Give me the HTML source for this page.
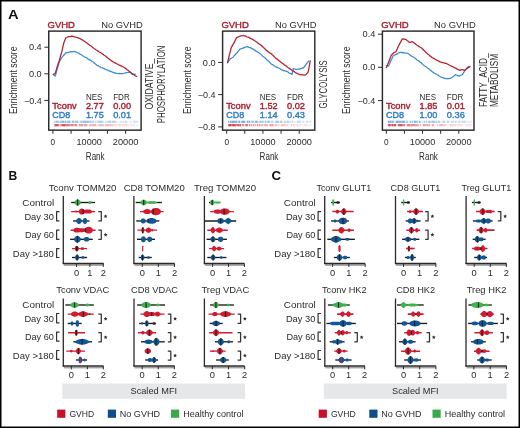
<!DOCTYPE html>
<html><head><meta charset="utf-8"><title>Figure</title>
<style>html,body{margin:0;padding:0;background:#fff;}body{width:520px;height:428px;overflow:hidden;font-family:"Liberation Sans",sans-serif;}svg{display:block;will-change:transform;}</style>
</head><body>
<svg width="520" height="428" viewBox="0 0 520 428" font-family="'Liberation Sans', sans-serif"><rect x="0" y="0" width="520" height="428" fill="#fff"/>
<text x="7.90" y="18.60" font-size="13.6" fill="#111" font-weight="bold" textLength="10.60" lengthAdjust="spacingAndGlyphs">A</text>
<text x="47.55" y="27.90" font-size="8.9" fill="#ab1d2e" stroke="#ab1d2e" stroke-width="0.38" stroke-linejoin="round" textLength="27.40" lengthAdjust="spacingAndGlyphs">GVHD</text>
<text x="142.90" y="28.00" font-size="8.9" fill="#2b2b2b" text-anchor="end" textLength="41.70" lengthAdjust="spacingAndGlyphs">No GVHD</text>
<line x1="44.35" y1="47.20" x2="48.75" y2="47.20" stroke="#2a2a2a" stroke-width="1.0"/>
<text x="41.75" y="50.30" font-size="8.7" fill="#2b2b2b" text-anchor="end" textLength="12.80" lengthAdjust="spacingAndGlyphs">0.4</text>
<line x1="44.35" y1="73.80" x2="48.75" y2="73.80" stroke="#2a2a2a" stroke-width="1.0"/>
<text x="41.75" y="76.90" font-size="8.7" fill="#2b2b2b" text-anchor="end" textLength="12.80" lengthAdjust="spacingAndGlyphs">0.0</text>
<line x1="44.35" y1="100.40" x2="48.75" y2="100.40" stroke="#2a2a2a" stroke-width="1.0"/>
<text x="41.75" y="103.50" font-size="8.7" fill="#2b2b2b" text-anchor="end" textLength="17.80" lengthAdjust="spacingAndGlyphs">−0.4</text>
<line x1="52.90" y1="130.15" x2="52.90" y2="133.75" stroke="#2a2a2a" stroke-width="1.0"/>
<line x1="71.08" y1="130.15" x2="71.08" y2="133.75" stroke="#2a2a2a" stroke-width="1.0"/>
<line x1="89.26" y1="130.15" x2="89.26" y2="133.75" stroke="#2a2a2a" stroke-width="1.0"/>
<line x1="107.44" y1="130.15" x2="107.44" y2="133.75" stroke="#2a2a2a" stroke-width="1.0"/>
<line x1="125.62" y1="130.15" x2="125.62" y2="133.75" stroke="#2a2a2a" stroke-width="1.0"/>
<text x="52.90" y="144.80" font-size="9.2" fill="#2b2b2b" text-anchor="middle" textLength="4.60" lengthAdjust="spacingAndGlyphs">0</text>
<text x="89.26" y="144.80" font-size="9.2" fill="#2b2b2b" text-anchor="middle" textLength="25.40" lengthAdjust="spacingAndGlyphs">10000</text>
<text x="125.62" y="144.80" font-size="9.2" fill="#2b2b2b" text-anchor="middle" textLength="25.60" lengthAdjust="spacingAndGlyphs">20000</text>
<text x="95.22" y="160.20" font-size="10.4" fill="#2b2b2b" text-anchor="middle" textLength="18.80" lengthAdjust="spacingAndGlyphs">Rank</text>
<text x="16.50" y="114.00" font-size="10.4" fill="#2b2b2b" textLength="67.60" lengthAdjust="spacingAndGlyphs" transform="rotate(-90 16.50 114.00)">Enrichment score</text>
<text x="85.95" y="99.90" font-size="8.8" fill="#2b2b2b" textLength="16.40" lengthAdjust="spacingAndGlyphs">NES</text>
<text x="113.15" y="99.90" font-size="8.8" fill="#2b2b2b" textLength="16.60" lengthAdjust="spacingAndGlyphs">FDR</text>
<text x="52.35" y="108.80" font-size="8.8" fill="#ab1d2e" stroke="#ab1d2e" stroke-width="0.38" stroke-linejoin="round" textLength="24.40" lengthAdjust="spacingAndGlyphs">Tconv</text>
<text x="52.35" y="118.40" font-size="8.8" fill="#2e7cc7" stroke="#2e7cc7" stroke-width="0.38" stroke-linejoin="round" textLength="18.00" lengthAdjust="spacingAndGlyphs">CD8</text>
<text x="85.95" y="108.80" font-size="8.8" fill="#ab1d2e" stroke="#ab1d2e" stroke-width="0.38" stroke-linejoin="round" textLength="17.80" lengthAdjust="spacingAndGlyphs">2.77</text>
<text x="113.15" y="108.80" font-size="8.8" fill="#ab1d2e" stroke="#ab1d2e" stroke-width="0.38" stroke-linejoin="round" textLength="18.00" lengthAdjust="spacingAndGlyphs">0.00</text>
<text x="85.95" y="118.40" font-size="8.8" fill="#2e7cc7" stroke="#2e7cc7" stroke-width="0.38" stroke-linejoin="round" textLength="17.80" lengthAdjust="spacingAndGlyphs">1.75</text>
<text x="113.15" y="118.40" font-size="8.8" fill="#2e7cc7" stroke="#2e7cc7" stroke-width="0.38" stroke-linejoin="round" textLength="18.00" lengthAdjust="spacingAndGlyphs">0.01</text>
<rect x="54.25" y="120.70" width="1.0" height="2.2" fill="#3a86cf" fill-opacity="0.59"/>
<rect x="55.25" y="120.70" width="1.0" height="2.2" fill="#3a86cf" fill-opacity="0.18"/>
<rect x="56.25" y="120.70" width="1.0" height="2.2" fill="#3a86cf" fill-opacity="0.67"/>
<rect x="57.25" y="120.70" width="1.0" height="2.2" fill="#3a86cf" fill-opacity="0.49"/>
<rect x="58.25" y="120.70" width="1.0" height="2.2" fill="#3a86cf" fill-opacity="0.48"/>
<rect x="59.25" y="120.70" width="1.0" height="2.2" fill="#3a86cf" fill-opacity="0.12"/>
<rect x="60.25" y="120.70" width="1.0" height="2.2" fill="#3a86cf" fill-opacity="0.63"/>
<rect x="61.25" y="120.70" width="1.0" height="2.2" fill="#3a86cf" fill-opacity="0.51"/>
<rect x="62.25" y="120.70" width="1.0" height="2.2" fill="#3a86cf" fill-opacity="0.71"/>
<rect x="63.25" y="120.70" width="1.0" height="2.2" fill="#3a86cf" fill-opacity="0.69"/>
<rect x="64.25" y="120.70" width="1.0" height="2.2" fill="#3a86cf" fill-opacity="0.21"/>
<rect x="65.25" y="120.70" width="1.0" height="2.2" fill="#3a86cf" fill-opacity="0.80"/>
<rect x="66.25" y="120.70" width="1.0" height="2.2" fill="#3a86cf" fill-opacity="0.13"/>
<rect x="67.25" y="120.70" width="1.0" height="2.2" fill="#3a86cf" fill-opacity="0.59"/>
<rect x="68.25" y="120.70" width="1.0" height="2.2" fill="#3a86cf" fill-opacity="0.54"/>
<rect x="69.25" y="120.70" width="1.0" height="2.2" fill="#3a86cf" fill-opacity="0.71"/>
<rect x="70.25" y="120.70" width="1.0" height="2.2" fill="#3a86cf" fill-opacity="0.17"/>
<rect x="71.25" y="120.70" width="1.0" height="2.2" fill="#3a86cf" fill-opacity="0.12"/>
<rect x="72.25" y="120.70" width="1.0" height="2.2" fill="#3a86cf" fill-opacity="0.73"/>
<rect x="73.25" y="120.70" width="1.0" height="2.2" fill="#3a86cf" fill-opacity="0.52"/>
<rect x="74.25" y="120.70" width="1.0" height="2.2" fill="#3a86cf" fill-opacity="0.14"/>
<rect x="75.25" y="120.70" width="1.0" height="2.2" fill="#3a86cf" fill-opacity="0.66"/>
<rect x="76.25" y="120.70" width="1.0" height="2.2" fill="#3a86cf" fill-opacity="0.48"/>
<rect x="77.25" y="120.70" width="1.0" height="2.2" fill="#3a86cf" fill-opacity="0.56"/>
<rect x="78.25" y="120.70" width="1.0" height="2.2" fill="#3a86cf" fill-opacity="0.16"/>
<rect x="79.25" y="120.70" width="1.0" height="2.2" fill="#3a86cf" fill-opacity="0.17"/>
<rect x="80.25" y="120.70" width="1.0" height="2.2" fill="#3a86cf" fill-opacity="0.51"/>
<rect x="81.25" y="120.70" width="1.0" height="2.2" fill="#3a86cf" fill-opacity="0.43"/>
<rect x="82.25" y="120.70" width="1.0" height="2.2" fill="#3a86cf" fill-opacity="0.39"/>
<rect x="83.25" y="120.70" width="1.0" height="2.2" fill="#3a86cf" fill-opacity="0.60"/>
<rect x="84.25" y="120.70" width="1.0" height="2.2" fill="#3a86cf" fill-opacity="0.63"/>
<rect x="85.25" y="120.70" width="1.0" height="2.2" fill="#3a86cf" fill-opacity="0.57"/>
<rect x="86.25" y="120.70" width="1.0" height="2.2" fill="#3a86cf" fill-opacity="0.53"/>
<rect x="87.25" y="120.70" width="1.0" height="2.2" fill="#3a86cf" fill-opacity="0.60"/>
<rect x="88.25" y="120.70" width="1.0" height="2.2" fill="#3a86cf" fill-opacity="0.49"/>
<rect x="89.25" y="120.70" width="1.0" height="2.2" fill="#3a86cf" fill-opacity="0.36"/>
<rect x="90.25" y="120.70" width="1.0" height="2.2" fill="#3a86cf" fill-opacity="0.52"/>
<rect x="91.25" y="120.70" width="1.0" height="2.2" fill="#3a86cf" fill-opacity="0.14"/>
<rect x="92.25" y="120.70" width="1.0" height="2.2" fill="#3a86cf" fill-opacity="0.44"/>
<rect x="93.25" y="120.70" width="1.0" height="2.2" fill="#3a86cf" fill-opacity="0.34"/>
<rect x="94.25" y="120.70" width="1.0" height="2.2" fill="#3a86cf" fill-opacity="0.09"/>
<rect x="95.25" y="120.70" width="1.0" height="2.2" fill="#3a86cf" fill-opacity="0.34"/>
<rect x="96.25" y="120.70" width="1.0" height="2.2" fill="#3a86cf" fill-opacity="0.09"/>
<rect x="97.25" y="120.70" width="1.0" height="2.2" fill="#3a86cf" fill-opacity="0.42"/>
<rect x="98.25" y="120.70" width="1.0" height="2.2" fill="#3a86cf" fill-opacity="0.33"/>
<rect x="99.25" y="120.70" width="1.0" height="2.2" fill="#3a86cf" fill-opacity="0.45"/>
<rect x="100.25" y="120.70" width="1.0" height="2.2" fill="#3a86cf" fill-opacity="0.51"/>
<rect x="101.25" y="120.70" width="1.0" height="2.2" fill="#3a86cf" fill-opacity="0.37"/>
<rect x="102.25" y="120.70" width="1.0" height="2.2" fill="#3a86cf" fill-opacity="0.38"/>
<rect x="103.25" y="120.70" width="1.0" height="2.2" fill="#3a86cf" fill-opacity="0.13"/>
<rect x="104.25" y="120.70" width="1.0" height="2.2" fill="#3a86cf" fill-opacity="0.08"/>
<rect x="105.25" y="120.70" width="1.0" height="2.2" fill="#3a86cf" fill-opacity="0.34"/>
<rect x="106.25" y="120.70" width="1.0" height="2.2" fill="#3a86cf" fill-opacity="0.10"/>
<rect x="107.25" y="120.70" width="1.0" height="2.2" fill="#3a86cf" fill-opacity="0.28"/>
<rect x="108.25" y="120.70" width="1.0" height="2.2" fill="#3a86cf" fill-opacity="0.35"/>
<rect x="109.25" y="120.70" width="1.0" height="2.2" fill="#3a86cf" fill-opacity="0.48"/>
<rect x="110.25" y="120.70" width="1.0" height="2.2" fill="#3a86cf" fill-opacity="0.38"/>
<rect x="111.25" y="120.70" width="1.0" height="2.2" fill="#3a86cf" fill-opacity="0.10"/>
<rect x="112.25" y="120.70" width="1.0" height="2.2" fill="#3a86cf" fill-opacity="0.44"/>
<rect x="113.25" y="120.70" width="1.0" height="2.2" fill="#3a86cf" fill-opacity="0.43"/>
<rect x="114.25" y="120.70" width="1.0" height="2.2" fill="#3a86cf" fill-opacity="0.33"/>
<rect x="115.25" y="120.70" width="1.0" height="2.2" fill="#3a86cf" fill-opacity="0.26"/>
<rect x="116.25" y="120.70" width="1.0" height="2.2" fill="#3a86cf" fill-opacity="0.06"/>
<rect x="117.25" y="120.70" width="1.0" height="2.2" fill="#3a86cf" fill-opacity="0.07"/>
<rect x="118.25" y="120.70" width="1.0" height="2.2" fill="#3a86cf" fill-opacity="0.07"/>
<rect x="119.25" y="120.70" width="1.0" height="2.2" fill="#3a86cf" fill-opacity="0.06"/>
<rect x="120.25" y="120.70" width="1.0" height="2.2" fill="#3a86cf" fill-opacity="0.24"/>
<rect x="121.25" y="120.70" width="1.0" height="2.2" fill="#3a86cf" fill-opacity="0.22"/>
<rect x="122.25" y="120.70" width="1.0" height="2.2" fill="#3a86cf" fill-opacity="0.08"/>
<rect x="123.25" y="120.70" width="1.0" height="2.2" fill="#3a86cf" fill-opacity="0.26"/>
<rect x="124.25" y="120.70" width="1.0" height="2.2" fill="#3a86cf" fill-opacity="0.07"/>
<rect x="125.25" y="120.70" width="1.0" height="2.2" fill="#3a86cf" fill-opacity="0.35"/>
<rect x="126.25" y="120.70" width="1.0" height="2.2" fill="#3a86cf" fill-opacity="0.28"/>
<rect x="127.25" y="120.70" width="1.0" height="2.2" fill="#3a86cf" fill-opacity="0.05"/>
<rect x="128.25" y="120.70" width="1.0" height="2.2" fill="#3a86cf" fill-opacity="0.06"/>
<rect x="129.25" y="120.70" width="1.0" height="2.2" fill="#3a86cf" fill-opacity="0.08"/>
<rect x="130.25" y="120.70" width="1.0" height="2.2" fill="#3a86cf" fill-opacity="0.19"/>
<rect x="131.25" y="120.70" width="1.0" height="2.2" fill="#3a86cf" fill-opacity="0.06"/>
<rect x="132.25" y="120.70" width="1.0" height="2.2" fill="#3a86cf" fill-opacity="0.06"/>
<rect x="133.25" y="120.70" width="1.0" height="2.2" fill="#3a86cf" fill-opacity="0.25"/>
<rect x="134.25" y="120.70" width="1.0" height="2.2" fill="#3a86cf" fill-opacity="0.29"/>
<rect x="135.25" y="120.70" width="1.0" height="2.2" fill="#3a86cf" fill-opacity="0.20"/>
<rect x="136.25" y="120.70" width="1.0" height="2.2" fill="#3a86cf" fill-opacity="0.18"/>
<rect x="137.25" y="120.70" width="1.0" height="2.2" fill="#3a86cf" fill-opacity="0.23"/>
<rect x="54.25" y="124.00" width="1.0" height="2.3" fill="#c11f33" fill-opacity="0.66"/>
<rect x="55.25" y="124.00" width="1.0" height="2.3" fill="#c11f33" fill-opacity="0.87"/>
<rect x="56.25" y="124.00" width="1.0" height="2.3" fill="#c11f33" fill-opacity="0.89"/>
<rect x="57.25" y="124.00" width="1.0" height="2.3" fill="#c11f33" fill-opacity="0.87"/>
<rect x="58.25" y="124.00" width="1.0" height="2.3" fill="#c11f33" fill-opacity="0.62"/>
<rect x="59.25" y="124.00" width="1.0" height="2.3" fill="#c11f33" fill-opacity="0.17"/>
<rect x="60.25" y="124.00" width="1.0" height="2.3" fill="#c11f33" fill-opacity="0.53"/>
<rect x="61.25" y="124.00" width="1.0" height="2.3" fill="#c11f33" fill-opacity="0.63"/>
<rect x="62.25" y="124.00" width="1.0" height="2.3" fill="#c11f33" fill-opacity="0.93"/>
<rect x="63.25" y="124.00" width="1.0" height="2.3" fill="#c11f33" fill-opacity="0.92"/>
<rect x="64.25" y="124.00" width="1.0" height="2.3" fill="#c11f33" fill-opacity="0.93"/>
<rect x="65.25" y="124.00" width="1.0" height="2.3" fill="#c11f33" fill-opacity="0.62"/>
<rect x="66.25" y="124.00" width="1.0" height="2.3" fill="#c11f33" fill-opacity="0.61"/>
<rect x="67.25" y="124.00" width="1.0" height="2.3" fill="#c11f33" fill-opacity="0.79"/>
<rect x="68.25" y="124.00" width="1.0" height="2.3" fill="#c11f33" fill-opacity="0.64"/>
<rect x="69.25" y="124.00" width="1.0" height="2.3" fill="#c11f33" fill-opacity="0.58"/>
<rect x="70.25" y="124.00" width="1.0" height="2.3" fill="#c11f33" fill-opacity="0.40"/>
<rect x="71.25" y="124.00" width="1.0" height="2.3" fill="#c11f33" fill-opacity="0.64"/>
<rect x="72.25" y="124.00" width="1.0" height="2.3" fill="#c11f33" fill-opacity="0.58"/>
<rect x="73.25" y="124.00" width="1.0" height="2.3" fill="#c11f33" fill-opacity="0.41"/>
<rect x="74.25" y="124.00" width="1.0" height="2.3" fill="#c11f33" fill-opacity="0.45"/>
<rect x="75.25" y="124.00" width="1.0" height="2.3" fill="#c11f33" fill-opacity="0.62"/>
<rect x="76.25" y="124.00" width="1.0" height="2.3" fill="#c11f33" fill-opacity="0.45"/>
<rect x="77.25" y="124.00" width="1.0" height="2.3" fill="#c11f33" fill-opacity="0.13"/>
<rect x="78.25" y="124.00" width="1.0" height="2.3" fill="#c11f33" fill-opacity="0.09"/>
<rect x="79.25" y="124.00" width="1.0" height="2.3" fill="#c11f33" fill-opacity="0.57"/>
<rect x="80.25" y="124.00" width="1.0" height="2.3" fill="#c11f33" fill-opacity="0.36"/>
<rect x="81.25" y="124.00" width="1.0" height="2.3" fill="#c11f33" fill-opacity="0.57"/>
<rect x="82.25" y="124.00" width="1.0" height="2.3" fill="#c11f33" fill-opacity="0.40"/>
<rect x="83.25" y="124.00" width="1.0" height="2.3" fill="#c11f33" fill-opacity="0.09"/>
<rect x="84.25" y="124.00" width="1.0" height="2.3" fill="#c11f33" fill-opacity="0.54"/>
<rect x="85.25" y="124.00" width="1.0" height="2.3" fill="#c11f33" fill-opacity="0.43"/>
<rect x="86.25" y="124.00" width="1.0" height="2.3" fill="#c11f33" fill-opacity="0.40"/>
<rect x="87.25" y="124.00" width="1.0" height="2.3" fill="#c11f33" fill-opacity="0.12"/>
<rect x="88.25" y="124.00" width="1.0" height="2.3" fill="#c11f33" fill-opacity="0.09"/>
<rect x="89.25" y="124.00" width="1.0" height="2.3" fill="#c11f33" fill-opacity="0.33"/>
<rect x="90.25" y="124.00" width="1.0" height="2.3" fill="#c11f33" fill-opacity="0.33"/>
<rect x="91.25" y="124.00" width="1.0" height="2.3" fill="#c11f33" fill-opacity="0.30"/>
<rect x="92.25" y="124.00" width="1.0" height="2.3" fill="#c11f33" fill-opacity="0.34"/>
<rect x="93.25" y="124.00" width="1.0" height="2.3" fill="#c11f33" fill-opacity="0.38"/>
<rect x="94.25" y="124.00" width="1.0" height="2.3" fill="#c11f33" fill-opacity="0.34"/>
<rect x="95.25" y="124.00" width="1.0" height="2.3" fill="#c11f33" fill-opacity="0.35"/>
<rect x="96.25" y="124.00" width="1.0" height="2.3" fill="#c11f33" fill-opacity="0.09"/>
<rect x="97.25" y="124.00" width="1.0" height="2.3" fill="#c11f33" fill-opacity="0.08"/>
<rect x="98.25" y="124.00" width="1.0" height="2.3" fill="#c11f33" fill-opacity="0.23"/>
<rect x="99.25" y="124.00" width="1.0" height="2.3" fill="#c11f33" fill-opacity="0.26"/>
<rect x="100.25" y="124.00" width="1.0" height="2.3" fill="#c11f33" fill-opacity="0.36"/>
<rect x="101.25" y="124.00" width="1.0" height="2.3" fill="#c11f33" fill-opacity="0.28"/>
<rect x="102.25" y="124.00" width="1.0" height="2.3" fill="#c11f33" fill-opacity="0.31"/>
<rect x="103.25" y="124.00" width="1.0" height="2.3" fill="#c11f33" fill-opacity="0.23"/>
<rect x="104.25" y="124.00" width="1.0" height="2.3" fill="#c11f33" fill-opacity="0.06"/>
<rect x="105.25" y="124.00" width="1.0" height="2.3" fill="#c11f33" fill-opacity="0.32"/>
<rect x="106.25" y="124.00" width="1.0" height="2.3" fill="#c11f33" fill-opacity="0.28"/>
<rect x="107.25" y="124.00" width="1.0" height="2.3" fill="#c11f33" fill-opacity="0.33"/>
<rect x="108.25" y="124.00" width="1.0" height="2.3" fill="#c11f33" fill-opacity="0.28"/>
<rect x="109.25" y="124.00" width="1.0" height="2.3" fill="#c11f33" fill-opacity="0.25"/>
<rect x="110.25" y="124.00" width="1.0" height="2.3" fill="#c11f33" fill-opacity="0.24"/>
<rect x="111.25" y="124.00" width="1.0" height="2.3" fill="#c11f33" fill-opacity="0.24"/>
<rect x="112.25" y="124.00" width="1.0" height="2.3" fill="#c11f33" fill-opacity="0.26"/>
<rect x="113.25" y="124.00" width="1.0" height="2.3" fill="#c11f33" fill-opacity="0.07"/>
<rect x="114.25" y="124.00" width="1.0" height="2.3" fill="#c11f33" fill-opacity="0.23"/>
<rect x="115.25" y="124.00" width="1.0" height="2.3" fill="#c11f33" fill-opacity="0.06"/>
<rect x="116.25" y="124.00" width="1.0" height="2.3" fill="#c11f33" fill-opacity="0.16"/>
<rect x="117.25" y="124.00" width="1.0" height="2.3" fill="#c11f33" fill-opacity="0.04"/>
<rect x="118.25" y="124.00" width="1.0" height="2.3" fill="#c11f33" fill-opacity="0.14"/>
<rect x="119.25" y="124.00" width="1.0" height="2.3" fill="#c11f33" fill-opacity="0.21"/>
<rect x="120.25" y="124.00" width="1.0" height="2.3" fill="#c11f33" fill-opacity="0.14"/>
<rect x="121.25" y="124.00" width="1.0" height="2.3" fill="#c11f33" fill-opacity="0.05"/>
<rect x="122.25" y="124.00" width="1.0" height="2.3" fill="#c11f33" fill-opacity="0.20"/>
<rect x="123.25" y="124.00" width="1.0" height="2.3" fill="#c11f33" fill-opacity="0.13"/>
<rect x="124.25" y="124.00" width="1.0" height="2.3" fill="#c11f33" fill-opacity="0.14"/>
<rect x="125.25" y="124.00" width="1.0" height="2.3" fill="#c11f33" fill-opacity="0.18"/>
<rect x="126.25" y="124.00" width="1.0" height="2.3" fill="#c11f33" fill-opacity="0.11"/>
<rect x="127.25" y="124.00" width="1.0" height="2.3" fill="#c11f33" fill-opacity="0.13"/>
<rect x="128.25" y="124.00" width="1.0" height="2.3" fill="#c11f33" fill-opacity="0.10"/>
<rect x="129.25" y="124.00" width="1.0" height="2.3" fill="#c11f33" fill-opacity="0.03"/>
<rect x="130.25" y="124.00" width="1.0" height="2.3" fill="#c11f33" fill-opacity="0.12"/>
<rect x="131.25" y="124.00" width="1.0" height="2.3" fill="#c11f33" fill-opacity="0.08"/>
<rect x="132.25" y="124.00" width="1.0" height="2.3" fill="#c11f33" fill-opacity="0.12"/>
<rect x="133.25" y="124.00" width="1.0" height="2.3" fill="#c11f33" fill-opacity="0.09"/>
<rect x="134.25" y="124.00" width="1.0" height="2.3" fill="#c11f33" fill-opacity="0.14"/>
<rect x="135.25" y="124.00" width="1.0" height="2.3" fill="#c11f33" fill-opacity="0.02"/>
<rect x="136.25" y="124.00" width="1.0" height="2.3" fill="#c11f33" fill-opacity="0.09"/>
<rect x="137.25" y="124.00" width="1.0" height="2.3" fill="#c11f33" fill-opacity="0.03"/>
<path d="M53.50,75.00 L54.40,75.50 L55.30,76.10 L56.15,73.15 L57.00,69.70 L58.15,66.09 L59.30,62.10 L60.10,60.42 L60.90,58.82 L61.70,57.50 L62.58,56.73 L63.45,55.49 L64.33,54.55 L65.20,53.40 L66.08,52.85 L66.95,52.53 L67.83,52.61 L68.70,52.20 L69.63,52.02 L70.57,51.68 L71.50,51.80 L72.50,51.93 L73.50,51.61 L74.50,51.40 L75.38,51.93 L76.25,51.85 L77.12,52.66 L78.00,52.80 L78.94,53.12 L79.88,54.18 L80.82,54.51 L81.76,55.02 L82.70,55.70 L83.64,56.31 L84.58,57.12 L85.52,57.30 L86.46,57.80 L87.40,58.60 L88.34,59.20 L89.28,59.60 L90.22,60.11 L91.16,60.72 L92.10,61.50 L93.02,61.93 L93.94,62.72 L94.86,63.49 L95.78,64.18 L96.70,65.00 L97.52,65.66 L98.34,65.87 L99.16,66.50 L99.98,66.81 L100.80,67.50 L101.64,67.74 L102.49,67.87 L103.33,68.34 L104.17,68.52 L105.01,69.28 L105.86,69.50 L106.70,69.80 L107.53,69.94 L108.36,70.44 L109.19,71.05 L110.01,70.88 L110.84,71.63 L111.67,71.73 L112.50,72.10 L113.38,72.40 L114.25,72.90 L115.12,72.94 L116.00,73.30 L116.84,73.35 L117.69,73.50 L118.53,73.72 L119.37,73.38 L120.21,73.71 L121.06,73.68 L121.90,73.60 L122.82,73.54 L123.74,73.26 L124.66,73.09 L125.58,72.77 L126.50,72.90 L127.38,72.48 L128.25,72.24 L129.12,72.44 L130.00,72.10 L130.80,72.75 L131.60,73.50 L132.40,74.50 L133.37,74.12 L134.33,74.44 L135.30,74.10" fill="none" stroke="#3a8ad2" stroke-width="1.25" stroke-linejoin="round" stroke-linecap="round"/>
<path d="M53.30,74.40 L54.30,73.91 L55.30,73.20 L56.15,70.35 L57.00,67.40 L58.15,63.83 L59.30,60.40 L60.10,57.59 L60.90,54.87 L61.70,52.20 L62.75,47.54 L63.80,42.90 L64.80,40.30 L65.80,37.90 L66.77,37.48 L67.73,37.03 L68.70,36.70 L69.58,36.69 L70.45,36.54 L71.33,36.26 L72.20,36.10 L73.08,36.30 L73.95,36.79 L74.83,36.87 L75.70,37.20 L76.64,37.48 L77.58,37.69 L78.52,38.12 L79.46,38.47 L80.40,38.80 L81.32,39.38 L82.24,39.87 L83.16,40.54 L84.08,40.97 L85.00,41.70 L85.94,42.33 L86.88,42.98 L87.82,43.77 L88.76,44.36 L89.70,45.20 L90.64,45.76 L91.58,46.54 L92.52,47.22 L93.46,48.03 L94.40,48.70 L95.31,49.29 L96.23,49.95 L97.14,50.50 L98.06,51.11 L98.97,51.74 L99.89,52.18 L100.80,52.80 L101.64,53.33 L102.49,54.12 L103.33,54.45 L104.17,55.21 L105.01,55.77 L105.86,56.18 L106.70,56.90 L107.53,57.67 L108.36,58.36 L109.19,58.95 L110.01,59.66 L110.84,60.35 L111.67,60.82 L112.50,61.60 L113.34,62.02 L114.19,62.43 L115.03,62.94 L115.87,63.35 L116.71,63.77 L117.56,64.11 L118.40,64.50 L119.23,65.05 L120.06,65.41 L120.89,65.84 L121.71,66.13 L122.54,66.50 L123.37,66.96 L124.20,67.50 L125.14,68.16 L126.08,68.78 L127.02,69.70 L127.96,70.32 L128.90,71.00 L129.78,71.76 L130.65,72.49 L131.53,73.23 L132.40,73.90 L133.22,74.40 L134.04,74.75 L134.86,75.49 L135.68,75.97 L136.50,76.40" fill="none" stroke="#b62231" stroke-width="1.3" stroke-linejoin="round" stroke-linecap="round"/>
<rect x="48.75" y="31.10" width="92.35" height="99.05" fill="none" stroke="#2a2a2a" stroke-width="1.45"/>
<text x="221.40" y="27.90" font-size="8.9" fill="#ab1d2e" stroke="#ab1d2e" stroke-width="0.38" stroke-linejoin="round" textLength="27.40" lengthAdjust="spacingAndGlyphs">GVHD</text>
<text x="316.60" y="28.00" font-size="8.9" fill="#2b2b2b" text-anchor="end" textLength="41.70" lengthAdjust="spacingAndGlyphs">No GVHD</text>
<line x1="218.20" y1="62.40" x2="222.60" y2="62.40" stroke="#2a2a2a" stroke-width="1.0"/>
<text x="215.60" y="65.50" font-size="8.7" fill="#2b2b2b" text-anchor="end" textLength="12.80" lengthAdjust="spacingAndGlyphs">0.0</text>
<line x1="218.20" y1="94.60" x2="222.60" y2="94.60" stroke="#2a2a2a" stroke-width="1.0"/>
<text x="215.60" y="97.70" font-size="8.7" fill="#2b2b2b" text-anchor="end" textLength="17.80" lengthAdjust="spacingAndGlyphs">−0.4</text>
<line x1="218.20" y1="126.90" x2="222.60" y2="126.90" stroke="#2a2a2a" stroke-width="1.0"/>
<text x="215.60" y="130.00" font-size="8.7" fill="#2b2b2b" text-anchor="end" textLength="17.80" lengthAdjust="spacingAndGlyphs">−0.8</text>
<line x1="226.70" y1="130.15" x2="226.70" y2="133.75" stroke="#2a2a2a" stroke-width="1.0"/>
<line x1="244.82" y1="130.15" x2="244.82" y2="133.75" stroke="#2a2a2a" stroke-width="1.0"/>
<line x1="262.94" y1="130.15" x2="262.94" y2="133.75" stroke="#2a2a2a" stroke-width="1.0"/>
<line x1="281.06" y1="130.15" x2="281.06" y2="133.75" stroke="#2a2a2a" stroke-width="1.0"/>
<line x1="299.18" y1="130.15" x2="299.18" y2="133.75" stroke="#2a2a2a" stroke-width="1.0"/>
<text x="226.70" y="144.80" font-size="9.2" fill="#2b2b2b" text-anchor="middle" textLength="4.60" lengthAdjust="spacingAndGlyphs">0</text>
<text x="262.94" y="144.80" font-size="9.2" fill="#2b2b2b" text-anchor="middle" textLength="25.40" lengthAdjust="spacingAndGlyphs">10000</text>
<text x="299.18" y="144.80" font-size="9.2" fill="#2b2b2b" text-anchor="middle" textLength="25.60" lengthAdjust="spacingAndGlyphs">20000</text>
<text x="269.00" y="160.20" font-size="10.4" fill="#2b2b2b" text-anchor="middle" textLength="18.80" lengthAdjust="spacingAndGlyphs">Rank</text>
<text x="191.00" y="114.00" font-size="10.4" fill="#2b2b2b" textLength="67.60" lengthAdjust="spacingAndGlyphs" transform="rotate(-90 191.00 114.00)">Enrichment score</text>
<text x="259.80" y="99.90" font-size="8.8" fill="#2b2b2b" textLength="16.40" lengthAdjust="spacingAndGlyphs">NES</text>
<text x="287.00" y="99.90" font-size="8.8" fill="#2b2b2b" textLength="16.60" lengthAdjust="spacingAndGlyphs">FDR</text>
<text x="226.20" y="108.80" font-size="8.8" fill="#ab1d2e" stroke="#ab1d2e" stroke-width="0.38" stroke-linejoin="round" textLength="24.40" lengthAdjust="spacingAndGlyphs">Tconv</text>
<text x="226.20" y="118.40" font-size="8.8" fill="#2e7cc7" stroke="#2e7cc7" stroke-width="0.38" stroke-linejoin="round" textLength="18.00" lengthAdjust="spacingAndGlyphs">CD8</text>
<text x="259.80" y="108.80" font-size="8.8" fill="#ab1d2e" stroke="#ab1d2e" stroke-width="0.38" stroke-linejoin="round" textLength="17.80" lengthAdjust="spacingAndGlyphs">1.52</text>
<text x="287.00" y="108.80" font-size="8.8" fill="#ab1d2e" stroke="#ab1d2e" stroke-width="0.38" stroke-linejoin="round" textLength="18.00" lengthAdjust="spacingAndGlyphs">0.02</text>
<text x="259.80" y="118.40" font-size="8.8" fill="#2e7cc7" stroke="#2e7cc7" stroke-width="0.38" stroke-linejoin="round" textLength="17.80" lengthAdjust="spacingAndGlyphs">1.14</text>
<text x="287.00" y="118.40" font-size="8.8" fill="#2e7cc7" stroke="#2e7cc7" stroke-width="0.38" stroke-linejoin="round" textLength="18.00" lengthAdjust="spacingAndGlyphs">0.43</text>
<rect x="228.10" y="120.70" width="1.0" height="2.2" fill="#3a86cf" fill-opacity="0.66"/>
<rect x="229.10" y="120.70" width="1.0" height="2.2" fill="#3a86cf" fill-opacity="0.18"/>
<rect x="230.10" y="120.70" width="1.0" height="2.2" fill="#3a86cf" fill-opacity="0.75"/>
<rect x="231.10" y="120.70" width="1.0" height="2.2" fill="#3a86cf" fill-opacity="0.50"/>
<rect x="232.10" y="120.70" width="1.0" height="2.2" fill="#3a86cf" fill-opacity="0.75"/>
<rect x="233.10" y="120.70" width="1.0" height="2.2" fill="#3a86cf" fill-opacity="0.75"/>
<rect x="234.10" y="120.70" width="1.0" height="2.2" fill="#3a86cf" fill-opacity="0.66"/>
<rect x="235.10" y="120.70" width="1.0" height="2.2" fill="#3a86cf" fill-opacity="0.65"/>
<rect x="236.10" y="120.70" width="1.0" height="2.2" fill="#3a86cf" fill-opacity="0.76"/>
<rect x="237.10" y="120.70" width="1.0" height="2.2" fill="#3a86cf" fill-opacity="0.18"/>
<rect x="238.10" y="120.70" width="1.0" height="2.2" fill="#3a86cf" fill-opacity="0.52"/>
<rect x="239.10" y="120.70" width="1.0" height="2.2" fill="#3a86cf" fill-opacity="0.75"/>
<rect x="240.10" y="120.70" width="1.0" height="2.2" fill="#3a86cf" fill-opacity="0.17"/>
<rect x="241.10" y="120.70" width="1.0" height="2.2" fill="#3a86cf" fill-opacity="0.49"/>
<rect x="242.10" y="120.70" width="1.0" height="2.2" fill="#3a86cf" fill-opacity="0.72"/>
<rect x="243.10" y="120.70" width="1.0" height="2.2" fill="#3a86cf" fill-opacity="0.73"/>
<rect x="244.10" y="120.70" width="1.0" height="2.2" fill="#3a86cf" fill-opacity="0.67"/>
<rect x="245.10" y="120.70" width="1.0" height="2.2" fill="#3a86cf" fill-opacity="0.16"/>
<rect x="246.10" y="120.70" width="1.0" height="2.2" fill="#3a86cf" fill-opacity="0.20"/>
<rect x="247.10" y="120.70" width="1.0" height="2.2" fill="#3a86cf" fill-opacity="0.74"/>
<rect x="248.10" y="120.70" width="1.0" height="2.2" fill="#3a86cf" fill-opacity="0.41"/>
<rect x="249.10" y="120.70" width="1.0" height="2.2" fill="#3a86cf" fill-opacity="0.67"/>
<rect x="250.10" y="120.70" width="1.0" height="2.2" fill="#3a86cf" fill-opacity="0.14"/>
<rect x="251.10" y="120.70" width="1.0" height="2.2" fill="#3a86cf" fill-opacity="0.46"/>
<rect x="252.10" y="120.70" width="1.0" height="2.2" fill="#3a86cf" fill-opacity="0.46"/>
<rect x="253.10" y="120.70" width="1.0" height="2.2" fill="#3a86cf" fill-opacity="0.43"/>
<rect x="254.10" y="120.70" width="1.0" height="2.2" fill="#3a86cf" fill-opacity="0.17"/>
<rect x="255.10" y="120.70" width="1.0" height="2.2" fill="#3a86cf" fill-opacity="0.63"/>
<rect x="256.10" y="120.70" width="1.0" height="2.2" fill="#3a86cf" fill-opacity="0.65"/>
<rect x="257.10" y="120.70" width="1.0" height="2.2" fill="#3a86cf" fill-opacity="0.44"/>
<rect x="258.10" y="120.70" width="1.0" height="2.2" fill="#3a86cf" fill-opacity="0.13"/>
<rect x="259.10" y="120.70" width="1.0" height="2.2" fill="#3a86cf" fill-opacity="0.36"/>
<rect x="260.10" y="120.70" width="1.0" height="2.2" fill="#3a86cf" fill-opacity="0.49"/>
<rect x="261.10" y="120.70" width="1.0" height="2.2" fill="#3a86cf" fill-opacity="0.40"/>
<rect x="262.10" y="120.70" width="1.0" height="2.2" fill="#3a86cf" fill-opacity="0.44"/>
<rect x="263.10" y="120.70" width="1.0" height="2.2" fill="#3a86cf" fill-opacity="0.35"/>
<rect x="264.10" y="120.70" width="1.0" height="2.2" fill="#3a86cf" fill-opacity="0.14"/>
<rect x="265.10" y="120.70" width="1.0" height="2.2" fill="#3a86cf" fill-opacity="0.60"/>
<rect x="266.10" y="120.70" width="1.0" height="2.2" fill="#3a86cf" fill-opacity="0.15"/>
<rect x="267.10" y="120.70" width="1.0" height="2.2" fill="#3a86cf" fill-opacity="0.43"/>
<rect x="268.10" y="120.70" width="1.0" height="2.2" fill="#3a86cf" fill-opacity="0.59"/>
<rect x="269.10" y="120.70" width="1.0" height="2.2" fill="#3a86cf" fill-opacity="0.42"/>
<rect x="270.10" y="120.70" width="1.0" height="2.2" fill="#3a86cf" fill-opacity="0.10"/>
<rect x="271.10" y="120.70" width="1.0" height="2.2" fill="#3a86cf" fill-opacity="0.34"/>
<rect x="272.10" y="120.70" width="1.0" height="2.2" fill="#3a86cf" fill-opacity="0.38"/>
<rect x="273.10" y="120.70" width="1.0" height="2.2" fill="#3a86cf" fill-opacity="0.09"/>
<rect x="274.10" y="120.70" width="1.0" height="2.2" fill="#3a86cf" fill-opacity="0.11"/>
<rect x="275.10" y="120.70" width="1.0" height="2.2" fill="#3a86cf" fill-opacity="0.39"/>
<rect x="276.10" y="120.70" width="1.0" height="2.2" fill="#3a86cf" fill-opacity="0.51"/>
<rect x="277.10" y="120.70" width="1.0" height="2.2" fill="#3a86cf" fill-opacity="0.44"/>
<rect x="278.10" y="120.70" width="1.0" height="2.2" fill="#3a86cf" fill-opacity="0.51"/>
<rect x="279.10" y="120.70" width="1.0" height="2.2" fill="#3a86cf" fill-opacity="0.11"/>
<rect x="280.10" y="120.70" width="1.0" height="2.2" fill="#3a86cf" fill-opacity="0.45"/>
<rect x="281.10" y="120.70" width="1.0" height="2.2" fill="#3a86cf" fill-opacity="0.45"/>
<rect x="282.10" y="120.70" width="1.0" height="2.2" fill="#3a86cf" fill-opacity="0.08"/>
<rect x="283.10" y="120.70" width="1.0" height="2.2" fill="#3a86cf" fill-opacity="0.12"/>
<rect x="284.10" y="120.70" width="1.0" height="2.2" fill="#3a86cf" fill-opacity="0.37"/>
<rect x="285.10" y="120.70" width="1.0" height="2.2" fill="#3a86cf" fill-opacity="0.32"/>
<rect x="286.10" y="120.70" width="1.0" height="2.2" fill="#3a86cf" fill-opacity="0.12"/>
<rect x="287.10" y="120.70" width="1.0" height="2.2" fill="#3a86cf" fill-opacity="0.39"/>
<rect x="288.10" y="120.70" width="1.0" height="2.2" fill="#3a86cf" fill-opacity="0.36"/>
<rect x="289.10" y="120.70" width="1.0" height="2.2" fill="#3a86cf" fill-opacity="0.07"/>
<rect x="290.10" y="120.70" width="1.0" height="2.2" fill="#3a86cf" fill-opacity="0.28"/>
<rect x="291.10" y="120.70" width="1.0" height="2.2" fill="#3a86cf" fill-opacity="0.08"/>
<rect x="292.10" y="120.70" width="1.0" height="2.2" fill="#3a86cf" fill-opacity="0.40"/>
<rect x="293.10" y="120.70" width="1.0" height="2.2" fill="#3a86cf" fill-opacity="0.08"/>
<rect x="294.10" y="120.70" width="1.0" height="2.2" fill="#3a86cf" fill-opacity="0.06"/>
<rect x="295.10" y="120.70" width="1.0" height="2.2" fill="#3a86cf" fill-opacity="0.07"/>
<rect x="296.10" y="120.70" width="1.0" height="2.2" fill="#3a86cf" fill-opacity="0.06"/>
<rect x="297.10" y="120.70" width="1.0" height="2.2" fill="#3a86cf" fill-opacity="0.31"/>
<rect x="298.10" y="120.70" width="1.0" height="2.2" fill="#3a86cf" fill-opacity="0.34"/>
<rect x="299.10" y="120.70" width="1.0" height="2.2" fill="#3a86cf" fill-opacity="0.27"/>
<rect x="300.10" y="120.70" width="1.0" height="2.2" fill="#3a86cf" fill-opacity="0.26"/>
<rect x="301.10" y="120.70" width="1.0" height="2.2" fill="#3a86cf" fill-opacity="0.05"/>
<rect x="302.10" y="120.70" width="1.0" height="2.2" fill="#3a86cf" fill-opacity="0.09"/>
<rect x="303.10" y="120.70" width="1.0" height="2.2" fill="#3a86cf" fill-opacity="0.27"/>
<rect x="304.10" y="120.70" width="1.0" height="2.2" fill="#3a86cf" fill-opacity="0.08"/>
<rect x="305.10" y="120.70" width="1.0" height="2.2" fill="#3a86cf" fill-opacity="0.06"/>
<rect x="306.10" y="120.70" width="1.0" height="2.2" fill="#3a86cf" fill-opacity="0.23"/>
<rect x="307.10" y="120.70" width="1.0" height="2.2" fill="#3a86cf" fill-opacity="0.31"/>
<rect x="308.10" y="120.70" width="1.0" height="2.2" fill="#3a86cf" fill-opacity="0.07"/>
<rect x="309.10" y="120.70" width="1.0" height="2.2" fill="#3a86cf" fill-opacity="0.17"/>
<rect x="310.10" y="120.70" width="1.0" height="2.2" fill="#3a86cf" fill-opacity="0.28"/>
<rect x="311.10" y="120.70" width="1.0" height="2.2" fill="#3a86cf" fill-opacity="0.06"/>
<rect x="228.10" y="124.00" width="1.0" height="2.3" fill="#c11f33" fill-opacity="0.69"/>
<rect x="229.10" y="124.00" width="1.0" height="2.3" fill="#c11f33" fill-opacity="0.88"/>
<rect x="230.10" y="124.00" width="1.0" height="2.3" fill="#c11f33" fill-opacity="0.94"/>
<rect x="231.10" y="124.00" width="1.0" height="2.3" fill="#c11f33" fill-opacity="0.57"/>
<rect x="232.10" y="124.00" width="1.0" height="2.3" fill="#c11f33" fill-opacity="0.75"/>
<rect x="233.10" y="124.00" width="1.0" height="2.3" fill="#c11f33" fill-opacity="0.92"/>
<rect x="234.10" y="124.00" width="1.0" height="2.3" fill="#c11f33" fill-opacity="0.80"/>
<rect x="235.10" y="124.00" width="1.0" height="2.3" fill="#c11f33" fill-opacity="0.72"/>
<rect x="236.10" y="124.00" width="1.0" height="2.3" fill="#c11f33" fill-opacity="0.54"/>
<rect x="237.10" y="124.00" width="1.0" height="2.3" fill="#c11f33" fill-opacity="0.62"/>
<rect x="238.10" y="124.00" width="1.0" height="2.3" fill="#c11f33" fill-opacity="0.80"/>
<rect x="239.10" y="124.00" width="1.0" height="2.3" fill="#c11f33" fill-opacity="0.58"/>
<rect x="240.10" y="124.00" width="1.0" height="2.3" fill="#c11f33" fill-opacity="0.79"/>
<rect x="241.10" y="124.00" width="1.0" height="2.3" fill="#c11f33" fill-opacity="0.14"/>
<rect x="242.10" y="124.00" width="1.0" height="2.3" fill="#c11f33" fill-opacity="0.55"/>
<rect x="243.10" y="124.00" width="1.0" height="2.3" fill="#c11f33" fill-opacity="0.50"/>
<rect x="244.10" y="124.00" width="1.0" height="2.3" fill="#c11f33" fill-opacity="0.14"/>
<rect x="245.10" y="124.00" width="1.0" height="2.3" fill="#c11f33" fill-opacity="0.46"/>
<rect x="246.10" y="124.00" width="1.0" height="2.3" fill="#c11f33" fill-opacity="0.65"/>
<rect x="247.10" y="124.00" width="1.0" height="2.3" fill="#c11f33" fill-opacity="0.62"/>
<rect x="248.10" y="124.00" width="1.0" height="2.3" fill="#c11f33" fill-opacity="0.10"/>
<rect x="249.10" y="124.00" width="1.0" height="2.3" fill="#c11f33" fill-opacity="0.62"/>
<rect x="250.10" y="124.00" width="1.0" height="2.3" fill="#c11f33" fill-opacity="0.11"/>
<rect x="251.10" y="124.00" width="1.0" height="2.3" fill="#c11f33" fill-opacity="0.47"/>
<rect x="252.10" y="124.00" width="1.0" height="2.3" fill="#c11f33" fill-opacity="0.11"/>
<rect x="253.10" y="124.00" width="1.0" height="2.3" fill="#c11f33" fill-opacity="0.51"/>
<rect x="254.10" y="124.00" width="1.0" height="2.3" fill="#c11f33" fill-opacity="0.10"/>
<rect x="255.10" y="124.00" width="1.0" height="2.3" fill="#c11f33" fill-opacity="0.41"/>
<rect x="256.10" y="124.00" width="1.0" height="2.3" fill="#c11f33" fill-opacity="0.12"/>
<rect x="257.10" y="124.00" width="1.0" height="2.3" fill="#c11f33" fill-opacity="0.51"/>
<rect x="258.10" y="124.00" width="1.0" height="2.3" fill="#c11f33" fill-opacity="0.11"/>
<rect x="259.10" y="124.00" width="1.0" height="2.3" fill="#c11f33" fill-opacity="0.53"/>
<rect x="260.10" y="124.00" width="1.0" height="2.3" fill="#c11f33" fill-opacity="0.12"/>
<rect x="261.10" y="124.00" width="1.0" height="2.3" fill="#c11f33" fill-opacity="0.34"/>
<rect x="262.10" y="124.00" width="1.0" height="2.3" fill="#c11f33" fill-opacity="0.35"/>
<rect x="263.10" y="124.00" width="1.0" height="2.3" fill="#c11f33" fill-opacity="0.10"/>
<rect x="264.10" y="124.00" width="1.0" height="2.3" fill="#c11f33" fill-opacity="0.32"/>
<rect x="265.10" y="124.00" width="1.0" height="2.3" fill="#c11f33" fill-opacity="0.41"/>
<rect x="266.10" y="124.00" width="1.0" height="2.3" fill="#c11f33" fill-opacity="0.29"/>
<rect x="267.10" y="124.00" width="1.0" height="2.3" fill="#c11f33" fill-opacity="0.30"/>
<rect x="268.10" y="124.00" width="1.0" height="2.3" fill="#c11f33" fill-opacity="0.07"/>
<rect x="269.10" y="124.00" width="1.0" height="2.3" fill="#c11f33" fill-opacity="0.26"/>
<rect x="270.10" y="124.00" width="1.0" height="2.3" fill="#c11f33" fill-opacity="0.42"/>
<rect x="271.10" y="124.00" width="1.0" height="2.3" fill="#c11f33" fill-opacity="0.38"/>
<rect x="272.10" y="124.00" width="1.0" height="2.3" fill="#c11f33" fill-opacity="0.41"/>
<rect x="273.10" y="124.00" width="1.0" height="2.3" fill="#c11f33" fill-opacity="0.26"/>
<rect x="274.10" y="124.00" width="1.0" height="2.3" fill="#c11f33" fill-opacity="0.09"/>
<rect x="275.10" y="124.00" width="1.0" height="2.3" fill="#c11f33" fill-opacity="0.34"/>
<rect x="276.10" y="124.00" width="1.0" height="2.3" fill="#c11f33" fill-opacity="0.28"/>
<rect x="277.10" y="124.00" width="1.0" height="2.3" fill="#c11f33" fill-opacity="0.06"/>
<rect x="278.10" y="124.00" width="1.0" height="2.3" fill="#c11f33" fill-opacity="0.25"/>
<rect x="279.10" y="124.00" width="1.0" height="2.3" fill="#c11f33" fill-opacity="0.09"/>
<rect x="280.10" y="124.00" width="1.0" height="2.3" fill="#c11f33" fill-opacity="0.09"/>
<rect x="281.10" y="124.00" width="1.0" height="2.3" fill="#c11f33" fill-opacity="0.24"/>
<rect x="282.10" y="124.00" width="1.0" height="2.3" fill="#c11f33" fill-opacity="0.31"/>
<rect x="283.10" y="124.00" width="1.0" height="2.3" fill="#c11f33" fill-opacity="0.19"/>
<rect x="284.10" y="124.00" width="1.0" height="2.3" fill="#c11f33" fill-opacity="0.23"/>
<rect x="285.10" y="124.00" width="1.0" height="2.3" fill="#c11f33" fill-opacity="0.20"/>
<rect x="286.10" y="124.00" width="1.0" height="2.3" fill="#c11f33" fill-opacity="0.07"/>
<rect x="287.10" y="124.00" width="1.0" height="2.3" fill="#c11f33" fill-opacity="0.21"/>
<rect x="288.10" y="124.00" width="1.0" height="2.3" fill="#c11f33" fill-opacity="0.06"/>
<rect x="289.10" y="124.00" width="1.0" height="2.3" fill="#c11f33" fill-opacity="0.04"/>
<rect x="290.10" y="124.00" width="1.0" height="2.3" fill="#c11f33" fill-opacity="0.06"/>
<rect x="291.10" y="124.00" width="1.0" height="2.3" fill="#c11f33" fill-opacity="0.23"/>
<rect x="292.10" y="124.00" width="1.0" height="2.3" fill="#c11f33" fill-opacity="0.04"/>
<rect x="293.10" y="124.00" width="1.0" height="2.3" fill="#c11f33" fill-opacity="0.23"/>
<rect x="294.10" y="124.00" width="1.0" height="2.3" fill="#c11f33" fill-opacity="0.15"/>
<rect x="295.10" y="124.00" width="1.0" height="2.3" fill="#c11f33" fill-opacity="0.04"/>
<rect x="296.10" y="124.00" width="1.0" height="2.3" fill="#c11f33" fill-opacity="0.12"/>
<rect x="297.10" y="124.00" width="1.0" height="2.3" fill="#c11f33" fill-opacity="0.19"/>
<rect x="298.10" y="124.00" width="1.0" height="2.3" fill="#c11f33" fill-opacity="0.05"/>
<rect x="299.10" y="124.00" width="1.0" height="2.3" fill="#c11f33" fill-opacity="0.12"/>
<rect x="300.10" y="124.00" width="1.0" height="2.3" fill="#c11f33" fill-opacity="0.17"/>
<rect x="301.10" y="124.00" width="1.0" height="2.3" fill="#c11f33" fill-opacity="0.03"/>
<rect x="302.10" y="124.00" width="1.0" height="2.3" fill="#c11f33" fill-opacity="0.12"/>
<rect x="303.10" y="124.00" width="1.0" height="2.3" fill="#c11f33" fill-opacity="0.04"/>
<rect x="304.10" y="124.00" width="1.0" height="2.3" fill="#c11f33" fill-opacity="0.14"/>
<rect x="305.10" y="124.00" width="1.0" height="2.3" fill="#c11f33" fill-opacity="0.14"/>
<rect x="306.10" y="124.00" width="1.0" height="2.3" fill="#c11f33" fill-opacity="0.12"/>
<rect x="307.10" y="124.00" width="1.0" height="2.3" fill="#c11f33" fill-opacity="0.10"/>
<rect x="308.10" y="124.00" width="1.0" height="2.3" fill="#c11f33" fill-opacity="0.03"/>
<rect x="309.10" y="124.00" width="1.0" height="2.3" fill="#c11f33" fill-opacity="0.10"/>
<rect x="310.10" y="124.00" width="1.0" height="2.3" fill="#c11f33" fill-opacity="0.02"/>
<rect x="311.10" y="124.00" width="1.0" height="2.3" fill="#c11f33" fill-opacity="0.08"/>
<path d="M227.60,62.70 L228.47,61.23 L229.33,60.25 L230.20,58.60 L231.35,58.28 L232.50,57.50 L233.30,56.99 L234.10,55.76 L234.90,55.10 L236.05,53.70 L237.20,52.80 L238.17,51.26 L239.13,50.20 L240.10,48.90 L241.07,48.76 L242.03,48.33 L243.00,48.10 L243.82,47.60 L244.64,47.37 L245.46,47.15 L246.28,46.84 L247.10,46.40 L247.98,46.93 L248.87,47.37 L249.75,47.65 L250.63,47.71 L251.52,48.52 L252.40,48.70 L253.32,49.16 L254.24,49.90 L255.16,50.36 L256.08,51.16 L257.00,51.60 L257.94,52.12 L258.88,52.85 L259.82,53.55 L260.76,54.19 L261.70,55.10 L262.64,56.15 L263.58,56.79 L264.52,57.46 L265.46,58.32 L266.40,59.20 L267.20,60.25 L268.00,60.72 L268.80,61.31 L269.60,62.41 L270.40,63.08 L271.20,64.04 L272.00,64.50 L272.80,64.72 L273.60,65.40 L274.40,66.07 L275.20,66.54 L276.00,66.80 L276.84,67.48 L277.69,67.38 L278.53,67.96 L279.37,68.29 L280.21,68.76 L281.06,69.66 L281.90,69.80 L282.75,70.13 L283.60,70.62 L284.45,70.57 L285.30,71.15 L286.15,71.19 L287.00,71.50 L287.83,71.86 L288.67,72.67 L289.50,73.27 L290.33,73.26 L291.17,74.06 L292.00,74.50 L293.40,68.50 L294.27,68.91 L295.13,69.00 L296.00,69.50 L296.85,69.32 L297.70,69.08 L298.55,69.02 L299.40,69.10 L300.22,68.69 L301.04,68.64 L301.86,68.41 L302.68,67.88 L303.50,67.80 L304.50,66.36 L305.50,65.50 L306.50,63.85 L307.50,62.40 L308.80,61.00" fill="none" stroke="#3a8ad2" stroke-width="1.25" stroke-linejoin="round" stroke-linecap="round"/>
<path d="M227.60,62.70 L229.20,55.70 L230.25,51.65 L231.30,47.50 L232.50,45.36 L233.70,43.40 L234.67,41.41 L235.63,39.44 L236.60,37.60 L237.57,37.29 L238.53,36.81 L239.50,36.40 L240.32,36.09 L241.14,35.92 L241.96,35.83 L242.78,35.70 L243.60,35.50 L244.42,35.84 L245.24,35.98 L246.06,36.30 L246.88,36.76 L247.70,37.00 L248.64,37.43 L249.58,37.85 L250.52,38.32 L251.46,38.98 L252.40,39.30 L253.32,39.84 L254.24,40.52 L255.16,41.06 L256.08,41.67 L257.00,42.30 L257.94,43.11 L258.88,43.85 L259.82,44.36 L260.76,45.01 L261.70,45.80 L262.64,46.79 L263.58,47.55 L264.52,48.41 L265.46,49.60 L266.40,50.40 L267.20,50.96 L268.00,51.67 L268.80,52.13 L269.60,52.86 L270.40,53.32 L271.20,53.81 L272.00,54.50 L273.00,55.32 L274.00,56.45 L275.00,57.40 L275.86,58.14 L276.73,58.92 L277.59,59.38 L278.45,60.24 L279.31,60.86 L280.17,61.60 L281.04,62.19 L281.90,63.00 L282.75,63.55 L283.61,64.24 L284.46,64.98 L285.32,65.36 L286.17,66.09 L287.03,66.80 L287.88,67.47 L288.74,67.85 L289.59,68.45 L290.45,69.31 L291.30,69.80 L292.23,70.57 L293.15,71.04 L294.07,71.54 L295.00,72.30 L295.88,72.87 L296.76,73.15 L297.64,73.74 L298.52,74.10 L299.40,74.50 L300.30,74.71 L301.20,74.63 L302.10,74.94 L303.00,74.88 L303.90,75.05 L304.80,75.20 L305.90,74.45 L307.00,73.50 L308.20,71.80 L309.30,66.00 L310.20,61.00" fill="none" stroke="#b62231" stroke-width="1.3" stroke-linejoin="round" stroke-linecap="round"/>
<rect x="222.60" y="31.10" width="92.20" height="99.05" fill="none" stroke="#2a2a2a" stroke-width="1.45"/>
<text x="381.20" y="27.90" font-size="8.9" fill="#ab1d2e" stroke="#ab1d2e" stroke-width="0.38" stroke-linejoin="round" textLength="27.40" lengthAdjust="spacingAndGlyphs">GVHD</text>
<text x="475.80" y="28.00" font-size="8.9" fill="#2b2b2b" text-anchor="end" textLength="41.70" lengthAdjust="spacingAndGlyphs">No GVHD</text>
<line x1="378.00" y1="34.20" x2="382.40" y2="34.20" stroke="#2a2a2a" stroke-width="1.0"/>
<text x="375.40" y="37.30" font-size="8.7" fill="#2b2b2b" text-anchor="end" textLength="12.80" lengthAdjust="spacingAndGlyphs">0.4</text>
<line x1="378.00" y1="67.30" x2="382.40" y2="67.30" stroke="#2a2a2a" stroke-width="1.0"/>
<text x="375.40" y="70.40" font-size="8.7" fill="#2b2b2b" text-anchor="end" textLength="12.80" lengthAdjust="spacingAndGlyphs">0.0</text>
<line x1="378.00" y1="100.60" x2="382.40" y2="100.60" stroke="#2a2a2a" stroke-width="1.0"/>
<text x="375.40" y="103.70" font-size="8.7" fill="#2b2b2b" text-anchor="end" textLength="17.80" lengthAdjust="spacingAndGlyphs">−0.4</text>
<line x1="386.30" y1="130.15" x2="386.30" y2="133.75" stroke="#2a2a2a" stroke-width="1.0"/>
<line x1="404.42" y1="130.15" x2="404.42" y2="133.75" stroke="#2a2a2a" stroke-width="1.0"/>
<line x1="422.54" y1="130.15" x2="422.54" y2="133.75" stroke="#2a2a2a" stroke-width="1.0"/>
<line x1="440.66" y1="130.15" x2="440.66" y2="133.75" stroke="#2a2a2a" stroke-width="1.0"/>
<line x1="458.78" y1="130.15" x2="458.78" y2="133.75" stroke="#2a2a2a" stroke-width="1.0"/>
<text x="386.30" y="144.80" font-size="9.2" fill="#2b2b2b" text-anchor="middle" textLength="4.60" lengthAdjust="spacingAndGlyphs">0</text>
<text x="422.54" y="144.80" font-size="9.2" fill="#2b2b2b" text-anchor="middle" textLength="25.40" lengthAdjust="spacingAndGlyphs">10000</text>
<text x="458.78" y="144.80" font-size="9.2" fill="#2b2b2b" text-anchor="middle" textLength="25.60" lengthAdjust="spacingAndGlyphs">20000</text>
<text x="428.50" y="160.20" font-size="10.4" fill="#2b2b2b" text-anchor="middle" textLength="18.80" lengthAdjust="spacingAndGlyphs">Rank</text>
<text x="349.90" y="114.00" font-size="10.4" fill="#2b2b2b" textLength="67.60" lengthAdjust="spacingAndGlyphs" transform="rotate(-90 349.90 114.00)">Enrichment score</text>
<text x="419.60" y="99.90" font-size="8.8" fill="#2b2b2b" textLength="16.40" lengthAdjust="spacingAndGlyphs">NES</text>
<text x="446.80" y="99.90" font-size="8.8" fill="#2b2b2b" textLength="16.60" lengthAdjust="spacingAndGlyphs">FDR</text>
<text x="386.00" y="108.80" font-size="8.8" fill="#ab1d2e" stroke="#ab1d2e" stroke-width="0.38" stroke-linejoin="round" textLength="24.40" lengthAdjust="spacingAndGlyphs">Tconv</text>
<text x="386.00" y="118.40" font-size="8.8" fill="#2e7cc7" stroke="#2e7cc7" stroke-width="0.38" stroke-linejoin="round" textLength="18.00" lengthAdjust="spacingAndGlyphs">CD8</text>
<text x="419.60" y="108.80" font-size="8.8" fill="#ab1d2e" stroke="#ab1d2e" stroke-width="0.38" stroke-linejoin="round" textLength="17.80" lengthAdjust="spacingAndGlyphs">1.85</text>
<text x="446.80" y="108.80" font-size="8.8" fill="#ab1d2e" stroke="#ab1d2e" stroke-width="0.38" stroke-linejoin="round" textLength="18.00" lengthAdjust="spacingAndGlyphs">0.01</text>
<text x="419.60" y="118.40" font-size="8.8" fill="#2e7cc7" stroke="#2e7cc7" stroke-width="0.38" stroke-linejoin="round" textLength="17.80" lengthAdjust="spacingAndGlyphs">1.00</text>
<text x="446.80" y="118.40" font-size="8.8" fill="#2e7cc7" stroke="#2e7cc7" stroke-width="0.38" stroke-linejoin="round" textLength="18.00" lengthAdjust="spacingAndGlyphs">0.36</text>
<rect x="387.90" y="120.70" width="1.0" height="2.2" fill="#3a86cf" fill-opacity="0.78"/>
<rect x="388.90" y="120.70" width="1.0" height="2.2" fill="#3a86cf" fill-opacity="0.55"/>
<rect x="389.90" y="120.70" width="1.0" height="2.2" fill="#3a86cf" fill-opacity="0.67"/>
<rect x="390.90" y="120.70" width="1.0" height="2.2" fill="#3a86cf" fill-opacity="0.51"/>
<rect x="391.90" y="120.70" width="1.0" height="2.2" fill="#3a86cf" fill-opacity="0.74"/>
<rect x="392.90" y="120.70" width="1.0" height="2.2" fill="#3a86cf" fill-opacity="0.48"/>
<rect x="393.90" y="120.70" width="1.0" height="2.2" fill="#3a86cf" fill-opacity="0.19"/>
<rect x="394.90" y="120.70" width="1.0" height="2.2" fill="#3a86cf" fill-opacity="0.20"/>
<rect x="395.90" y="120.70" width="1.0" height="2.2" fill="#3a86cf" fill-opacity="0.70"/>
<rect x="396.90" y="120.70" width="1.0" height="2.2" fill="#3a86cf" fill-opacity="0.71"/>
<rect x="397.90" y="120.70" width="1.0" height="2.2" fill="#3a86cf" fill-opacity="0.63"/>
<rect x="398.90" y="120.70" width="1.0" height="2.2" fill="#3a86cf" fill-opacity="0.63"/>
<rect x="399.90" y="120.70" width="1.0" height="2.2" fill="#3a86cf" fill-opacity="0.64"/>
<rect x="400.90" y="120.70" width="1.0" height="2.2" fill="#3a86cf" fill-opacity="0.48"/>
<rect x="401.90" y="120.70" width="1.0" height="2.2" fill="#3a86cf" fill-opacity="0.65"/>
<rect x="402.90" y="120.70" width="1.0" height="2.2" fill="#3a86cf" fill-opacity="0.76"/>
<rect x="403.90" y="120.70" width="1.0" height="2.2" fill="#3a86cf" fill-opacity="0.64"/>
<rect x="404.90" y="120.70" width="1.0" height="2.2" fill="#3a86cf" fill-opacity="0.16"/>
<rect x="405.90" y="120.70" width="1.0" height="2.2" fill="#3a86cf" fill-opacity="0.52"/>
<rect x="406.90" y="120.70" width="1.0" height="2.2" fill="#3a86cf" fill-opacity="0.44"/>
<rect x="407.90" y="120.70" width="1.0" height="2.2" fill="#3a86cf" fill-opacity="0.14"/>
<rect x="408.90" y="120.70" width="1.0" height="2.2" fill="#3a86cf" fill-opacity="0.15"/>
<rect x="409.90" y="120.70" width="1.0" height="2.2" fill="#3a86cf" fill-opacity="0.64"/>
<rect x="410.90" y="120.70" width="1.0" height="2.2" fill="#3a86cf" fill-opacity="0.14"/>
<rect x="411.90" y="120.70" width="1.0" height="2.2" fill="#3a86cf" fill-opacity="0.55"/>
<rect x="412.90" y="120.70" width="1.0" height="2.2" fill="#3a86cf" fill-opacity="0.17"/>
<rect x="413.90" y="120.70" width="1.0" height="2.2" fill="#3a86cf" fill-opacity="0.65"/>
<rect x="414.90" y="120.70" width="1.0" height="2.2" fill="#3a86cf" fill-opacity="0.61"/>
<rect x="415.90" y="120.70" width="1.0" height="2.2" fill="#3a86cf" fill-opacity="0.43"/>
<rect x="416.90" y="120.70" width="1.0" height="2.2" fill="#3a86cf" fill-opacity="0.52"/>
<rect x="417.90" y="120.70" width="1.0" height="2.2" fill="#3a86cf" fill-opacity="0.16"/>
<rect x="418.90" y="120.70" width="1.0" height="2.2" fill="#3a86cf" fill-opacity="0.60"/>
<rect x="419.90" y="120.70" width="1.0" height="2.2" fill="#3a86cf" fill-opacity="0.38"/>
<rect x="420.90" y="120.70" width="1.0" height="2.2" fill="#3a86cf" fill-opacity="0.14"/>
<rect x="421.90" y="120.70" width="1.0" height="2.2" fill="#3a86cf" fill-opacity="0.15"/>
<rect x="422.90" y="120.70" width="1.0" height="2.2" fill="#3a86cf" fill-opacity="0.14"/>
<rect x="423.90" y="120.70" width="1.0" height="2.2" fill="#3a86cf" fill-opacity="0.48"/>
<rect x="424.90" y="120.70" width="1.0" height="2.2" fill="#3a86cf" fill-opacity="0.10"/>
<rect x="425.90" y="120.70" width="1.0" height="2.2" fill="#3a86cf" fill-opacity="0.47"/>
<rect x="426.90" y="120.70" width="1.0" height="2.2" fill="#3a86cf" fill-opacity="0.09"/>
<rect x="427.90" y="120.70" width="1.0" height="2.2" fill="#3a86cf" fill-opacity="0.37"/>
<rect x="428.90" y="120.70" width="1.0" height="2.2" fill="#3a86cf" fill-opacity="0.50"/>
<rect x="429.90" y="120.70" width="1.0" height="2.2" fill="#3a86cf" fill-opacity="0.36"/>
<rect x="430.90" y="120.70" width="1.0" height="2.2" fill="#3a86cf" fill-opacity="0.34"/>
<rect x="431.90" y="120.70" width="1.0" height="2.2" fill="#3a86cf" fill-opacity="0.47"/>
<rect x="432.90" y="120.70" width="1.0" height="2.2" fill="#3a86cf" fill-opacity="0.53"/>
<rect x="433.90" y="120.70" width="1.0" height="2.2" fill="#3a86cf" fill-opacity="0.45"/>
<rect x="434.90" y="120.70" width="1.0" height="2.2" fill="#3a86cf" fill-opacity="0.32"/>
<rect x="435.90" y="120.70" width="1.0" height="2.2" fill="#3a86cf" fill-opacity="0.45"/>
<rect x="436.90" y="120.70" width="1.0" height="2.2" fill="#3a86cf" fill-opacity="0.12"/>
<rect x="437.90" y="120.70" width="1.0" height="2.2" fill="#3a86cf" fill-opacity="0.52"/>
<rect x="438.90" y="120.70" width="1.0" height="2.2" fill="#3a86cf" fill-opacity="0.37"/>
<rect x="439.90" y="120.70" width="1.0" height="2.2" fill="#3a86cf" fill-opacity="0.10"/>
<rect x="440.90" y="120.70" width="1.0" height="2.2" fill="#3a86cf" fill-opacity="0.11"/>
<rect x="441.90" y="120.70" width="1.0" height="2.2" fill="#3a86cf" fill-opacity="0.11"/>
<rect x="442.90" y="120.70" width="1.0" height="2.2" fill="#3a86cf" fill-opacity="0.41"/>
<rect x="443.90" y="120.70" width="1.0" height="2.2" fill="#3a86cf" fill-opacity="0.39"/>
<rect x="444.90" y="120.70" width="1.0" height="2.2" fill="#3a86cf" fill-opacity="0.08"/>
<rect x="445.90" y="120.70" width="1.0" height="2.2" fill="#3a86cf" fill-opacity="0.07"/>
<rect x="446.90" y="120.70" width="1.0" height="2.2" fill="#3a86cf" fill-opacity="0.38"/>
<rect x="447.90" y="120.70" width="1.0" height="2.2" fill="#3a86cf" fill-opacity="0.35"/>
<rect x="448.90" y="120.70" width="1.0" height="2.2" fill="#3a86cf" fill-opacity="0.07"/>
<rect x="449.90" y="120.70" width="1.0" height="2.2" fill="#3a86cf" fill-opacity="0.09"/>
<rect x="450.90" y="120.70" width="1.0" height="2.2" fill="#3a86cf" fill-opacity="0.24"/>
<rect x="451.90" y="120.70" width="1.0" height="2.2" fill="#3a86cf" fill-opacity="0.25"/>
<rect x="452.90" y="120.70" width="1.0" height="2.2" fill="#3a86cf" fill-opacity="0.27"/>
<rect x="453.90" y="120.70" width="1.0" height="2.2" fill="#3a86cf" fill-opacity="0.08"/>
<rect x="454.90" y="120.70" width="1.0" height="2.2" fill="#3a86cf" fill-opacity="0.33"/>
<rect x="455.90" y="120.70" width="1.0" height="2.2" fill="#3a86cf" fill-opacity="0.24"/>
<rect x="456.90" y="120.70" width="1.0" height="2.2" fill="#3a86cf" fill-opacity="0.06"/>
<rect x="457.90" y="120.70" width="1.0" height="2.2" fill="#3a86cf" fill-opacity="0.22"/>
<rect x="458.90" y="120.70" width="1.0" height="2.2" fill="#3a86cf" fill-opacity="0.35"/>
<rect x="459.90" y="120.70" width="1.0" height="2.2" fill="#3a86cf" fill-opacity="0.07"/>
<rect x="460.90" y="120.70" width="1.0" height="2.2" fill="#3a86cf" fill-opacity="0.20"/>
<rect x="461.90" y="120.70" width="1.0" height="2.2" fill="#3a86cf" fill-opacity="0.28"/>
<rect x="462.90" y="120.70" width="1.0" height="2.2" fill="#3a86cf" fill-opacity="0.29"/>
<rect x="463.90" y="120.70" width="1.0" height="2.2" fill="#3a86cf" fill-opacity="0.33"/>
<rect x="464.90" y="120.70" width="1.0" height="2.2" fill="#3a86cf" fill-opacity="0.22"/>
<rect x="465.90" y="120.70" width="1.0" height="2.2" fill="#3a86cf" fill-opacity="0.18"/>
<rect x="466.90" y="120.70" width="1.0" height="2.2" fill="#3a86cf" fill-opacity="0.06"/>
<rect x="467.90" y="120.70" width="1.0" height="2.2" fill="#3a86cf" fill-opacity="0.18"/>
<rect x="468.90" y="120.70" width="1.0" height="2.2" fill="#3a86cf" fill-opacity="0.17"/>
<rect x="469.90" y="120.70" width="1.0" height="2.2" fill="#3a86cf" fill-opacity="0.07"/>
<rect x="470.90" y="120.70" width="1.0" height="2.2" fill="#3a86cf" fill-opacity="0.18"/>
<rect x="387.90" y="124.00" width="1.0" height="2.3" fill="#c11f33" fill-opacity="0.74"/>
<rect x="388.90" y="124.00" width="1.0" height="2.3" fill="#c11f33" fill-opacity="0.87"/>
<rect x="389.90" y="124.00" width="1.0" height="2.3" fill="#c11f33" fill-opacity="0.65"/>
<rect x="390.90" y="124.00" width="1.0" height="2.3" fill="#c11f33" fill-opacity="0.54"/>
<rect x="391.90" y="124.00" width="1.0" height="2.3" fill="#c11f33" fill-opacity="0.86"/>
<rect x="392.90" y="124.00" width="1.0" height="2.3" fill="#c11f33" fill-opacity="0.53"/>
<rect x="393.90" y="124.00" width="1.0" height="2.3" fill="#c11f33" fill-opacity="0.84"/>
<rect x="394.90" y="124.00" width="1.0" height="2.3" fill="#c11f33" fill-opacity="0.84"/>
<rect x="395.90" y="124.00" width="1.0" height="2.3" fill="#c11f33" fill-opacity="0.15"/>
<rect x="396.90" y="124.00" width="1.0" height="2.3" fill="#c11f33" fill-opacity="0.16"/>
<rect x="397.90" y="124.00" width="1.0" height="2.3" fill="#c11f33" fill-opacity="0.67"/>
<rect x="398.90" y="124.00" width="1.0" height="2.3" fill="#c11f33" fill-opacity="0.82"/>
<rect x="399.90" y="124.00" width="1.0" height="2.3" fill="#c11f33" fill-opacity="0.83"/>
<rect x="400.90" y="124.00" width="1.0" height="2.3" fill="#c11f33" fill-opacity="0.76"/>
<rect x="401.90" y="124.00" width="1.0" height="2.3" fill="#c11f33" fill-opacity="0.63"/>
<rect x="402.90" y="124.00" width="1.0" height="2.3" fill="#c11f33" fill-opacity="0.46"/>
<rect x="403.90" y="124.00" width="1.0" height="2.3" fill="#c11f33" fill-opacity="0.67"/>
<rect x="404.90" y="124.00" width="1.0" height="2.3" fill="#c11f33" fill-opacity="0.16"/>
<rect x="405.90" y="124.00" width="1.0" height="2.3" fill="#c11f33" fill-opacity="0.11"/>
<rect x="406.90" y="124.00" width="1.0" height="2.3" fill="#c11f33" fill-opacity="0.57"/>
<rect x="407.90" y="124.00" width="1.0" height="2.3" fill="#c11f33" fill-opacity="0.57"/>
<rect x="408.90" y="124.00" width="1.0" height="2.3" fill="#c11f33" fill-opacity="0.60"/>
<rect x="409.90" y="124.00" width="1.0" height="2.3" fill="#c11f33" fill-opacity="0.41"/>
<rect x="410.90" y="124.00" width="1.0" height="2.3" fill="#c11f33" fill-opacity="0.51"/>
<rect x="411.90" y="124.00" width="1.0" height="2.3" fill="#c11f33" fill-opacity="0.51"/>
<rect x="412.90" y="124.00" width="1.0" height="2.3" fill="#c11f33" fill-opacity="0.45"/>
<rect x="413.90" y="124.00" width="1.0" height="2.3" fill="#c11f33" fill-opacity="0.51"/>
<rect x="414.90" y="124.00" width="1.0" height="2.3" fill="#c11f33" fill-opacity="0.43"/>
<rect x="415.90" y="124.00" width="1.0" height="2.3" fill="#c11f33" fill-opacity="0.46"/>
<rect x="416.90" y="124.00" width="1.0" height="2.3" fill="#c11f33" fill-opacity="0.36"/>
<rect x="417.90" y="124.00" width="1.0" height="2.3" fill="#c11f33" fill-opacity="0.32"/>
<rect x="418.90" y="124.00" width="1.0" height="2.3" fill="#c11f33" fill-opacity="0.08"/>
<rect x="419.90" y="124.00" width="1.0" height="2.3" fill="#c11f33" fill-opacity="0.32"/>
<rect x="420.90" y="124.00" width="1.0" height="2.3" fill="#c11f33" fill-opacity="0.09"/>
<rect x="421.90" y="124.00" width="1.0" height="2.3" fill="#c11f33" fill-opacity="0.07"/>
<rect x="422.90" y="124.00" width="1.0" height="2.3" fill="#c11f33" fill-opacity="0.44"/>
<rect x="423.90" y="124.00" width="1.0" height="2.3" fill="#c11f33" fill-opacity="0.43"/>
<rect x="424.90" y="124.00" width="1.0" height="2.3" fill="#c11f33" fill-opacity="0.28"/>
<rect x="425.90" y="124.00" width="1.0" height="2.3" fill="#c11f33" fill-opacity="0.34"/>
<rect x="426.90" y="124.00" width="1.0" height="2.3" fill="#c11f33" fill-opacity="0.43"/>
<rect x="427.90" y="124.00" width="1.0" height="2.3" fill="#c11f33" fill-opacity="0.27"/>
<rect x="428.90" y="124.00" width="1.0" height="2.3" fill="#c11f33" fill-opacity="0.43"/>
<rect x="429.90" y="124.00" width="1.0" height="2.3" fill="#c11f33" fill-opacity="0.07"/>
<rect x="430.90" y="124.00" width="1.0" height="2.3" fill="#c11f33" fill-opacity="0.07"/>
<rect x="431.90" y="124.00" width="1.0" height="2.3" fill="#c11f33" fill-opacity="0.40"/>
<rect x="432.90" y="124.00" width="1.0" height="2.3" fill="#c11f33" fill-opacity="0.35"/>
<rect x="433.90" y="124.00" width="1.0" height="2.3" fill="#c11f33" fill-opacity="0.08"/>
<rect x="434.90" y="124.00" width="1.0" height="2.3" fill="#c11f33" fill-opacity="0.06"/>
<rect x="435.90" y="124.00" width="1.0" height="2.3" fill="#c11f33" fill-opacity="0.09"/>
<rect x="436.90" y="124.00" width="1.0" height="2.3" fill="#c11f33" fill-opacity="0.26"/>
<rect x="437.90" y="124.00" width="1.0" height="2.3" fill="#c11f33" fill-opacity="0.05"/>
<rect x="438.90" y="124.00" width="1.0" height="2.3" fill="#c11f33" fill-opacity="0.25"/>
<rect x="439.90" y="124.00" width="1.0" height="2.3" fill="#c11f33" fill-opacity="0.25"/>
<rect x="440.90" y="124.00" width="1.0" height="2.3" fill="#c11f33" fill-opacity="0.34"/>
<rect x="441.90" y="124.00" width="1.0" height="2.3" fill="#c11f33" fill-opacity="0.31"/>
<rect x="442.90" y="124.00" width="1.0" height="2.3" fill="#c11f33" fill-opacity="0.18"/>
<rect x="443.90" y="124.00" width="1.0" height="2.3" fill="#c11f33" fill-opacity="0.24"/>
<rect x="444.90" y="124.00" width="1.0" height="2.3" fill="#c11f33" fill-opacity="0.22"/>
<rect x="445.90" y="124.00" width="1.0" height="2.3" fill="#c11f33" fill-opacity="0.06"/>
<rect x="446.90" y="124.00" width="1.0" height="2.3" fill="#c11f33" fill-opacity="0.07"/>
<rect x="447.90" y="124.00" width="1.0" height="2.3" fill="#c11f33" fill-opacity="0.06"/>
<rect x="448.90" y="124.00" width="1.0" height="2.3" fill="#c11f33" fill-opacity="0.04"/>
<rect x="449.90" y="124.00" width="1.0" height="2.3" fill="#c11f33" fill-opacity="0.23"/>
<rect x="450.90" y="124.00" width="1.0" height="2.3" fill="#c11f33" fill-opacity="0.14"/>
<rect x="451.90" y="124.00" width="1.0" height="2.3" fill="#c11f33" fill-opacity="0.19"/>
<rect x="452.90" y="124.00" width="1.0" height="2.3" fill="#c11f33" fill-opacity="0.15"/>
<rect x="453.90" y="124.00" width="1.0" height="2.3" fill="#c11f33" fill-opacity="0.16"/>
<rect x="454.90" y="124.00" width="1.0" height="2.3" fill="#c11f33" fill-opacity="0.15"/>
<rect x="455.90" y="124.00" width="1.0" height="2.3" fill="#c11f33" fill-opacity="0.04"/>
<rect x="456.90" y="124.00" width="1.0" height="2.3" fill="#c11f33" fill-opacity="0.17"/>
<rect x="457.90" y="124.00" width="1.0" height="2.3" fill="#c11f33" fill-opacity="0.11"/>
<rect x="458.90" y="124.00" width="1.0" height="2.3" fill="#c11f33" fill-opacity="0.11"/>
<rect x="459.90" y="124.00" width="1.0" height="2.3" fill="#c11f33" fill-opacity="0.15"/>
<rect x="460.90" y="124.00" width="1.0" height="2.3" fill="#c11f33" fill-opacity="0.14"/>
<rect x="461.90" y="124.00" width="1.0" height="2.3" fill="#c11f33" fill-opacity="0.11"/>
<rect x="462.90" y="124.00" width="1.0" height="2.3" fill="#c11f33" fill-opacity="0.04"/>
<rect x="463.90" y="124.00" width="1.0" height="2.3" fill="#c11f33" fill-opacity="0.04"/>
<rect x="464.90" y="124.00" width="1.0" height="2.3" fill="#c11f33" fill-opacity="0.02"/>
<rect x="465.90" y="124.00" width="1.0" height="2.3" fill="#c11f33" fill-opacity="0.14"/>
<rect x="466.90" y="124.00" width="1.0" height="2.3" fill="#c11f33" fill-opacity="0.11"/>
<rect x="467.90" y="124.00" width="1.0" height="2.3" fill="#c11f33" fill-opacity="0.10"/>
<rect x="468.90" y="124.00" width="1.0" height="2.3" fill="#c11f33" fill-opacity="0.12"/>
<rect x="469.90" y="124.00" width="1.0" height="2.3" fill="#c11f33" fill-opacity="0.13"/>
<rect x="470.90" y="124.00" width="1.0" height="2.3" fill="#c11f33" fill-opacity="0.11"/>
<path d="M386.40,65.60 L387.40,65.69 L388.40,66.20 L389.20,64.67 L390.00,62.83 L390.80,61.00 L391.95,58.50 L393.10,55.70 L394.07,55.10 L395.03,54.86 L396.00,54.50 L396.82,54.20 L397.64,53.63 L398.46,52.90 L399.28,52.64 L400.10,52.20 L401.07,52.63 L402.03,52.44 L403.00,52.80 L403.82,52.67 L404.64,52.80 L405.46,53.10 L406.28,53.25 L407.10,53.10 L407.98,53.49 L408.85,54.09 L409.73,54.75 L410.60,55.50 L411.42,55.90 L412.24,56.51 L413.06,56.80 L413.88,57.40 L414.70,58.00 L415.64,58.51 L416.58,59.69 L417.52,60.24 L418.46,60.56 L419.40,61.50 L420.23,62.45 L421.06,62.60 L421.89,63.44 L422.71,64.48 L423.54,65.03 L424.37,65.67 L425.20,66.20 L426.05,66.82 L426.90,67.34 L427.75,68.27 L428.60,68.61 L429.45,69.34 L430.30,70.11 L431.15,70.56 L432.00,71.50 L432.80,71.94 L433.60,72.67 L434.40,73.12 L435.20,73.50 L436.00,74.08 L436.80,74.48 L437.60,74.79 L438.40,75.56 L439.20,75.94 L440.00,76.50 L440.89,76.97 L441.77,77.40 L442.66,77.44 L443.54,77.86 L444.43,78.29 L445.31,78.42 L446.20,78.80 L447.12,78.50 L448.04,78.65 L448.96,78.61 L449.88,78.40 L450.80,78.10 L451.72,77.54 L452.64,76.95 L453.56,76.17 L454.48,75.46 L455.40,74.70 L456.35,75.05 L457.30,75.34 L458.25,75.90 L459.20,76.20 L460.23,75.46 L461.27,75.15 L462.30,74.70 L463.33,73.17 L464.37,71.43 L465.40,69.60 L466.43,68.64 L467.47,67.38 L468.50,66.50" fill="none" stroke="#3a8ad2" stroke-width="1.25" stroke-linejoin="round" stroke-linecap="round"/>
<path d="M386.40,67.60 L387.40,65.13 L388.40,62.70 L389.37,60.15 L390.33,57.67 L391.30,55.10 L392.50,53.92 L393.70,52.80 L394.85,52.25 L396.00,51.60 L396.97,49.60 L397.93,47.24 L398.90,45.20 L399.77,43.65 L400.65,42.08 L401.52,40.37 L402.40,38.80 L403.40,38.96 L404.40,39.28 L405.40,39.30 L406.22,39.76 L407.04,40.51 L407.86,41.00 L408.68,41.78 L409.50,42.30 L410.47,42.23 L411.43,41.91 L412.40,41.70 L413.32,42.28 L414.24,43.12 L415.16,43.81 L416.08,44.57 L417.00,45.20 L417.94,45.78 L418.88,46.40 L419.82,47.04 L420.76,47.53 L421.70,48.10 L422.64,49.01 L423.58,50.11 L424.52,50.83 L425.46,51.92 L426.40,52.80 L427.20,53.44 L428.00,54.22 L428.80,54.70 L429.60,55.63 L430.40,56.11 L431.20,56.70 L432.00,57.50 L432.80,57.87 L433.60,58.35 L434.40,58.67 L435.20,59.24 L436.00,59.68 L436.80,60.20 L437.60,60.54 L438.40,60.95 L439.20,61.38 L440.00,61.90 L440.89,62.20 L441.77,62.49 L442.66,62.59 L443.54,62.73 L444.43,63.13 L445.31,63.24 L446.20,63.50 L447.04,63.84 L447.89,64.23 L448.73,64.85 L449.58,65.28 L450.42,65.65 L451.27,66.02 L452.11,66.47 L452.96,66.80 L453.80,67.30 L454.69,67.88 L455.57,68.14 L456.46,68.67 L457.34,69.17 L458.23,69.61 L459.11,69.95 L460.00,70.40 L461.00,69.89 L462.00,69.50 L462.87,69.81 L463.73,69.99 L464.60,70.40 L465.63,69.70 L466.67,68.76 L467.70,68.00 L468.85,67.36 L470.00,66.50" fill="none" stroke="#b62231" stroke-width="1.3" stroke-linejoin="round" stroke-linecap="round"/>
<rect x="382.40" y="31.10" width="91.60" height="99.05" fill="none" stroke="#2a2a2a" stroke-width="1.45"/>
<text x="153.00" y="109.60" font-size="10.4" fill="#2b2b2b" textLength="51.00" lengthAdjust="spacingAndGlyphs" transform="rotate(-90 153.00 109.60)">OXIDATIVE_</text>
<text x="164.90" y="123.20" font-size="10.4" fill="#2b2b2b" textLength="77.60" lengthAdjust="spacingAndGlyphs" transform="rotate(-90 164.90 123.20)">PHOSPHORYLATION</text>
<text x="326.80" y="108.50" font-size="10.4" fill="#2b2b2b" textLength="48.20" lengthAdjust="spacingAndGlyphs" transform="rotate(-90 326.80 108.50)">GLYCOLYSIS</text>
<text x="487.20" y="107.10" font-size="10.4" fill="#2b2b2b" textLength="53.70" lengthAdjust="spacingAndGlyphs" transform="rotate(-90 487.20 107.10)">FATTY_ACID_</text>
<text x="497.80" y="107.10" font-size="10.4" fill="#2b2b2b" textLength="53.10" lengthAdjust="spacingAndGlyphs" transform="rotate(-90 497.80 107.10)">METABOLISM</text>
<text x="8.40" y="179.60" font-size="13.2" fill="#111" font-weight="bold" textLength="8.80" lengthAdjust="spacingAndGlyphs">B</text>
<text x="271.60" y="179.70" font-size="13.2" fill="#111" font-weight="bold" textLength="9.60" lengthAdjust="spacingAndGlyphs">C</text>
<text x="54.20" y="206.30" font-size="9.9" fill="#2b2b2b" text-anchor="end" textLength="31.90" lengthAdjust="spacingAndGlyphs">Control</text>
<text x="53.90" y="219.87" font-size="9.9" fill="#2b2b2b" text-anchor="end" textLength="29.50" lengthAdjust="spacingAndGlyphs">Day 30</text>
<text x="53.90" y="238.35" font-size="9.9" fill="#2b2b2b" text-anchor="end" textLength="29.00" lengthAdjust="spacingAndGlyphs">Day 60</text>
<text x="53.90" y="256.65" font-size="9.9" fill="#2b2b2b" text-anchor="end" textLength="41.10" lengthAdjust="spacingAndGlyphs">Day &gt;180</text>
<path d="M59.50,211.60 L56.60,211.60 L56.60,220.95 L59.50,220.95" fill="none" stroke="#333" stroke-width="1.2" stroke-linejoin="round"/>
<path d="M59.50,230.20 L56.60,230.20 L56.60,239.30 L59.50,239.30" fill="none" stroke="#333" stroke-width="1.2" stroke-linejoin="round"/>
<path d="M59.50,248.60 L56.60,248.60 L56.60,257.50 L59.50,257.50" fill="none" stroke="#333" stroke-width="1.2" stroke-linejoin="round"/>
<text x="54.20" y="308.20" font-size="9.9" fill="#2b2b2b" text-anchor="end" textLength="31.90" lengthAdjust="spacingAndGlyphs">Control</text>
<text x="53.90" y="321.78" font-size="9.9" fill="#2b2b2b" text-anchor="end" textLength="29.50" lengthAdjust="spacingAndGlyphs">Day 30</text>
<text x="53.90" y="340.25" font-size="9.9" fill="#2b2b2b" text-anchor="end" textLength="29.00" lengthAdjust="spacingAndGlyphs">Day 60</text>
<text x="53.90" y="358.55" font-size="9.9" fill="#2b2b2b" text-anchor="end" textLength="41.10" lengthAdjust="spacingAndGlyphs">Day &gt;180</text>
<path d="M59.50,313.50 L56.60,313.50 L56.60,322.85 L59.50,322.85" fill="none" stroke="#333" stroke-width="1.2" stroke-linejoin="round"/>
<path d="M59.50,332.10 L56.60,332.10 L56.60,341.20 L59.50,341.20" fill="none" stroke="#333" stroke-width="1.2" stroke-linejoin="round"/>
<path d="M59.50,350.50 L56.60,350.50 L56.60,359.40 L59.50,359.40" fill="none" stroke="#333" stroke-width="1.2" stroke-linejoin="round"/>
<text x="315.70" y="206.30" font-size="9.9" fill="#2b2b2b" text-anchor="end" textLength="31.90" lengthAdjust="spacingAndGlyphs">Control</text>
<text x="315.40" y="219.87" font-size="9.9" fill="#2b2b2b" text-anchor="end" textLength="29.50" lengthAdjust="spacingAndGlyphs">Day 30</text>
<text x="315.40" y="238.35" font-size="9.9" fill="#2b2b2b" text-anchor="end" textLength="29.00" lengthAdjust="spacingAndGlyphs">Day 60</text>
<text x="315.40" y="256.65" font-size="9.9" fill="#2b2b2b" text-anchor="end" textLength="41.10" lengthAdjust="spacingAndGlyphs">Day &gt;180</text>
<path d="M321.00,211.60 L318.10,211.60 L318.10,220.95 L321.00,220.95" fill="none" stroke="#333" stroke-width="1.2" stroke-linejoin="round"/>
<path d="M321.00,230.20 L318.10,230.20 L318.10,239.30 L321.00,239.30" fill="none" stroke="#333" stroke-width="1.2" stroke-linejoin="round"/>
<path d="M321.00,248.60 L318.10,248.60 L318.10,257.50 L321.00,257.50" fill="none" stroke="#333" stroke-width="1.2" stroke-linejoin="round"/>
<text x="315.70" y="308.20" font-size="9.9" fill="#2b2b2b" text-anchor="end" textLength="31.90" lengthAdjust="spacingAndGlyphs">Control</text>
<text x="315.40" y="321.78" font-size="9.9" fill="#2b2b2b" text-anchor="end" textLength="29.50" lengthAdjust="spacingAndGlyphs">Day 30</text>
<text x="315.40" y="340.25" font-size="9.9" fill="#2b2b2b" text-anchor="end" textLength="29.00" lengthAdjust="spacingAndGlyphs">Day 60</text>
<text x="315.40" y="358.55" font-size="9.9" fill="#2b2b2b" text-anchor="end" textLength="41.10" lengthAdjust="spacingAndGlyphs">Day &gt;180</text>
<path d="M321.00,313.50 L318.10,313.50 L318.10,322.85 L321.00,322.85" fill="none" stroke="#333" stroke-width="1.2" stroke-linejoin="round"/>
<path d="M321.00,332.10 L318.10,332.10 L318.10,341.20 L321.00,341.20" fill="none" stroke="#333" stroke-width="1.2" stroke-linejoin="round"/>
<path d="M321.00,350.50 L318.10,350.50 L318.10,359.40 L321.00,359.40" fill="none" stroke="#333" stroke-width="1.2" stroke-linejoin="round"/>
<text x="48.70" y="191.20" font-size="9.9" fill="#2b2b2b" textLength="67.80" lengthAdjust="spacingAndGlyphs">Tconv TOMM20</text>
<line x1="71.20" y1="202.50" x2="95.10" y2="202.50" stroke="#1c1a1b" stroke-width="1.35"/>
<path d="M74.7,201.5 75.0,201.0 75.4,200.6 75.7,200.2 76.1,199.9 76.4,199.7 76.8,199.5 77.1,199.3 77.5,199.2 77.8,199.2 78.2,199.4 78.5,199.5 78.9,199.8 79.2,200.0 79.6,200.3 79.9,200.7 80.3,201.1 80.6,201.7 80.6,203.3 80.3,203.9 79.9,204.3 79.6,204.7 79.2,205.0 78.9,205.2 78.5,205.5 78.2,205.6 77.8,205.8 77.5,205.8 77.1,205.7 76.8,205.5 76.4,205.3 76.1,205.1 75.7,204.8 75.4,204.4 75.0,204.0 74.7,203.5Z" fill="#3cb44b"/>
<path d="M88.4,202.1 88.7,201.6 89.1,201.3 89.4,201.2 89.8,201.1 90.1,201.1 90.5,201.1 90.8,201.2 91.2,201.4 91.5,201.7 91.5,203.3 91.2,203.6 90.8,203.8 90.5,203.9 90.1,203.9 89.8,203.9 89.4,203.8 89.1,203.7 88.7,203.4 88.4,202.9Z" fill="#3cb44b"/>
<line x1="77.60" y1="199.50" x2="77.60" y2="205.50" stroke="#231f20" stroke-width="1.1"/>
<path d="M71.2,210.9 71.6,210.9 71.9,210.9 72.3,210.9 72.6,210.9 73.0,210.9 73.3,210.9 73.7,210.9 74.0,210.9 74.4,210.9 74.7,210.9 75.1,210.9 75.4,210.7 75.8,210.6 76.1,210.6 76.5,210.7 76.8,210.8 77.2,210.9 77.5,210.9 77.9,210.9 78.2,210.9 78.6,210.9 78.9,210.7 79.3,210.0 79.6,209.5 80.0,209.2 80.3,209.0 80.7,208.8 81.0,208.7 81.4,208.6 81.7,208.6 82.1,208.6 82.4,208.7 82.8,208.8 83.2,208.9 83.5,209.1 83.9,209.4 84.2,209.8 84.6,209.8 84.9,209.7 85.3,209.7 85.6,209.6 86.0,209.6 86.3,209.6 86.7,209.6 87.0,209.6 87.4,209.6 87.7,209.6 88.1,209.6 88.4,209.6 88.8,209.6 89.1,209.6 89.5,209.6 89.8,209.6 90.2,209.7 90.5,209.8 90.9,210.0 91.2,210.2 91.6,210.5 91.9,210.9 92.3,210.9 92.6,210.9 93.0,210.7 93.3,210.7 93.7,210.9 94.0,210.9 94.4,210.9 94.7,210.9 95.1,210.9 95.1,212.3 94.7,212.3 94.4,212.3 94.0,212.3 93.7,212.3 93.3,212.5 93.0,212.5 92.6,212.3 92.3,212.3 91.9,212.3 91.6,212.7 91.2,213.0 90.9,213.2 90.5,213.4 90.2,213.5 89.8,213.6 89.5,213.6 89.1,213.6 88.8,213.6 88.4,213.6 88.1,213.6 87.7,213.6 87.4,213.6 87.0,213.6 86.7,213.6 86.3,213.6 86.0,213.6 85.6,213.6 85.3,213.5 84.9,213.5 84.6,213.4 84.2,213.4 83.9,213.8 83.5,214.1 83.2,214.3 82.8,214.4 82.4,214.5 82.1,214.6 81.7,214.6 81.4,214.6 81.0,214.5 80.7,214.4 80.3,214.2 80.0,214.0 79.6,213.7 79.3,213.2 78.9,212.5 78.6,212.3 78.2,212.3 77.9,212.3 77.5,212.3 77.2,212.3 76.8,212.4 76.5,212.5 76.1,212.6 75.8,212.6 75.4,212.5 75.1,212.3 74.7,212.3 74.4,212.3 74.0,212.3 73.7,212.3 73.3,212.3 73.0,212.3 72.6,212.3 72.3,212.3 71.9,212.3 71.6,212.3 71.2,212.3Z" fill="#d21a30"/>
<line x1="83.10" y1="209.20" x2="83.10" y2="214.00" stroke="#231f20" stroke-width="1.1"/>
<line x1="73.10" y1="220.95" x2="89.50" y2="220.95" stroke="#1c1a1b" stroke-width="1.35"/>
<path d="M76.3,220.0 76.6,219.5 77.0,219.1 77.3,218.7 77.7,218.5 78.0,218.2 78.4,218.0 78.8,217.9 79.1,217.9 79.5,218.0 79.8,218.1 80.2,218.4 80.5,218.6 80.9,218.9 81.2,219.3 81.6,219.8 82.0,220.4 82.0,221.5 81.6,222.1 81.2,222.6 80.9,223.0 80.5,223.3 80.2,223.5 79.8,223.8 79.5,223.9 79.1,224.0 78.8,224.0 78.4,223.9 78.0,223.7 77.7,223.4 77.3,223.2 77.0,222.8 76.6,222.4 76.3,221.9Z" fill="#0f5799"/>
<path d="M83.0,219.4 83.4,218.8 83.7,218.4 84.1,218.2 84.5,218.0 84.8,218.0 85.2,218.0 85.5,218.0 85.9,218.2 86.2,218.4 86.6,218.8 86.9,219.3 86.9,222.6 86.6,223.1 86.2,223.5 85.9,223.7 85.5,223.9 85.2,223.9 84.8,223.9 84.5,223.9 84.1,223.7 83.7,223.5 83.4,223.1 83.0,222.5Z" fill="#0f5799"/>
<path d="M70.6,229.5 71.0,229.5 71.3,229.5 71.7,229.5 72.0,229.5 72.4,229.5 72.7,229.5 73.1,229.5 73.4,229.5 73.8,229.0 74.1,228.6 74.5,228.4 74.8,228.2 75.2,228.0 75.5,227.9 75.9,227.8 76.2,227.8 76.6,227.8 76.9,227.8 77.3,227.8 77.6,227.8 78.0,227.9 78.3,228.0 78.7,228.1 79.1,228.2 79.4,228.2 79.8,228.2 80.1,228.2 80.5,228.2 80.8,228.2 81.2,228.2 81.5,228.2 81.9,228.2 82.2,228.2 82.6,228.2 82.9,228.2 83.3,228.3 83.6,228.4 84.0,228.5 84.3,228.8 84.7,228.8 85.0,228.3 85.4,227.9 85.7,227.7 86.1,227.4 86.4,227.3 86.8,227.1 87.1,227.0 87.5,226.9 87.9,226.9 88.2,226.8 88.6,226.8 88.9,226.8 89.3,226.8 89.6,226.9 90.0,227.0 90.3,227.1 90.7,227.2 91.0,227.4 91.4,227.6 91.7,227.9 92.1,228.2 92.4,228.7 92.8,229.4 93.1,229.4 93.5,229.3 93.8,229.4 94.2,229.5 94.5,229.5 94.9,229.5 95.2,229.5 95.6,229.5 95.6,230.9 95.2,230.9 94.9,230.9 94.5,230.9 94.2,230.9 93.8,231.0 93.5,231.1 93.1,231.0 92.8,231.0 92.4,231.7 92.1,232.2 91.7,232.5 91.4,232.8 91.0,233.0 90.7,233.2 90.3,233.3 90.0,233.4 89.6,233.5 89.3,233.6 88.9,233.6 88.6,233.6 88.2,233.6 87.9,233.5 87.5,233.5 87.1,233.4 86.8,233.3 86.4,233.1 86.1,233.0 85.7,232.7 85.4,232.5 85.0,232.1 84.7,231.6 84.3,231.6 84.0,231.9 83.6,232.0 83.3,232.1 82.9,232.2 82.6,232.2 82.2,232.2 81.9,232.2 81.5,232.2 81.2,232.2 80.8,232.2 80.5,232.2 80.1,232.2 79.8,232.2 79.4,232.2 79.1,232.2 78.7,232.3 78.3,232.4 78.0,232.5 77.6,232.6 77.3,232.6 76.9,232.6 76.6,232.6 76.2,232.6 75.9,232.6 75.5,232.5 75.2,232.4 74.8,232.2 74.5,232.0 74.1,231.8 73.8,231.4 73.4,230.9 73.1,230.9 72.7,230.9 72.4,230.9 72.0,230.9 71.7,230.9 71.3,230.9 71.0,230.9 70.6,230.9Z" fill="#d21a30"/>
<line x1="85.30" y1="228.32" x2="85.30" y2="232.08" stroke="#231f20" stroke-width="1.1"/>
<line x1="70.10" y1="239.30" x2="92.80" y2="239.30" stroke="#1c1a1b" stroke-width="1.35"/>
<path d="M74.2,238.3 74.5,237.8 74.9,237.3 75.2,237.0 75.6,236.6 75.9,236.4 76.3,236.1 76.6,236.0 77.0,235.8 77.3,235.7 77.7,235.7 78.0,235.9 78.4,236.0 78.7,236.3 79.1,236.5 79.4,236.8 79.8,237.1 80.1,237.5 80.5,238.0 80.8,238.7 80.8,239.9 80.5,240.6 80.1,241.1 79.8,241.5 79.4,241.8 79.1,242.1 78.7,242.3 78.4,242.6 78.0,242.7 77.7,242.9 77.3,242.9 77.0,242.8 76.6,242.6 76.3,242.5 75.9,242.2 75.6,242.0 75.2,241.6 74.9,241.3 74.5,240.8 74.2,240.3Z" fill="#0f5799"/>
<path d="M83.6,239.0 84.0,238.2 84.3,237.8 84.7,237.5 85.0,237.3 85.4,237.2 85.7,237.1 86.1,237.0 86.4,237.0 86.8,237.0 87.1,237.0 87.5,237.1 87.8,237.2 88.2,237.4 88.5,237.5 88.9,237.8 89.2,238.2 89.2,240.4 88.9,240.8 88.5,241.1 88.2,241.2 87.8,241.4 87.5,241.5 87.1,241.6 86.8,241.6 86.4,241.6 86.1,241.6 85.7,241.5 85.4,241.4 85.0,241.3 84.7,241.1 84.3,240.8 84.0,240.4 83.6,239.6Z" fill="#0f5799"/>
<line x1="77.40" y1="236.00" x2="77.40" y2="242.60" stroke="#231f20" stroke-width="1.1"/>
<path d="M72.0,247.9 72.4,247.9 72.7,247.9 73.1,247.9 73.4,247.9 73.8,247.9 74.1,247.9 74.5,247.9 74.8,247.7 75.2,247.1 75.5,246.7 75.9,246.3 76.2,246.0 76.6,245.9 76.9,245.8 77.3,246.0 77.6,246.2 78.0,246.5 78.3,246.9 78.7,247.4 79.0,247.9 79.4,247.9 79.7,247.9 80.1,247.9 80.4,247.9 80.8,247.9 81.1,247.6 81.5,247.4 81.8,247.3 82.2,247.2 82.5,247.2 82.9,247.3 83.2,247.4 83.6,247.5 83.9,247.9 84.3,247.9 84.6,247.9 85.0,247.9 85.3,247.9 85.7,247.9 86.0,247.9 86.4,247.9 86.7,247.9 87.1,247.9 87.1,249.3 86.7,249.3 86.4,249.3 86.0,249.3 85.7,249.3 85.3,249.3 85.0,249.3 84.6,249.3 84.3,249.3 83.9,249.3 83.6,249.7 83.2,249.8 82.9,249.9 82.5,250.0 82.2,250.0 81.8,249.9 81.5,249.8 81.1,249.6 80.8,249.3 80.4,249.3 80.1,249.3 79.7,249.3 79.4,249.3 79.0,249.3 78.7,249.8 78.3,250.3 78.0,250.7 77.6,251.0 77.3,251.2 76.9,251.4 76.6,251.3 76.2,251.2 75.9,250.9 75.5,250.5 75.2,250.1 74.8,249.5 74.5,249.3 74.1,249.3 73.8,249.3 73.4,249.3 73.1,249.3 72.7,249.3 72.4,249.3 72.0,249.3Z" fill="#d21a30"/>
<line x1="76.80" y1="246.10" x2="76.80" y2="251.10" stroke="#231f20" stroke-width="1.8"/>
<line x1="72.00" y1="257.50" x2="87.10" y2="257.50" stroke="#1c1a1b" stroke-width="1.35"/>
<path d="M75.2,256.4 75.5,255.8 75.9,255.3 76.2,254.9 76.6,254.6 76.9,254.4 77.3,254.4 77.6,254.6 78.0,254.9 78.3,255.3 78.7,255.7 79.0,256.4 79.4,257.4 79.4,257.6 79.0,258.6 78.7,259.3 78.3,259.7 78.0,260.1 77.6,260.4 77.3,260.6 76.9,260.6 76.6,260.4 76.2,260.1 75.9,259.7 75.5,259.2 75.2,258.6Z" fill="#0f5799"/>
<path d="M81.2,257.2 81.5,256.7 81.9,256.4 82.2,256.3 82.6,256.2 82.9,256.2 83.3,256.2 83.6,256.3 84.0,256.5 84.3,256.7 84.3,258.3 84.0,258.5 83.6,258.7 83.3,258.8 82.9,258.8 82.6,258.8 82.2,258.7 81.9,258.6 81.5,258.3 81.2,257.8Z" fill="#0f5799"/>
<line x1="77.10" y1="254.70" x2="77.10" y2="260.30" stroke="#231f20" stroke-width="1.1"/>
<line x1="63.30" y1="196.00" x2="63.30" y2="264.10" stroke="#2a2a2a" stroke-width="1.3"/>
<line x1="62.70" y1="263.50" x2="103.70" y2="263.50" stroke="#2a2a2a" stroke-width="1.3"/>
<rect x="63.80" y="264.10" width="39.90" height="1.8" fill="#555" fill-opacity="0.55"/>
<line x1="76.50" y1="263.50" x2="76.50" y2="266.90" stroke="#2a2a2a" stroke-width="1.0"/>
<text x="76.50" y="275.80" font-size="9.3" fill="#2b2b2b" text-anchor="middle">0</text>
<line x1="89.90" y1="263.50" x2="89.90" y2="266.90" stroke="#2a2a2a" stroke-width="1.0"/>
<text x="89.90" y="275.80" font-size="9.3" fill="#2b2b2b" text-anchor="middle">1</text>
<line x1="103.30" y1="263.50" x2="103.30" y2="266.90" stroke="#2a2a2a" stroke-width="1.0"/>
<text x="103.30" y="275.80" font-size="9.3" fill="#2b2b2b" text-anchor="middle">2</text>
<path d="M98.30,211.60 L101.30,211.60 L101.30,220.95 L98.30,220.95" fill="none" stroke="#333" stroke-width="1.25" stroke-linejoin="round"/>
<path d="M105.60,214.22 L106.16,215.51 L107.55,215.64 L106.50,216.57 L106.80,217.93 L105.60,217.22 L104.40,217.93 L104.70,216.57 L103.65,215.64 L105.04,215.51Z" fill="#2a2a2a"/>
<path d="M98.30,230.20 L101.30,230.20 L101.30,239.30 L98.30,239.30" fill="none" stroke="#333" stroke-width="1.25" stroke-linejoin="round"/>
<path d="M105.60,232.70 L106.16,233.98 L107.55,234.12 L106.50,235.04 L106.80,236.41 L105.60,235.70 L104.40,236.41 L104.70,235.04 L103.65,234.12 L105.04,233.98Z" fill="#2a2a2a"/>
<text x="123.70" y="191.20" font-size="9.9" fill="#2b2b2b" textLength="61.00" lengthAdjust="spacingAndGlyphs">CD8 TOMM20</text>
<line x1="135.70" y1="202.50" x2="161.90" y2="202.50" stroke="#1c1a1b" stroke-width="1.35"/>
<path d="M140.4,201.7 140.7,201.3 141.1,200.9 141.4,200.6 141.8,200.4 142.1,200.2 142.5,200.0 142.8,199.8 143.2,199.7 143.5,199.6 143.9,199.6 144.2,199.7 144.6,199.8 145.0,200.0 145.3,200.2 145.7,200.4 146.0,200.7 146.4,201.0 146.7,201.3 147.1,201.8 147.4,202.0 147.8,201.8 148.1,201.7 148.5,201.5 148.9,201.4 149.2,201.4 149.6,201.3 149.9,201.3 150.3,201.3 150.6,201.3 151.0,201.3 151.3,201.3 151.7,201.3 152.0,201.3 152.4,201.3 152.8,201.3 153.1,201.3 153.5,201.3 153.8,201.3 154.2,201.3 154.5,201.3 154.9,201.3 155.2,201.4 155.6,201.4 155.9,201.5 156.3,201.7 156.6,201.9 157.0,202.1 157.0,202.9 156.6,203.1 156.3,203.3 155.9,203.5 155.6,203.6 155.2,203.6 154.9,203.7 154.5,203.7 154.2,203.7 153.8,203.7 153.5,203.7 153.1,203.7 152.8,203.7 152.4,203.7 152.0,203.7 151.7,203.7 151.3,203.7 151.0,203.7 150.6,203.7 150.3,203.7 149.9,203.7 149.6,203.7 149.2,203.6 148.9,203.6 148.5,203.5 148.1,203.3 147.8,203.2 147.4,203.0 147.1,203.2 146.7,203.7 146.4,204.0 146.0,204.3 145.7,204.6 145.3,204.8 145.0,205.0 144.6,205.2 144.2,205.3 143.9,205.4 143.5,205.4 143.2,205.3 142.8,205.2 142.5,205.0 142.1,204.8 141.8,204.6 141.4,204.4 141.1,204.1 140.7,203.7 140.4,203.3Z" fill="#3cb44b"/>
<line x1="143.70" y1="199.90" x2="143.70" y2="205.10" stroke="#231f20" stroke-width="1.1"/>
<path d="M140.0,211.0 140.4,211.0 140.7,211.0 141.1,211.0 141.4,211.0 141.8,211.0 142.1,211.0 142.5,211.0 142.8,211.0 143.2,211.0 143.5,210.5 143.9,210.1 144.2,209.9 144.6,209.7 144.9,209.5 145.3,209.4 145.6,209.3 146.0,209.2 146.3,209.1 146.7,209.1 147.0,209.1 147.4,209.1 147.7,209.1 148.1,209.2 148.5,209.2 148.8,209.3 149.2,209.5 149.5,209.6 149.9,209.8 150.2,210.0 150.6,210.4 150.9,210.9 151.3,210.2 151.6,209.7 152.0,209.4 152.3,209.1 152.7,208.8 153.0,208.7 153.4,208.5 153.7,208.4 154.1,208.2 154.4,208.2 154.8,208.1 155.1,208.0 155.5,208.0 155.9,208.0 156.2,208.0 156.6,208.0 156.9,208.1 157.3,208.1 157.6,208.2 158.0,208.3 158.3,208.4 158.7,208.6 159.0,208.8 159.4,209.0 159.7,209.3 160.1,209.6 160.4,210.1 160.8,210.8 161.1,211.0 161.5,211.0 161.8,211.0 162.2,211.0 162.5,211.0 162.9,211.0 163.2,211.0 163.6,211.0 163.6,212.2 163.2,212.2 162.9,212.2 162.5,212.2 162.2,212.2 161.8,212.2 161.5,212.2 161.1,212.2 160.8,212.4 160.4,213.1 160.1,213.6 159.7,213.9 159.4,214.2 159.0,214.4 158.7,214.6 158.3,214.8 158.0,214.9 157.6,215.0 157.3,215.1 156.9,215.1 156.6,215.2 156.2,215.2 155.9,215.2 155.5,215.2 155.1,215.2 154.8,215.1 154.4,215.0 154.1,215.0 153.7,214.8 153.4,214.7 153.0,214.5 152.7,214.4 152.3,214.1 152.0,213.8 151.6,213.5 151.3,213.0 150.9,212.3 150.6,212.8 150.2,213.2 149.9,213.4 149.5,213.6 149.2,213.7 148.8,213.9 148.5,214.0 148.1,214.0 147.7,214.1 147.4,214.1 147.0,214.1 146.7,214.1 146.3,214.1 146.0,214.0 145.6,213.9 145.3,213.8 144.9,213.7 144.6,213.5 144.2,213.3 143.9,213.1 143.5,212.7 143.2,212.2 142.8,212.2 142.5,212.2 142.1,212.2 141.8,212.2 141.4,212.2 141.1,212.2 140.7,212.2 140.4,212.2 140.0,212.2Z" fill="#d21a30"/>
<line x1="153.20" y1="208.87" x2="153.20" y2="214.33" stroke="#231f20" stroke-width="1.1"/>
<line x1="136.20" y1="220.95" x2="159.30" y2="220.95" stroke="#1c1a1b" stroke-width="1.35"/>
<path d="M140.9,219.7 141.2,219.3 141.6,219.0 141.9,218.8 142.3,218.6 142.6,218.5 143.0,218.5 143.3,218.5 143.7,218.5 144.0,218.6 144.4,218.7 144.7,218.9 145.1,219.2 145.4,219.5 145.8,220.2 145.8,221.7 145.4,222.4 145.1,222.7 144.7,223.0 144.4,223.2 144.0,223.3 143.7,223.4 143.3,223.4 143.0,223.4 142.6,223.4 142.3,223.3 141.9,223.1 141.6,222.9 141.2,222.6 140.9,222.2Z" fill="#0f5799"/>
<path d="M146.8,219.9 147.2,219.5 147.5,219.2 147.9,219.0 148.2,218.8 148.6,218.6 149.0,218.5 149.3,218.4 149.7,218.3 150.0,218.2 150.4,218.1 150.7,218.1 151.1,218.1 151.4,218.1 151.8,218.1 152.1,218.1 152.5,218.1 152.8,218.1 153.2,218.2 153.5,218.3 153.9,218.4 154.2,218.5 154.6,218.6 154.9,218.8 155.3,218.9 155.6,219.2 156.0,219.5 156.3,219.9 156.3,222.0 156.0,222.4 155.6,222.7 155.3,223.0 154.9,223.1 154.6,223.3 154.2,223.4 153.9,223.5 153.5,223.6 153.2,223.7 152.8,223.8 152.5,223.8 152.1,223.8 151.8,223.8 151.4,223.8 151.1,223.8 150.7,223.8 150.4,223.8 150.0,223.7 149.7,223.6 149.3,223.5 149.0,223.4 148.6,223.3 148.2,223.1 147.9,222.9 147.5,222.7 147.2,222.4 146.8,222.0Z" fill="#0f5799"/>
<line x1="148.20" y1="219.09" x2="148.20" y2="222.81" stroke="#231f20" stroke-width="1.1"/>
<path d="M137.4,229.6 137.8,229.6 138.1,229.6 138.5,229.6 138.8,229.6 139.2,229.6 139.5,229.6 139.9,229.6 140.3,229.6 140.6,229.6 141.0,229.6 141.3,229.4 141.7,228.4 142.0,227.7 142.4,227.2 142.7,226.9 143.1,227.1 143.5,227.5 143.8,228.1 144.2,229.0 144.5,229.6 144.9,229.6 145.2,229.6 145.6,229.5 146.0,229.0 146.3,228.7 146.7,228.4 147.0,228.1 147.4,227.9 147.7,227.7 148.1,227.6 148.4,227.5 148.8,227.6 149.2,227.7 149.5,227.8 149.9,228.0 150.2,228.3 150.6,228.6 150.9,228.9 151.3,229.3 151.7,229.3 152.0,229.1 152.4,229.0 152.7,229.0 153.1,229.2 153.4,229.4 153.8,229.6 154.1,229.6 154.5,229.6 154.9,229.6 155.2,229.6 155.6,229.6 155.9,229.6 156.3,229.6 156.6,229.6 157.0,229.6 157.0,230.8 156.6,230.8 156.3,230.8 155.9,230.8 155.6,230.8 155.2,230.8 154.9,230.8 154.5,230.8 154.1,230.8 153.8,230.8 153.4,231.0 153.1,231.2 152.7,231.4 152.4,231.4 152.0,231.3 151.7,231.1 151.3,231.1 150.9,231.5 150.6,231.8 150.2,232.1 149.9,232.4 149.5,232.6 149.2,232.7 148.8,232.8 148.4,232.9 148.1,232.8 147.7,232.7 147.4,232.5 147.0,232.3 146.7,232.0 146.3,231.7 146.0,231.4 145.6,230.9 145.2,230.8 144.9,230.8 144.5,230.8 144.2,231.4 143.8,232.3 143.5,232.9 143.1,233.3 142.7,233.5 142.4,233.2 142.0,232.7 141.7,232.0 141.3,231.0 141.0,230.8 140.6,230.8 140.3,230.8 139.9,230.8 139.5,230.8 139.2,230.8 138.8,230.8 138.5,230.8 138.1,230.8 137.8,230.8 137.4,230.8Z" fill="#d21a30"/>
<line x1="142.80" y1="227.20" x2="142.80" y2="233.20" stroke="#231f20" stroke-width="1.1"/>
<line x1="137.00" y1="239.30" x2="155.00" y2="239.30" stroke="#1c1a1b" stroke-width="1.35"/>
<path d="M141.2,237.8 141.5,237.2 141.9,236.9 142.2,236.6 142.6,236.5 142.9,236.4 143.3,236.3 143.6,236.3 144.0,236.4 144.3,236.5 144.7,236.7 145.0,237.0 145.4,237.3 145.7,237.9 145.7,240.7 145.4,241.3 145.0,241.6 144.7,241.9 144.3,242.1 144.0,242.2 143.6,242.3 143.3,242.3 142.9,242.2 142.6,242.1 142.2,242.0 141.9,241.7 141.5,241.4 141.2,240.8Z" fill="#0f5799"/>
<path d="M147.1,238.5 147.5,237.8 147.8,237.4 148.2,237.1 148.5,237.0 148.9,236.8 149.2,236.7 149.6,236.7 149.9,236.7 150.3,236.8 150.6,236.9 151.0,237.0 151.3,237.2 151.7,237.6 152.0,238.0 152.0,240.6 151.7,241.0 151.3,241.4 151.0,241.6 150.6,241.7 150.3,241.8 149.9,241.9 149.6,241.9 149.2,241.9 148.9,241.8 148.5,241.6 148.2,241.5 147.8,241.2 147.5,240.8 147.1,240.1Z" fill="#0f5799"/>
<path d="M142.1,246.2 142.5,245.7 142.9,245.7 143.3,246.2 143.3,251.0 142.9,251.5 142.5,251.5 142.1,251.0Z" fill="#d21a30"/>
<line x1="138.70" y1="257.50" x2="151.80" y2="257.50" stroke="#1c1a1b" stroke-width="1.35"/>
<path d="M140.9,256.2 141.2,255.5 141.6,255.0 141.9,254.7 142.3,254.4 142.6,254.3 143.0,254.5 143.3,254.9 143.7,255.3 144.0,255.9 144.4,256.8 144.4,258.2 144.0,259.1 143.7,259.7 143.3,260.1 143.0,260.5 142.6,260.7 142.3,260.6 141.9,260.3 141.6,260.0 141.2,259.5 140.9,258.8Z" fill="#0f5799"/>
<path d="M147.2,256.9 147.5,256.5 147.9,256.3 148.2,256.2 148.6,256.2 148.9,256.3 149.3,256.4 149.6,256.7 149.6,258.3 149.3,258.6 148.9,258.7 148.6,258.8 148.2,258.8 147.9,258.7 147.5,258.5 147.2,258.1Z" fill="#0f5799"/>
<line x1="142.50" y1="254.60" x2="142.50" y2="260.40" stroke="#231f20" stroke-width="1.1"/>
<line x1="133.90" y1="196.00" x2="133.90" y2="264.10" stroke="#2a2a2a" stroke-width="1.3"/>
<line x1="133.30" y1="263.50" x2="174.60" y2="263.50" stroke="#2a2a2a" stroke-width="1.3"/>
<rect x="134.40" y="264.10" width="40.20" height="1.8" fill="#555" fill-opacity="0.55"/>
<line x1="142.30" y1="263.50" x2="142.30" y2="266.90" stroke="#2a2a2a" stroke-width="1.0"/>
<text x="142.30" y="275.80" font-size="9.3" fill="#2b2b2b" text-anchor="middle">0</text>
<line x1="158.40" y1="263.50" x2="158.40" y2="266.90" stroke="#2a2a2a" stroke-width="1.0"/>
<text x="158.40" y="275.80" font-size="9.3" fill="#2b2b2b" text-anchor="middle">1</text>
<line x1="174.50" y1="263.50" x2="174.50" y2="266.90" stroke="#2a2a2a" stroke-width="1.0"/>
<text x="174.50" y="275.80" font-size="9.3" fill="#2b2b2b" text-anchor="middle">2</text>
<text x="194.00" y="191.20" font-size="9.9" fill="#2b2b2b" textLength="62.00" lengthAdjust="spacingAndGlyphs">Treg TOMM20</text>
<line x1="209.00" y1="202.50" x2="212.20" y2="202.50" stroke="#1c1a1b" stroke-width="1.35"/>
<path d="M210.0,201.5 210.3,201.0 210.7,200.6 211.0,200.2 211.4,199.9 211.7,199.7 212.1,199.6 212.5,199.7 212.8,199.8 213.2,200.1 213.5,200.4 213.9,200.7 214.3,201.2 214.6,201.9 215.0,201.7 215.3,201.5 215.7,201.4 216.0,201.4 216.4,201.4 216.8,201.4 217.1,201.4 217.5,201.4 217.8,201.4 218.2,201.4 218.6,201.4 218.9,201.4 219.3,201.4 219.6,201.4 220.0,201.6 220.3,201.8 220.7,202.1 220.7,202.9 220.3,203.2 220.0,203.4 219.6,203.6 219.3,203.6 218.9,203.6 218.6,203.6 218.2,203.6 217.8,203.6 217.5,203.6 217.1,203.6 216.8,203.6 216.4,203.6 216.0,203.6 215.7,203.6 215.3,203.5 215.0,203.3 214.6,203.1 214.3,203.8 213.9,204.3 213.5,204.6 213.2,204.9 212.8,205.2 212.5,205.3 212.1,205.4 211.7,205.3 211.4,205.1 211.0,204.8 210.7,204.4 210.3,204.0 210.0,203.5Z" fill="#3cb44b"/>
<line x1="212.20" y1="199.90" x2="212.20" y2="205.10" stroke="#231f20" stroke-width="1.1"/>
<path d="M210.2,211.0 210.6,211.0 210.9,211.0 211.3,211.0 211.6,211.0 212.0,211.0 212.3,211.0 212.7,211.0 213.0,211.0 213.4,211.0 213.7,211.0 214.1,210.6 214.4,210.3 214.8,210.0 215.2,209.8 215.5,209.7 215.9,209.6 216.2,209.5 216.6,209.4 216.9,209.4 217.3,209.4 217.6,209.4 218.0,209.4 218.3,209.4 218.7,209.5 219.0,209.5 219.4,209.7 219.8,209.8 220.1,210.0 220.5,210.2 220.8,209.8 221.2,209.5 221.5,209.3 221.9,209.1 222.2,208.9 222.6,208.8 222.9,208.7 223.3,208.6 223.6,208.5 224.0,208.4 224.3,208.4 224.7,208.4 225.1,208.4 225.4,208.4 225.8,208.5 226.1,208.5 226.5,208.6 226.8,208.7 227.2,208.8 227.5,209.0 227.9,209.1 228.2,209.4 228.6,209.6 228.9,210.0 229.3,210.5 229.7,211.0 230.0,211.0 230.4,211.0 230.7,211.0 231.1,211.0 231.4,211.0 231.8,211.0 232.1,211.0 232.5,211.0 232.8,211.0 233.2,211.0 233.5,211.0 233.9,211.0 233.9,212.2 233.5,212.2 233.2,212.2 232.8,212.2 232.5,212.2 232.1,212.2 231.8,212.2 231.4,212.2 231.1,212.2 230.7,212.2 230.4,212.2 230.0,212.2 229.7,212.2 229.3,212.7 228.9,213.2 228.6,213.6 228.2,213.8 227.9,214.1 227.5,214.2 227.2,214.4 226.8,214.5 226.5,214.6 226.1,214.7 225.8,214.7 225.4,214.8 225.1,214.8 224.7,214.8 224.3,214.8 224.0,214.8 223.6,214.7 223.3,214.6 222.9,214.5 222.6,214.4 222.2,214.3 221.9,214.1 221.5,213.9 221.2,213.7 220.8,213.4 220.5,213.0 220.1,213.2 219.8,213.4 219.4,213.5 219.0,213.7 218.7,213.7 218.3,213.8 218.0,213.8 217.6,213.8 217.3,213.8 216.9,213.8 216.6,213.8 216.2,213.7 215.9,213.6 215.5,213.5 215.2,213.4 214.8,213.2 214.4,212.9 214.1,212.6 213.7,212.2 213.4,212.2 213.0,212.2 212.7,212.2 212.3,212.2 212.0,212.2 211.6,212.2 211.3,212.2 210.9,212.2 210.6,212.2 210.2,212.2Z" fill="#d21a30"/>
<line x1="224.10" y1="208.73" x2="224.10" y2="214.47" stroke="#231f20" stroke-width="1.1"/>
<line x1="204.50" y1="220.95" x2="236.20" y2="220.95" stroke="#1c1a1b" stroke-width="1.35"/>
<path d="M217.5,219.7 217.8,219.3 218.2,218.9 218.5,218.7 218.9,218.5 219.2,218.4 219.6,218.3 219.9,218.2 220.3,218.2 220.6,218.2 221.0,218.2 221.4,218.2 221.7,218.3 222.1,218.4 222.4,218.6 222.8,218.8 223.1,219.0 223.5,219.4 223.8,219.9 224.2,220.6 224.5,220.3 224.9,220.0 225.3,219.8 225.6,219.5 226.0,219.2 226.3,219.0 226.7,218.7 227.0,218.4 227.4,218.2 227.7,217.9 228.1,217.6 228.4,217.7 228.8,218.0 229.2,218.3 229.5,218.5 229.9,218.8 230.2,219.1 230.6,219.3 230.9,219.6 231.3,219.9 231.6,220.1 232.0,220.4 232.3,220.7 232.3,221.2 232.0,221.5 231.6,221.8 231.3,222.0 230.9,222.3 230.6,222.6 230.2,222.8 229.9,223.1 229.5,223.4 229.2,223.6 228.8,223.9 228.4,224.2 228.1,224.3 227.7,224.0 227.4,223.7 227.0,223.5 226.7,223.2 226.3,222.9 226.0,222.7 225.6,222.4 225.3,222.1 224.9,221.9 224.5,221.6 224.2,221.3 223.8,222.0 223.5,222.5 223.1,222.9 222.8,223.1 222.4,223.3 222.1,223.5 221.7,223.6 221.4,223.7 221.0,223.7 220.6,223.7 220.3,223.7 219.9,223.7 219.6,223.6 219.2,223.5 218.9,223.4 218.5,223.2 218.2,223.0 217.8,222.6 217.5,222.2Z" fill="#0f5799"/>
<line x1="220.60" y1="218.45" x2="220.60" y2="223.45" stroke="#231f20" stroke-width="1.1"/>
<path d="M207.3,229.5 207.7,229.5 208.0,229.5 208.4,229.5 208.7,229.5 209.1,229.5 209.4,229.5 209.8,229.5 210.1,229.5 210.5,229.5 210.8,229.3 211.2,228.5 211.5,228.0 211.9,227.6 212.2,227.2 212.6,227.0 213.0,226.9 213.3,227.1 213.7,227.3 214.0,227.7 214.4,228.2 214.7,228.7 215.1,229.5 215.4,229.5 215.8,229.5 216.1,229.1 216.5,228.8 216.8,228.5 217.2,228.3 217.6,228.1 217.9,227.9 218.3,227.8 218.6,227.7 219.0,227.6 219.3,227.5 219.7,227.5 220.0,227.6 220.4,227.7 220.7,227.9 221.1,228.0 221.4,228.2 221.8,228.4 222.1,228.7 222.5,228.9 222.9,229.3 223.2,229.5 223.6,229.5 223.9,229.4 224.3,229.3 224.6,229.3 225.0,229.4 225.3,229.5 225.7,229.5 226.0,229.5 226.4,229.5 226.7,229.5 227.1,229.5 227.4,229.5 227.8,229.5 227.8,230.9 227.4,230.9 227.1,230.9 226.7,230.9 226.4,230.9 226.0,230.9 225.7,230.9 225.3,230.9 225.0,231.0 224.6,231.1 224.3,231.1 223.9,231.0 223.6,230.9 223.2,230.9 222.9,231.1 222.5,231.5 222.1,231.7 221.8,232.0 221.4,232.2 221.1,232.4 220.7,232.5 220.4,232.7 220.0,232.8 219.7,232.9 219.3,232.9 219.0,232.8 218.6,232.7 218.3,232.6 217.9,232.5 217.6,232.3 217.2,232.1 216.8,231.9 216.5,231.6 216.1,231.3 215.8,230.9 215.4,230.9 215.1,230.9 214.7,231.7 214.4,232.2 214.0,232.7 213.7,233.1 213.3,233.3 213.0,233.5 212.6,233.4 212.2,233.2 211.9,232.8 211.5,232.4 211.2,231.9 210.8,231.1 210.5,230.9 210.1,230.9 209.8,230.9 209.4,230.9 209.1,230.9 208.7,230.9 208.4,230.9 208.0,230.9 207.7,230.9 207.3,230.9Z" fill="#d21a30"/>
<line x1="206.60" y1="239.30" x2="226.90" y2="239.30" stroke="#1c1a1b" stroke-width="1.35"/>
<path d="M210.5,238.3 210.8,237.8 211.2,237.3 211.5,237.0 211.9,236.7 212.2,236.5 212.6,236.3 212.9,236.2 213.3,236.3 213.6,236.5 214.0,236.7 214.3,237.0 214.7,237.4 215.0,237.8 215.4,238.4 215.4,240.2 215.0,240.8 214.7,241.2 214.3,241.6 214.0,241.9 213.6,242.1 213.3,242.3 212.9,242.4 212.6,242.3 212.2,242.1 211.9,241.9 211.5,241.6 211.2,241.3 210.8,240.8 210.5,240.3Z" fill="#0f5799"/>
<path d="M217.9,238.5 218.2,237.8 218.6,237.4 218.9,237.2 219.3,237.0 219.6,236.9 220.0,236.8 220.3,236.7 220.7,236.7 221.0,236.7 221.4,236.8 221.7,236.9 222.1,237.1 222.4,237.3 222.8,237.6 223.1,238.1 223.1,240.5 222.8,241.0 222.4,241.3 222.1,241.5 221.7,241.7 221.4,241.8 221.0,241.9 220.7,241.9 220.3,241.9 220.0,241.8 219.6,241.7 219.3,241.6 218.9,241.4 218.6,241.2 218.2,240.8 217.9,240.1Z" fill="#0f5799"/>
<line x1="212.90" y1="236.50" x2="212.90" y2="242.10" stroke="#231f20" stroke-width="1.1"/>
<path d="M209.1,248.0 209.5,248.0 209.8,248.0 210.2,248.0 210.5,248.0 210.9,248.0 211.2,248.0 211.6,248.0 212.0,248.0 212.3,247.3 212.7,246.8 213.0,246.4 213.4,246.1 213.7,245.9 214.1,245.8 214.5,245.9 214.8,246.1 215.2,246.4 215.5,246.8 215.9,247.3 216.2,248.0 216.6,247.9 217.0,247.4 217.3,247.2 217.7,247.0 218.0,246.8 218.4,246.8 218.7,246.7 219.1,246.7 219.5,246.7 219.8,246.8 220.2,246.9 220.5,247.1 220.9,247.3 221.2,247.6 221.6,248.0 222.0,248.0 222.3,248.0 222.7,248.0 223.0,248.0 223.4,248.0 223.7,248.0 224.1,248.0 224.1,249.2 223.7,249.2 223.4,249.2 223.0,249.2 222.7,249.2 222.3,249.2 222.0,249.2 221.6,249.2 221.2,249.6 220.9,249.9 220.5,250.1 220.2,250.3 219.8,250.4 219.5,250.5 219.1,250.5 218.7,250.5 218.4,250.4 218.0,250.4 217.7,250.2 217.3,250.0 217.0,249.8 216.6,249.3 216.2,249.2 215.9,249.9 215.5,250.4 215.2,250.8 214.8,251.1 214.5,251.3 214.1,251.4 213.7,251.3 213.4,251.1 213.0,250.8 212.7,250.4 212.3,249.9 212.0,249.2 211.6,249.2 211.2,249.2 210.9,249.2 210.5,249.2 210.2,249.2 209.8,249.2 209.5,249.2 209.1,249.2Z" fill="#d21a30"/>
<line x1="207.30" y1="257.50" x2="226.40" y2="257.50" stroke="#1c1a1b" stroke-width="1.35"/>
<path d="M211.0,256.4 211.3,255.8 211.7,255.4 212.0,255.0 212.4,254.7 212.7,254.5 213.1,254.4 213.4,254.5 213.8,254.7 214.1,255.0 214.5,255.3 214.8,255.7 215.2,256.3 215.5,257.1 215.5,257.9 215.2,258.7 214.8,259.3 214.5,259.7 214.1,260.0 213.8,260.3 213.4,260.5 213.1,260.6 212.7,260.5 212.4,260.3 212.0,260.0 211.7,259.6 211.3,259.2 211.0,258.6Z" fill="#0f5799"/>
<path d="M219.7,257.2 220.1,256.7 220.4,256.4 220.8,256.3 221.1,256.2 221.5,256.2 221.8,256.3 222.2,256.4 222.5,256.7 222.5,258.3 222.2,258.6 221.8,258.7 221.5,258.8 221.1,258.8 220.8,258.7 220.4,258.6 220.1,258.3 219.7,257.8Z" fill="#0f5799"/>
<line x1="213.10" y1="254.70" x2="213.10" y2="260.30" stroke="#231f20" stroke-width="1.1"/>
<line x1="204.40" y1="196.00" x2="204.40" y2="264.10" stroke="#2a2a2a" stroke-width="1.3"/>
<line x1="203.80" y1="263.50" x2="244.50" y2="263.50" stroke="#2a2a2a" stroke-width="1.3"/>
<rect x="204.90" y="264.10" width="39.60" height="1.8" fill="#555" fill-opacity="0.55"/>
<line x1="212.60" y1="263.50" x2="212.60" y2="266.90" stroke="#2a2a2a" stroke-width="1.0"/>
<text x="212.60" y="275.80" font-size="9.3" fill="#2b2b2b" text-anchor="middle">0</text>
<line x1="228.50" y1="263.50" x2="228.50" y2="266.90" stroke="#2a2a2a" stroke-width="1.0"/>
<text x="228.50" y="275.80" font-size="9.3" fill="#2b2b2b" text-anchor="middle">1</text>
<line x1="244.40" y1="263.50" x2="244.40" y2="266.90" stroke="#2a2a2a" stroke-width="1.0"/>
<text x="244.40" y="275.80" font-size="9.3" fill="#2b2b2b" text-anchor="middle">2</text>
<text x="56.30" y="293.00" font-size="9.9" fill="#2b2b2b" textLength="52.90" lengthAdjust="spacingAndGlyphs">Tconv VDAC</text>
<line x1="65.40" y1="305.00" x2="93.80" y2="305.00" stroke="#1c1a1b" stroke-width="1.35"/>
<path d="M70.2,304.3 70.5,304.0 70.9,303.7 71.2,303.4 71.6,303.2 71.9,303.0 72.3,302.8 72.6,302.6 73.0,302.5 73.3,302.4 73.7,302.3 74.1,302.2 74.4,302.1 74.8,302.1 75.1,302.2 75.5,302.3 75.8,302.4 76.2,302.5 76.5,302.6 76.9,302.8 77.2,303.0 77.6,303.2 78.0,303.4 78.3,303.6 78.7,303.9 79.0,304.3 79.4,304.9 79.4,305.1 79.0,305.7 78.7,306.1 78.3,306.4 78.0,306.6 77.6,306.8 77.2,307.0 76.9,307.2 76.5,307.4 76.2,307.5 75.8,307.6 75.5,307.7 75.1,307.8 74.8,307.9 74.4,307.9 74.1,307.8 73.7,307.7 73.3,307.6 73.0,307.5 72.6,307.4 72.3,307.2 71.9,307.0 71.6,306.8 71.2,306.6 70.9,306.3 70.5,306.0 70.2,305.7Z" fill="#3cb44b"/>
<path d="M85.4,304.4 85.8,304.0 86.1,303.9 86.5,303.7 86.8,303.6 87.2,303.6 87.5,303.6 87.9,303.6 88.2,303.7 88.6,303.8 88.9,304.0 89.3,304.2 89.3,305.8 88.9,306.0 88.6,306.2 88.2,306.3 87.9,306.4 87.5,306.4 87.2,306.4 86.8,306.4 86.5,306.3 86.1,306.1 85.8,306.0 85.4,305.6Z" fill="#3cb44b"/>
<line x1="74.60" y1="302.40" x2="74.60" y2="307.60" stroke="#231f20" stroke-width="1.1"/>
<path d="M67.7,313.4 68.1,313.4 68.4,313.4 68.8,313.4 69.1,313.4 69.5,313.4 69.8,313.4 70.2,313.4 70.5,313.4 70.9,313.4 71.2,313.0 71.6,312.8 71.9,312.5 72.3,312.3 72.6,312.1 73.0,311.9 73.3,311.8 73.7,311.6 74.0,311.5 74.4,311.5 74.8,311.4 75.1,311.4 75.5,311.5 75.8,311.6 76.2,311.7 76.5,311.9 76.9,312.0 77.2,312.2 77.6,312.4 77.9,312.7 78.3,313.0 78.6,312.9 79.0,312.7 79.3,312.4 79.7,312.2 80.0,312.1 80.4,311.9 80.8,311.8 81.1,311.6 81.5,311.5 81.8,311.4 82.2,311.3 82.5,311.3 82.9,311.2 83.2,311.2 83.6,311.2 83.9,311.3 84.3,311.4 84.6,311.5 85.0,311.6 85.3,311.7 85.7,311.9 86.0,312.0 86.4,312.2 86.7,312.4 87.1,312.6 87.5,312.8 87.8,313.1 88.2,313.4 88.5,313.3 88.9,313.2 89.2,313.1 89.6,313.1 89.9,313.1 90.3,313.2 90.6,313.3 91.0,313.4 91.3,313.4 91.7,313.4 92.0,313.4 92.4,313.4 92.7,313.4 93.1,313.4 93.4,313.4 93.8,313.4 93.8,314.8 93.4,314.8 93.1,314.8 92.7,314.8 92.4,314.8 92.0,314.8 91.7,314.8 91.3,314.8 91.0,314.8 90.6,314.9 90.3,315.0 89.9,315.1 89.6,315.1 89.2,315.1 88.9,315.0 88.5,314.9 88.2,314.8 87.8,315.1 87.5,315.4 87.1,315.6 86.7,315.8 86.4,316.0 86.0,316.2 85.7,316.3 85.3,316.5 85.0,316.6 84.6,316.7 84.3,316.8 83.9,316.9 83.6,317.0 83.2,317.0 82.9,317.0 82.5,316.9 82.2,316.9 81.8,316.8 81.5,316.7 81.1,316.6 80.8,316.4 80.4,316.3 80.0,316.1 79.7,316.0 79.3,315.8 79.0,315.5 78.6,315.3 78.3,315.2 77.9,315.5 77.6,315.8 77.2,316.0 76.9,316.2 76.5,316.3 76.2,316.5 75.8,316.6 75.5,316.7 75.1,316.8 74.8,316.8 74.4,316.7 74.0,316.7 73.7,316.6 73.3,316.4 73.0,316.3 72.6,316.1 72.3,315.9 71.9,315.7 71.6,315.4 71.2,315.2 70.9,314.8 70.5,314.8 70.2,314.8 69.8,314.8 69.5,314.8 69.1,314.8 68.8,314.8 68.4,314.8 68.1,314.8 67.7,314.8Z" fill="#d21a30"/>
<line x1="83.40" y1="311.52" x2="83.40" y2="316.68" stroke="#231f20" stroke-width="1.1"/>
<line x1="67.70" y1="323.45" x2="81.70" y2="323.45" stroke="#1c1a1b" stroke-width="1.35"/>
<path d="M70.7,322.4 71.0,321.9 71.4,321.5 71.7,321.3 72.1,321.2 72.5,321.4 72.8,321.7 73.2,322.2 73.5,322.8 73.5,324.1 73.2,324.7 72.8,325.2 72.5,325.5 72.1,325.7 71.7,325.6 71.4,325.4 71.0,325.0 70.7,324.5Z" fill="#0f5799"/>
<path d="M75.7,322.0 76.1,321.1 76.4,320.6 76.8,320.3 77.1,320.2 77.5,320.2 77.9,320.2 78.2,320.5 78.6,320.9 78.9,321.5 78.9,325.4 78.6,326.0 78.2,326.4 77.9,326.7 77.5,326.7 77.1,326.7 76.8,326.6 76.4,326.3 76.1,325.8 75.7,324.9Z" fill="#0f5799"/>
<path d="M68.1,331.9 68.5,331.9 68.8,331.9 69.2,331.9 69.5,331.9 69.9,331.9 70.2,331.9 70.6,331.9 70.9,331.9 71.3,331.9 71.6,331.9 72.0,331.9 72.3,331.9 72.7,331.9 73.0,331.9 73.4,331.9 73.7,331.9 74.1,331.9 74.4,331.9 74.8,331.9 75.1,331.0 75.5,330.2 75.8,329.9 76.2,329.7 76.5,329.7 76.9,330.0 77.3,330.5 77.6,331.6 78.0,331.9 78.3,331.9 78.7,331.9 79.0,331.9 79.4,331.9 79.7,331.9 80.1,331.9 80.4,331.9 80.8,331.9 81.1,331.9 81.5,331.9 81.8,331.9 82.2,331.9 82.5,331.9 82.9,331.9 83.2,331.9 83.6,331.9 83.9,331.9 84.3,331.9 84.6,331.9 85.0,331.9 85.0,333.5 84.6,333.5 84.3,333.5 83.9,333.5 83.6,333.5 83.2,333.5 82.9,333.5 82.5,333.5 82.2,333.5 81.8,333.5 81.5,333.5 81.1,333.5 80.8,333.5 80.4,333.5 80.1,333.5 79.7,333.5 79.4,333.5 79.0,333.5 78.7,333.5 78.3,333.5 78.0,333.5 77.6,333.8 77.3,334.9 76.9,335.4 76.5,335.7 76.2,335.7 75.8,335.5 75.5,335.2 75.1,334.4 74.8,333.5 74.4,333.5 74.1,333.5 73.7,333.5 73.4,333.5 73.0,333.5 72.7,333.5 72.3,333.5 72.0,333.5 71.6,333.5 71.3,333.5 70.9,333.5 70.6,333.5 70.2,333.5 69.9,333.5 69.5,333.5 69.2,333.5 68.8,333.5 68.5,333.5 68.1,333.5Z" fill="#d21a30"/>
<line x1="76.30" y1="330.00" x2="76.30" y2="335.40" stroke="#231f20" stroke-width="1.6"/>
<line x1="73.30" y1="341.80" x2="92.00" y2="341.80" stroke="#1c1a1b" stroke-width="1.35"/>
<path d="M75.1,341.3 75.4,341.0 75.8,340.8 76.1,340.5 76.5,340.4 76.8,340.2 77.2,340.0 77.6,339.9 77.9,339.7 78.3,339.6 78.6,339.5 79.0,339.4 79.3,339.3 79.7,339.2 80.1,339.1 80.4,339.0 80.8,339.0 81.1,338.9 81.5,338.9 81.8,338.8 82.2,338.8 82.6,338.8 82.9,338.9 83.3,338.9 83.6,339.0 84.0,339.0 84.3,339.1 84.7,339.2 85.1,339.3 85.4,339.4 85.8,339.5 86.1,339.6 86.5,339.7 86.8,339.9 87.2,340.0 87.6,340.2 87.9,340.4 88.3,340.5 88.6,340.8 89.0,341.0 89.3,341.3 89.3,342.3 89.0,342.6 88.6,342.8 88.3,343.1 87.9,343.2 87.6,343.4 87.2,343.6 86.8,343.7 86.5,343.9 86.1,344.0 85.8,344.1 85.4,344.2 85.1,344.3 84.7,344.4 84.3,344.5 84.0,344.6 83.6,344.6 83.3,344.7 82.9,344.7 82.6,344.8 82.2,344.8 81.8,344.8 81.5,344.7 81.1,344.7 80.8,344.6 80.4,344.6 80.1,344.5 79.7,344.4 79.3,344.3 79.0,344.2 78.6,344.1 78.3,344.0 77.9,343.9 77.6,343.7 77.2,343.6 76.8,343.4 76.5,343.2 76.1,343.1 75.8,342.8 75.4,342.6 75.1,342.3Z" fill="#0f5799"/>
<line x1="82.20" y1="339.10" x2="82.20" y2="344.50" stroke="#231f20" stroke-width="1.1"/>
<path d="M66.3,350.4 66.7,350.4 67.0,350.4 67.4,350.4 67.7,350.4 68.1,350.4 68.4,350.4 68.8,350.4 69.1,350.4 69.5,350.4 69.8,350.4 70.2,350.3 70.5,350.0 70.9,349.9 71.2,349.8 71.6,349.8 71.9,349.9 72.3,350.1 72.7,350.4 73.0,350.4 73.4,350.4 73.7,350.4 74.1,350.4 74.4,350.4 74.8,350.4 75.1,350.4 75.5,350.4 75.8,350.4 76.2,349.9 76.5,349.3 76.9,348.9 77.2,348.5 77.6,348.2 77.9,348.0 78.3,347.8 78.6,347.9 79.0,348.0 79.4,348.3 79.7,348.6 80.1,349.0 80.4,349.6 80.8,350.2 81.1,350.4 81.5,350.4 81.8,350.4 82.2,350.4 82.5,350.4 82.9,350.4 83.2,350.4 83.6,350.4 83.9,350.4 84.3,350.4 84.6,350.4 85.0,350.4 85.0,351.8 84.6,351.8 84.3,351.8 83.9,351.8 83.6,351.8 83.2,351.8 82.9,351.8 82.5,351.8 82.2,351.8 81.8,351.8 81.5,351.8 81.1,351.8 80.8,352.0 80.4,352.6 80.1,353.2 79.7,353.6 79.4,353.9 79.0,354.2 78.6,354.3 78.3,354.4 77.9,354.2 77.6,354.0 77.2,353.7 76.9,353.3 76.5,352.9 76.2,352.3 75.8,351.8 75.5,351.8 75.1,351.8 74.8,351.8 74.4,351.8 74.1,351.8 73.7,351.8 73.4,351.8 73.0,351.8 72.7,351.8 72.3,352.1 71.9,352.3 71.6,352.4 71.2,352.4 70.9,352.3 70.5,352.2 70.2,351.9 69.8,351.8 69.5,351.8 69.1,351.8 68.8,351.8 68.4,351.8 68.1,351.8 67.7,351.8 67.4,351.8 67.0,351.8 66.7,351.8 66.3,351.8Z" fill="#d21a30"/>
<line x1="78.40" y1="348.10" x2="78.40" y2="354.10" stroke="#231f20" stroke-width="1.1"/>
<line x1="75.90" y1="360.00" x2="87.10" y2="360.00" stroke="#1c1a1b" stroke-width="1.35"/>
<path d="M78.7,358.1 79.0,357.5 79.4,357.1 79.7,356.8 80.1,356.7 80.4,356.7 80.8,356.8 81.2,357.0 81.5,357.4 81.9,358.0 82.2,359.1 82.2,360.9 81.9,362.0 81.5,362.6 81.2,363.0 80.8,363.2 80.4,363.3 80.1,363.3 79.7,363.2 79.4,362.9 79.0,362.5 78.7,361.9Z" fill="#0f5799"/>
<path d="M83.3,359.4 83.7,358.9 84.0,358.6 84.4,358.5 84.7,358.5 85.1,358.7 85.4,359.0 85.4,361.0 85.1,361.3 84.7,361.5 84.4,361.5 84.0,361.4 83.7,361.1 83.3,360.6Z" fill="#0f5799"/>
<line x1="80.30" y1="357.00" x2="80.30" y2="363.00" stroke="#d21a30" stroke-width="1.1"/>
<line x1="63.30" y1="298.50" x2="63.30" y2="366.60" stroke="#2a2a2a" stroke-width="1.3"/>
<line x1="62.70" y1="366.00" x2="103.50" y2="366.00" stroke="#2a2a2a" stroke-width="1.3"/>
<rect x="63.80" y="366.60" width="39.70" height="1.8" fill="#555" fill-opacity="0.55"/>
<line x1="71.30" y1="366.00" x2="71.30" y2="369.40" stroke="#2a2a2a" stroke-width="1.0"/>
<text x="71.30" y="378.30" font-size="9.3" fill="#2b2b2b" text-anchor="middle">0</text>
<line x1="87.30" y1="366.00" x2="87.30" y2="369.40" stroke="#2a2a2a" stroke-width="1.0"/>
<text x="87.30" y="378.30" font-size="9.3" fill="#2b2b2b" text-anchor="middle">1</text>
<line x1="103.30" y1="366.00" x2="103.30" y2="369.40" stroke="#2a2a2a" stroke-width="1.0"/>
<text x="103.30" y="378.30" font-size="9.3" fill="#2b2b2b" text-anchor="middle">2</text>
<path d="M98.30,314.10 L101.30,314.10 L101.30,323.45 L98.30,323.45" fill="none" stroke="#333" stroke-width="1.25" stroke-linejoin="round"/>
<path d="M105.60,316.72 L106.16,318.01 L107.55,318.14 L106.50,319.07 L106.80,320.43 L105.60,319.72 L104.40,320.43 L104.70,319.07 L103.65,318.14 L105.04,318.01Z" fill="#2a2a2a"/>
<path d="M98.30,332.70 L101.30,332.70 L101.30,341.80 L98.30,341.80" fill="none" stroke="#333" stroke-width="1.25" stroke-linejoin="round"/>
<path d="M105.60,335.20 L106.16,336.48 L107.55,336.62 L106.50,337.54 L106.80,338.91 L105.60,338.20 L104.40,338.91 L104.70,337.54 L103.65,336.62 L105.04,336.48Z" fill="#2a2a2a"/>
<text x="131.00" y="293.00" font-size="9.9" fill="#2b2b2b" textLength="47.10" lengthAdjust="spacingAndGlyphs">CD8 VDAC</text>
<line x1="137.10" y1="305.00" x2="165.00" y2="305.00" stroke="#1c1a1b" stroke-width="1.35"/>
<path d="M141.8,303.9 142.1,303.4 142.5,303.1 142.8,302.9 143.2,302.7 143.5,302.5 143.9,302.4 144.3,302.3 144.6,302.2 145.0,302.1 145.3,302.1 145.7,302.1 146.0,302.1 146.4,302.1 146.7,302.1 147.1,302.1 147.5,302.2 147.8,302.3 148.2,302.4 148.5,302.5 148.9,302.6 149.2,302.8 149.6,303.0 150.0,303.3 150.3,303.7 150.7,304.3 150.7,305.7 150.3,306.3 150.0,306.7 149.6,307.0 149.2,307.2 148.9,307.4 148.5,307.5 148.2,307.6 147.8,307.7 147.5,307.8 147.1,307.9 146.7,307.9 146.4,307.9 146.0,307.9 145.7,307.9 145.3,307.9 145.0,307.9 144.6,307.8 144.3,307.7 143.9,307.6 143.5,307.5 143.2,307.3 142.8,307.1 142.5,306.9 142.1,306.6 141.8,306.1Z" fill="#3cb44b"/>
<path d="M156.0,304.6 156.4,304.2 156.7,304.0 157.1,303.8 157.4,303.8 157.8,303.7 158.2,303.7 158.5,303.7 158.9,303.8 159.2,303.9 159.6,304.0 159.9,304.3 159.9,305.7 159.6,306.0 159.2,306.1 158.9,306.2 158.5,306.3 158.2,306.3 157.8,306.3 157.4,306.2 157.1,306.2 156.7,306.0 156.4,305.8 156.0,305.4Z" fill="#3cb44b"/>
<line x1="146.10" y1="302.35" x2="146.10" y2="307.65" stroke="#231f20" stroke-width="1.1"/>
<path d="M140.4,313.4 140.8,313.4 141.1,313.4 141.5,313.4 141.8,313.4 142.2,313.4 142.5,313.4 142.9,313.4 143.2,313.4 143.6,313.2 143.9,312.7 144.3,312.4 144.7,312.0 145.0,311.8 145.4,311.5 145.7,311.4 146.1,311.2 146.4,311.1 146.8,311.0 147.1,311.1 147.5,311.2 147.8,311.3 148.2,311.5 148.6,311.7 148.9,312.0 149.3,312.2 149.6,312.1 150.0,312.1 150.3,312.1 150.7,312.1 151.0,312.1 151.4,312.1 151.7,312.1 152.1,312.1 152.4,312.1 152.8,312.1 153.2,312.1 153.5,312.2 153.9,312.3 154.2,312.5 154.6,312.8 154.9,312.9 155.3,312.6 155.6,312.4 156.0,312.1 156.3,312.0 156.7,311.8 157.1,311.7 157.4,311.6 157.8,311.6 158.1,311.7 158.5,311.9 158.8,312.0 159.2,312.3 159.5,312.5 159.9,312.8 160.2,313.1 160.6,313.4 161.0,313.4 161.3,313.4 161.7,313.4 162.0,313.4 162.4,313.4 162.7,313.4 163.1,313.4 163.4,313.4 163.8,313.4 164.1,313.4 164.5,313.4 164.5,314.8 164.1,314.8 163.8,314.8 163.4,314.8 163.1,314.8 162.7,314.8 162.4,314.8 162.0,314.8 161.7,314.8 161.3,314.8 161.0,314.8 160.6,314.8 160.2,315.1 159.9,315.4 159.5,315.7 159.2,315.9 158.8,316.2 158.5,316.3 158.1,316.5 157.8,316.6 157.4,316.6 157.1,316.5 156.7,316.4 156.3,316.2 156.0,316.1 155.6,315.8 155.3,315.6 154.9,315.3 154.6,315.4 154.2,315.7 153.9,315.9 153.5,316.0 153.2,316.1 152.8,316.1 152.4,316.1 152.1,316.1 151.7,316.1 151.4,316.1 151.0,316.1 150.7,316.1 150.3,316.1 150.0,316.1 149.6,316.1 149.3,316.0 148.9,316.2 148.6,316.5 148.2,316.7 147.8,316.9 147.5,317.0 147.1,317.1 146.8,317.2 146.4,317.1 146.1,317.0 145.7,316.8 145.4,316.7 145.0,316.4 144.7,316.2 144.3,315.8 143.9,315.5 143.6,315.0 143.2,314.8 142.9,314.8 142.5,314.8 142.2,314.8 141.8,314.8 141.5,314.8 141.1,314.8 140.8,314.8 140.4,314.8Z" fill="#d21a30"/>
<line x1="151.70" y1="312.40" x2="151.70" y2="315.80" stroke="#231f20" stroke-width="1.1"/>
<line x1="139.20" y1="323.45" x2="155.50" y2="323.45" stroke="#1c1a1b" stroke-width="1.35"/>
<path d="M141.2,322.6 141.5,322.3 141.9,322.3 142.3,322.3 142.6,322.4 143.0,322.8 143.0,324.1 142.6,324.5 142.3,324.6 141.9,324.6 141.5,324.6 141.2,324.3Z" fill="#0f5799"/>
<path d="M145.2,321.8 145.5,321.2 145.9,320.8 146.3,320.6 146.6,320.5 147.0,320.5 147.3,320.6 147.7,320.8 148.1,321.2 148.4,321.8 148.4,325.1 148.1,325.7 147.7,326.1 147.3,326.3 147.0,326.4 146.6,326.4 146.3,326.3 145.9,326.1 145.5,325.7 145.2,325.1Z" fill="#0f5799"/>
<ellipse cx="154.20" cy="323.45" rx="1.60" ry="1.30" fill="#231f20"/>
<line x1="146.80" y1="320.80" x2="146.80" y2="326.10" stroke="#231f20" stroke-width="1.1"/>
<path d="M137.9,331.9 138.3,331.9 138.6,331.9 139.0,331.9 139.3,331.9 139.7,331.9 140.0,331.9 140.4,331.9 140.7,331.9 141.1,331.9 141.4,331.8 141.8,331.4 142.2,331.2 142.5,331.0 142.9,331.0 143.2,331.0 143.6,331.1 143.9,331.4 144.3,331.7 144.6,331.9 145.0,331.9 145.4,331.9 145.7,331.9 146.1,331.9 146.4,331.5 146.8,331.1 147.1,330.7 147.5,330.4 147.8,330.1 148.2,329.9 148.5,329.7 148.9,329.5 149.3,329.4 149.6,329.4 150.0,329.5 150.3,329.7 150.7,329.9 151.0,330.1 151.4,330.4 151.7,330.8 152.1,331.1 152.5,331.6 152.8,331.9 153.2,331.9 153.5,331.9 153.9,331.9 154.2,331.9 154.6,331.9 154.9,331.9 155.3,331.9 155.6,331.9 156.0,331.9 156.0,333.5 155.6,333.5 155.3,333.5 154.9,333.5 154.6,333.5 154.2,333.5 153.9,333.5 153.5,333.5 153.2,333.5 152.8,333.5 152.5,333.8 152.1,334.3 151.7,334.6 151.4,335.0 151.0,335.3 150.7,335.5 150.3,335.7 150.0,335.9 149.6,336.0 149.3,336.0 148.9,335.9 148.5,335.7 148.2,335.5 147.8,335.3 147.5,335.0 147.1,334.7 146.8,334.3 146.4,333.9 146.1,333.5 145.7,333.5 145.4,333.5 145.0,333.5 144.6,333.5 144.3,333.7 143.9,334.0 143.6,334.3 143.2,334.4 142.9,334.4 142.5,334.4 142.2,334.2 141.8,334.0 141.4,333.6 141.1,333.5 140.7,333.5 140.4,333.5 140.0,333.5 139.7,333.5 139.3,333.5 139.0,333.5 138.6,333.5 138.3,333.5 137.9,333.5Z" fill="#d21a30"/>
<line x1="149.40" y1="329.70" x2="149.40" y2="335.70" stroke="#231f20" stroke-width="1.1"/>
<line x1="141.00" y1="341.80" x2="164.80" y2="341.80" stroke="#1c1a1b" stroke-width="1.35"/>
<path d="M144.7,340.9 145.0,340.6 145.4,340.3 145.7,340.1 146.1,340.0 146.4,339.9 146.8,339.8 147.1,339.7 147.5,339.6 147.8,339.6 148.2,339.6 148.5,339.6 148.9,339.6 149.2,339.6 149.6,339.6 149.9,339.7 150.2,339.8 150.6,339.9 151.0,340.0 151.3,340.1 151.7,340.3 152.0,340.6 152.4,340.9 152.4,342.7 152.0,343.0 151.7,343.3 151.3,343.5 151.0,343.6 150.6,343.7 150.2,343.8 149.9,343.9 149.6,344.0 149.2,344.0 148.9,344.0 148.5,344.1 148.2,344.0 147.8,344.0 147.5,344.0 147.1,343.9 146.8,343.8 146.4,343.7 146.1,343.6 145.7,343.5 145.4,343.3 145.0,343.0 144.7,342.7Z" fill="#0f5799"/>
<path d="M153.4,340.8 153.8,340.1 154.1,339.6 154.5,339.1 154.8,338.8 155.2,338.4 155.5,338.2 155.9,338.0 156.2,337.8 156.6,337.8 156.9,338.0 157.3,338.2 157.6,338.4 158.0,338.7 158.3,339.1 158.7,339.5 159.0,340.0 159.4,340.6 159.4,343.0 159.0,343.6 158.7,344.1 158.3,344.5 158.0,344.9 157.6,345.2 157.3,345.4 156.9,345.6 156.6,345.8 156.2,345.8 155.9,345.6 155.5,345.4 155.2,345.2 154.8,344.8 154.5,344.5 154.1,344.0 153.8,343.5 153.4,342.8Z" fill="#0f5799"/>
<line x1="156.00" y1="338.21" x2="156.00" y2="345.39" stroke="#231f20" stroke-width="1.1"/>
<path d="M144.7,350.3 145.0,349.8 145.4,349.4 145.7,349.1 146.1,348.9 146.4,348.6 146.8,348.4 147.1,348.3 147.5,348.2 147.8,348.1 148.2,348.2 148.5,348.3 148.9,348.4 149.2,348.6 149.6,348.9 149.9,349.1 150.2,349.4 150.6,349.8 151.0,350.3 151.0,351.9 150.6,352.4 150.2,352.8 149.9,353.1 149.6,353.3 149.2,353.6 148.9,353.8 148.5,353.9 148.2,354.0 147.8,354.1 147.5,354.0 147.1,353.9 146.8,353.8 146.4,353.6 146.1,353.3 145.7,353.1 145.4,352.8 145.0,352.4 144.7,351.9Z" fill="#d21a30"/>
<line x1="147.80" y1="348.40" x2="147.80" y2="353.80" stroke="#231f20" stroke-width="1.1"/>
<line x1="145.20" y1="360.00" x2="158.10" y2="360.00" stroke="#1c1a1b" stroke-width="1.35"/>
<path d="M148.0,358.9 148.3,358.5 148.7,358.2 149.0,358.1 149.4,358.0 149.8,357.9 150.1,357.9 150.5,358.0 150.8,358.1 151.2,358.3 151.6,358.5 151.9,359.0 152.3,358.4 152.6,357.9 153.0,357.5 153.4,357.2 153.7,357.0 154.1,356.9 154.4,357.0 154.8,357.2 155.2,357.5 155.5,357.9 155.9,358.3 156.2,358.9 156.2,361.1 155.9,361.7 155.5,362.1 155.2,362.5 154.8,362.8 154.4,363.0 154.1,363.1 153.7,363.0 153.4,362.8 153.0,362.5 152.6,362.1 152.3,361.6 151.9,361.0 151.6,361.5 151.2,361.7 150.8,361.9 150.5,362.0 150.1,362.1 149.8,362.1 149.4,362.0 149.0,361.9 148.7,361.8 148.3,361.5 148.0,361.1Z" fill="#0f5799"/>
<line x1="154.10" y1="357.20" x2="154.10" y2="362.80" stroke="#231f20" stroke-width="1.1"/>
<line x1="134.00" y1="298.50" x2="134.00" y2="366.60" stroke="#2a2a2a" stroke-width="1.3"/>
<line x1="133.40" y1="366.00" x2="174.70" y2="366.00" stroke="#2a2a2a" stroke-width="1.3"/>
<rect x="134.50" y="366.60" width="40.20" height="1.8" fill="#555" fill-opacity="0.55"/>
<line x1="142.20" y1="366.00" x2="142.20" y2="369.40" stroke="#2a2a2a" stroke-width="1.0"/>
<text x="142.20" y="378.30" font-size="9.3" fill="#2b2b2b" text-anchor="middle">0</text>
<line x1="158.25" y1="366.00" x2="158.25" y2="369.40" stroke="#2a2a2a" stroke-width="1.0"/>
<text x="158.25" y="378.30" font-size="9.3" fill="#2b2b2b" text-anchor="middle">1</text>
<line x1="174.30" y1="366.00" x2="174.30" y2="369.40" stroke="#2a2a2a" stroke-width="1.0"/>
<text x="174.30" y="378.30" font-size="9.3" fill="#2b2b2b" text-anchor="middle">2</text>
<path d="M167.80,314.10 L170.80,314.10 L170.80,323.45 L167.80,323.45" fill="none" stroke="#333" stroke-width="1.25" stroke-linejoin="round"/>
<path d="M175.10,316.72 L175.66,318.01 L177.05,318.14 L176.00,319.07 L176.30,320.43 L175.10,319.72 L173.90,320.43 L174.20,319.07 L173.15,318.14 L174.54,318.01Z" fill="#2a2a2a"/>
<path d="M167.80,332.70 L170.80,332.70 L170.80,341.80 L167.80,341.80" fill="none" stroke="#333" stroke-width="1.25" stroke-linejoin="round"/>
<path d="M175.10,335.20 L175.66,336.48 L177.05,336.62 L176.00,337.54 L176.30,338.91 L175.10,338.20 L173.90,338.91 L174.20,337.54 L173.15,336.62 L174.54,336.48Z" fill="#2a2a2a"/>
<path d="M167.80,351.10 L170.80,351.10 L170.80,360.00 L167.80,360.00" fill="none" stroke="#333" stroke-width="1.25" stroke-linejoin="round"/>
<path d="M175.10,353.50 L175.66,354.78 L177.05,354.92 L176.00,355.84 L176.30,357.21 L175.10,356.50 L173.90,357.21 L174.20,355.84 L173.15,354.92 L174.54,354.78Z" fill="#2a2a2a"/>
<text x="201.40" y="293.00" font-size="9.9" fill="#2b2b2b" textLength="47.80" lengthAdjust="spacingAndGlyphs">Treg VDAC</text>
<line x1="210.10" y1="305.00" x2="233.90" y2="305.00" stroke="#1c1a1b" stroke-width="1.35"/>
<path d="M213.2,304.0 213.5,303.5 213.9,303.1 214.2,302.7 214.6,302.4 214.9,302.2 215.3,302.0 215.6,301.9 216.0,301.8 216.3,301.9 216.7,302.1 217.0,302.3 217.4,302.6 217.7,302.9 218.1,303.3 218.4,303.7 218.8,304.3 218.8,305.7 218.4,306.3 218.1,306.7 217.7,307.1 217.4,307.4 217.0,307.7 216.7,307.9 216.3,308.1 216.0,308.2 215.6,308.1 215.3,308.0 214.9,307.8 214.6,307.6 214.2,307.3 213.9,306.9 213.5,306.5 213.2,306.0Z" fill="#3cb44b"/>
<path d="M226.9,304.4 227.3,304.0 227.6,303.8 228.0,303.7 228.3,303.7 228.7,303.7 229.0,303.8 229.4,303.9 229.7,304.2 229.7,305.8 229.4,306.1 229.0,306.2 228.7,306.3 228.3,306.3 228.0,306.3 227.6,306.2 227.3,306.0 226.9,305.6Z" fill="#3cb44b"/>
<line x1="215.90" y1="302.10" x2="215.90" y2="307.90" stroke="#231f20" stroke-width="1.1"/>
<path d="M208.5,313.4 208.9,313.4 209.2,313.4 209.6,313.4 209.9,313.4 210.3,313.4 210.6,313.4 211.0,313.4 211.3,313.4 211.7,313.4 212.0,313.4 212.4,313.2 212.7,312.8 213.1,312.5 213.4,312.3 213.8,312.2 214.1,312.1 214.5,312.0 214.8,312.0 215.2,312.0 215.5,312.1 215.9,312.1 216.2,312.2 216.6,312.4 216.9,312.6 217.3,313.0 217.6,313.4 218.0,313.4 218.3,313.4 218.7,313.4 219.0,313.4 219.4,313.4 219.7,313.4 220.1,313.3 220.4,313.0 220.8,312.8 221.1,312.5 221.5,312.3 221.8,312.2 222.2,312.0 222.5,311.8 222.9,311.7 223.2,311.6 223.6,311.5 223.9,311.4 224.3,311.3 224.6,311.2 225.0,311.2 225.3,311.1 225.7,311.1 226.0,311.2 226.4,311.2 226.7,311.3 227.1,311.4 227.4,311.5 227.8,311.6 228.1,311.7 228.5,311.9 228.8,312.0 229.2,312.2 229.5,312.3 229.9,312.5 230.2,312.8 230.6,313.0 230.9,313.3 231.3,313.4 231.6,313.4 232.0,313.4 232.3,313.4 232.7,313.4 233.0,313.4 233.4,313.4 233.7,313.4 234.1,313.4 234.4,313.4 234.8,313.4 234.8,314.8 234.4,314.8 234.1,314.8 233.7,314.8 233.4,314.8 233.0,314.8 232.7,314.8 232.3,314.8 232.0,314.8 231.6,314.8 231.3,314.8 230.9,314.9 230.6,315.2 230.2,315.4 229.9,315.7 229.5,315.9 229.2,316.0 228.8,316.2 228.5,316.3 228.1,316.5 227.8,316.6 227.4,316.7 227.1,316.8 226.7,316.9 226.4,317.0 226.0,317.0 225.7,317.1 225.3,317.1 225.0,317.0 224.6,317.0 224.3,316.9 223.9,316.8 223.6,316.7 223.2,316.6 222.9,316.5 222.5,316.4 222.2,316.2 221.8,316.0 221.5,315.9 221.1,315.7 220.8,315.4 220.4,315.2 220.1,314.9 219.7,314.8 219.4,314.8 219.0,314.8 218.7,314.8 218.3,314.8 218.0,314.8 217.6,314.8 217.3,315.2 216.9,315.6 216.6,315.8 216.2,316.0 215.9,316.1 215.5,316.1 215.2,316.2 214.8,316.2 214.5,316.2 214.1,316.1 213.8,316.0 213.4,315.9 213.1,315.7 212.7,315.4 212.4,315.0 212.0,314.8 211.7,314.8 211.3,314.8 211.0,314.8 210.6,314.8 210.3,314.8 209.9,314.8 209.6,314.8 209.2,314.8 208.9,314.8 208.5,314.8Z" fill="#d21a30"/>
<line x1="225.50" y1="311.40" x2="225.50" y2="316.80" stroke="#231f20" stroke-width="1.1"/>
<line x1="209.70" y1="323.45" x2="222.70" y2="323.45" stroke="#1c1a1b" stroke-width="1.35"/>
<path d="M212.2,322.8 212.5,322.4 212.9,322.1 213.2,321.8 213.6,321.6 213.9,321.4 214.3,321.2 214.7,321.0 215.0,320.9 215.4,320.8 215.7,320.7 216.1,320.6 216.5,320.7 216.8,320.8 217.2,320.9 217.5,321.0 217.9,321.2 218.2,321.4 218.6,321.6 219.0,321.8 219.3,322.1 219.7,322.4 220.0,322.8 220.0,324.1 219.7,324.5 219.3,324.8 219.0,325.1 218.6,325.3 218.2,325.5 217.9,325.7 217.5,325.9 217.2,326.0 216.8,326.1 216.5,326.2 216.1,326.2 215.7,326.2 215.4,326.1 215.0,326.0 214.7,325.9 214.3,325.7 213.9,325.5 213.6,325.3 213.2,325.1 212.9,324.8 212.5,324.5 212.2,324.1Z" fill="#0f5799"/>
<line x1="216.10" y1="320.95" x2="216.10" y2="325.95" stroke="#231f20" stroke-width="1.1"/>
<path d="M209.1,331.9 209.5,331.9 209.8,331.9 210.2,331.9 210.5,331.9 210.9,331.9 211.2,331.9 211.6,331.9 211.9,331.9 212.3,331.9 212.6,331.9 213.0,331.8 213.4,331.2 213.7,330.8 214.1,330.4 214.4,330.1 214.8,329.8 215.1,329.6 215.5,329.4 215.8,329.3 216.2,329.3 216.5,329.5 216.9,329.6 217.3,329.9 217.6,330.1 218.0,330.4 218.3,330.8 218.7,331.3 219.0,331.9 219.4,331.9 219.7,331.9 220.1,331.9 220.4,331.9 220.8,331.9 221.2,331.9 221.5,331.9 221.9,331.9 222.2,331.9 222.6,331.9 222.9,331.9 223.3,331.9 223.6,331.9 224.0,331.9 224.3,331.9 224.7,331.9 225.1,331.9 225.4,331.9 225.8,331.9 226.1,331.9 226.5,331.9 226.8,331.9 227.2,331.9 227.5,331.9 227.9,331.9 228.2,331.9 228.6,331.9 229.0,331.9 229.3,331.9 229.7,331.9 230.0,331.9 230.4,331.9 230.7,331.9 231.1,331.9 231.4,331.9 231.8,331.9 232.1,331.9 232.5,331.9 232.5,333.4 232.1,333.4 231.8,333.4 231.4,333.4 231.1,333.4 230.7,333.4 230.4,333.4 230.0,333.4 229.7,333.4 229.3,333.4 229.0,333.4 228.6,333.4 228.2,333.4 227.9,333.4 227.5,333.4 227.2,333.4 226.8,333.4 226.5,333.4 226.1,333.4 225.8,333.4 225.4,333.4 225.1,333.4 224.7,333.4 224.3,333.4 224.0,333.4 223.6,333.4 223.3,333.4 222.9,333.4 222.6,333.4 222.2,333.4 221.9,333.4 221.5,333.4 221.2,333.4 220.8,333.4 220.4,333.4 220.1,333.4 219.7,333.4 219.4,333.4 219.0,333.5 218.7,334.1 218.3,334.6 218.0,335.0 217.6,335.3 217.3,335.5 216.9,335.8 216.5,335.9 216.2,336.1 215.8,336.1 215.5,336.0 215.1,335.8 214.8,335.6 214.4,335.3 214.1,335.0 213.7,334.6 213.4,334.2 213.0,333.6 212.6,333.4 212.3,333.4 211.9,333.4 211.6,333.4 211.2,333.4 210.9,333.4 210.5,333.4 210.2,333.4 209.8,333.4 209.5,333.4 209.1,333.4Z" fill="#d21a30"/>
<line x1="216.00" y1="329.60" x2="216.00" y2="335.80" stroke="#231f20" stroke-width="1.1"/>
<line x1="215.00" y1="341.80" x2="233.00" y2="341.80" stroke="#1c1a1b" stroke-width="1.35"/>
<path d="M217.9,340.7 218.2,340.1 218.6,339.6 218.9,339.2 219.3,338.9 219.7,338.6 220.0,338.4 220.4,338.2 220.7,338.1 221.1,338.2 221.4,338.3 221.8,338.5 222.2,338.8 222.5,339.1 222.9,339.5 223.2,339.9 223.6,340.4 223.9,341.2 223.9,342.4 223.6,343.2 223.2,343.7 222.9,344.1 222.5,344.5 222.2,344.8 221.8,345.1 221.4,345.3 221.1,345.4 220.7,345.5 220.4,345.4 220.0,345.2 219.7,345.0 219.3,344.7 218.9,344.4 218.6,344.0 218.2,343.5 217.9,342.9Z" fill="#0f5799"/>
<path d="M227.5,340.9 227.9,340.6 228.2,340.4 228.6,340.3 229.0,340.3 229.3,340.4 229.7,340.5 230.0,340.9 230.0,342.7 229.7,343.1 229.3,343.2 229.0,343.3 228.6,343.3 228.2,343.2 227.9,343.0 227.5,342.7Z" fill="#0f5799"/>
<line x1="220.80" y1="338.40" x2="220.80" y2="345.20" stroke="#231f20" stroke-width="1.1"/>
<path d="M209.8,350.4 210.2,350.4 210.5,350.4 210.9,350.4 211.2,350.4 211.6,350.4 211.9,350.4 212.3,350.3 212.6,350.2 213.0,350.2 213.3,350.2 213.7,350.3 214.0,350.4 214.4,350.4 214.7,350.4 215.1,350.4 215.5,350.4 215.8,350.4 216.2,350.4 216.5,350.4 216.9,350.4 217.2,349.8 217.6,349.3 217.9,348.9 218.3,348.6 218.6,348.3 219.0,348.1 219.3,347.9 219.7,347.7 220.0,347.7 220.4,347.8 220.8,348.0 221.1,348.2 221.5,348.5 221.8,348.9 222.2,349.2 222.5,349.7 222.9,350.3 223.2,350.4 223.6,350.4 223.9,350.4 224.3,350.4 224.6,350.4 225.0,350.4 225.3,350.4 225.7,350.4 225.7,351.8 225.3,351.8 225.0,351.8 224.6,351.8 224.3,351.8 223.9,351.8 223.6,351.8 223.2,351.8 222.9,351.9 222.5,352.5 222.2,353.0 221.8,353.3 221.5,353.7 221.1,354.0 220.8,354.2 220.4,354.4 220.0,354.5 219.7,354.5 219.3,354.3 219.0,354.1 218.6,353.9 218.3,353.6 217.9,353.3 217.6,352.9 217.2,352.4 216.9,351.8 216.5,351.8 216.2,351.8 215.8,351.8 215.5,351.8 215.1,351.8 214.7,351.8 214.4,351.8 214.0,351.8 213.7,351.9 213.3,352.0 213.0,352.0 212.6,352.0 212.3,351.9 211.9,351.8 211.6,351.8 211.2,351.8 210.9,351.8 210.5,351.8 210.2,351.8 209.8,351.8Z" fill="#d21a30"/>
<line x1="219.90" y1="348.00" x2="219.90" y2="354.20" stroke="#231f20" stroke-width="1.1"/>
<line x1="216.10" y1="360.00" x2="228.80" y2="360.00" stroke="#1c1a1b" stroke-width="1.35"/>
<path d="M220.0,359.1 220.4,358.6 220.8,358.2 221.1,357.9 221.4,357.6 221.8,357.4 222.1,357.2 222.5,357.0 222.8,356.9 223.2,356.8 223.5,356.9 223.9,357.0 224.2,357.2 224.6,357.4 224.9,357.6 225.3,357.9 225.6,358.2 226.0,358.6 226.3,359.1 226.3,360.9 226.0,361.4 225.6,361.8 225.3,362.1 224.9,362.4 224.6,362.6 224.2,362.8 223.9,363.0 223.5,363.1 223.2,363.2 222.8,363.1 222.5,363.0 222.1,362.8 221.8,362.6 221.4,362.4 221.1,362.1 220.8,361.8 220.4,361.4 220.0,360.9Z" fill="#0f5799"/>
<line x1="223.20" y1="357.10" x2="223.20" y2="362.90" stroke="#231f20" stroke-width="1.1"/>
<line x1="204.40" y1="298.50" x2="204.40" y2="366.60" stroke="#2a2a2a" stroke-width="1.3"/>
<line x1="203.80" y1="366.00" x2="244.60" y2="366.00" stroke="#2a2a2a" stroke-width="1.3"/>
<rect x="204.90" y="366.60" width="39.70" height="1.8" fill="#555" fill-opacity="0.55"/>
<line x1="212.30" y1="366.00" x2="212.30" y2="369.40" stroke="#2a2a2a" stroke-width="1.0"/>
<text x="212.30" y="378.30" font-size="9.3" fill="#2b2b2b" text-anchor="middle">0</text>
<line x1="228.50" y1="366.00" x2="228.50" y2="369.40" stroke="#2a2a2a" stroke-width="1.0"/>
<text x="228.50" y="378.30" font-size="9.3" fill="#2b2b2b" text-anchor="middle">1</text>
<line x1="244.70" y1="366.00" x2="244.70" y2="369.40" stroke="#2a2a2a" stroke-width="1.0"/>
<text x="244.70" y="378.30" font-size="9.3" fill="#2b2b2b" text-anchor="middle">2</text>
<path d="M237.60,314.10 L240.60,314.10 L240.60,323.45 L237.60,323.45" fill="none" stroke="#333" stroke-width="1.25" stroke-linejoin="round"/>
<path d="M244.90,316.72 L245.46,318.01 L246.85,318.14 L245.80,319.07 L246.10,320.43 L244.90,319.72 L243.70,320.43 L244.00,319.07 L242.95,318.14 L244.34,318.01Z" fill="#2a2a2a"/>
<path d="M237.60,332.70 L240.60,332.70 L240.60,341.80 L237.60,341.80" fill="none" stroke="#333" stroke-width="1.25" stroke-linejoin="round"/>
<path d="M244.90,335.20 L245.46,336.48 L246.85,336.62 L245.80,337.54 L246.10,338.91 L244.90,338.20 L243.70,338.91 L244.00,337.54 L242.95,336.62 L244.34,336.48Z" fill="#2a2a2a"/>
<path d="M237.60,351.10 L240.60,351.10 L240.60,360.00 L237.60,360.00" fill="none" stroke="#333" stroke-width="1.25" stroke-linejoin="round"/>
<path d="M244.90,353.50 L245.46,354.78 L246.85,354.92 L245.80,355.84 L246.10,357.21 L244.90,356.50 L243.70,357.21 L244.00,355.84 L242.95,354.92 L244.34,354.78Z" fill="#2a2a2a"/>
<text x="316.40" y="191.20" font-size="9.9" fill="#2b2b2b" textLength="54.90" lengthAdjust="spacingAndGlyphs">Tconv GLUT1</text>
<line x1="331.10" y1="202.50" x2="339.50" y2="202.50" stroke="#1c1a1b" stroke-width="1.35"/>
<path d="M332.3,200.3 332.7,199.6 333.0,199.3 333.4,199.3 333.7,199.6 334.1,200.3 334.1,204.7 333.7,205.4 333.4,205.7 333.0,205.7 332.7,205.4 332.3,204.7Z" fill="#3cb44b"/>
<ellipse cx="338.00" cy="202.50" rx="1.80" ry="1.20" fill="#231f20"/>
<path d="M332.3,210.8 332.7,210.8 333.0,210.8 333.4,210.8 333.7,210.8 334.1,210.8 334.4,210.8 334.8,210.8 335.1,210.8 335.5,210.8 335.8,210.7 336.2,210.3 336.5,210.0 336.9,209.8 337.2,209.7 337.6,209.7 337.9,209.7 338.3,209.9 338.6,210.1 339.0,210.4 339.3,210.8 339.7,210.8 340.0,210.8 340.4,210.8 340.7,210.8 341.1,210.8 341.4,210.2 341.8,209.7 342.1,209.3 342.5,208.9 342.8,208.7 343.2,208.4 343.5,208.3 343.9,208.2 344.2,208.3 344.6,208.5 344.9,208.8 345.3,209.1 345.6,209.5 346.0,209.9 346.3,210.5 346.7,210.8 347.0,210.8 347.4,210.8 347.7,210.8 348.1,210.8 348.4,210.8 348.8,210.8 349.1,210.8 349.5,210.8 349.8,210.8 350.2,210.8 350.5,210.8 350.9,210.8 351.2,210.8 351.6,210.8 351.9,210.8 352.3,210.8 352.6,210.8 353.0,210.8 353.3,210.8 353.7,210.8 353.7,212.3 353.3,212.3 353.0,212.3 352.6,212.3 352.3,212.3 351.9,212.3 351.6,212.3 351.2,212.3 350.9,212.3 350.5,212.3 350.2,212.3 349.8,212.3 349.5,212.3 349.1,212.3 348.8,212.3 348.4,212.3 348.1,212.3 347.7,212.3 347.4,212.3 347.0,212.3 346.7,212.3 346.3,212.7 346.0,213.3 345.6,213.7 345.3,214.1 344.9,214.4 344.6,214.7 344.2,214.9 343.9,215.0 343.5,214.9 343.2,214.8 342.8,214.5 342.5,214.3 342.1,213.9 341.8,213.5 341.4,213.0 341.1,212.3 340.7,212.3 340.4,212.3 340.0,212.3 339.7,212.3 339.3,212.3 339.0,212.8 338.6,213.1 338.3,213.3 337.9,213.5 337.6,213.5 337.2,213.5 336.9,213.4 336.5,213.2 336.2,212.9 335.8,212.5 335.5,212.3 335.1,212.3 334.8,212.3 334.4,212.3 334.1,212.3 333.7,212.3 333.4,212.3 333.0,212.3 332.7,212.3 332.3,212.3Z" fill="#d21a30"/>
<line x1="343.80" y1="208.50" x2="343.80" y2="214.70" stroke="#231f20" stroke-width="1.1"/>
<line x1="331.10" y1="220.95" x2="348.90" y2="220.95" stroke="#1c1a1b" stroke-width="1.35"/>
<path d="M333.8,220.0 334.1,219.7 334.5,219.5 334.8,219.5 335.2,219.5 335.5,219.5 335.9,219.7 336.3,220.0 336.3,221.9 335.9,222.2 335.5,222.4 335.2,222.4 334.8,222.4 334.5,222.4 334.1,222.2 333.8,221.9Z" fill="#0f5799"/>
<path d="M338.7,219.9 339.1,219.3 339.5,218.9 339.8,218.6 340.2,218.4 340.5,218.2 340.9,218.0 341.2,217.9 341.6,217.8 342.0,217.7 342.3,217.7 342.7,217.7 343.0,217.7 343.4,217.7 343.7,217.7 344.1,217.8 344.4,217.9 344.8,218.0 345.2,218.1 345.5,218.3 345.9,218.5 346.2,218.8 346.6,219.1 346.9,219.6 346.9,222.3 346.6,222.8 346.2,223.1 345.9,223.4 345.5,223.6 345.2,223.8 344.8,223.9 344.4,224.0 344.1,224.1 343.7,224.2 343.4,224.2 343.0,224.2 342.7,224.2 342.3,224.2 342.0,224.2 341.6,224.1 341.2,224.0 340.9,223.9 340.5,223.7 340.2,223.5 339.8,223.3 339.5,223.0 339.1,222.6 338.7,222.0Z" fill="#0f5799"/>
<line x1="342.90" y1="217.95" x2="342.90" y2="223.95" stroke="#231f20" stroke-width="1.1"/>
<path d="M332.3,229.4 332.7,229.4 333.0,229.4 333.4,229.4 333.7,229.4 334.1,229.4 334.4,229.4 334.8,229.4 335.1,229.4 335.5,229.4 335.9,229.4 336.2,229.4 336.6,229.4 336.9,229.4 337.3,229.4 337.6,229.4 338.0,229.4 338.3,229.4 338.7,228.9 339.1,228.4 339.4,228.0 339.8,227.7 340.1,227.5 340.5,227.2 340.8,227.1 341.2,226.9 341.5,226.9 341.9,227.0 342.3,227.2 342.6,227.4 343.0,227.7 343.3,228.0 343.7,228.3 344.0,228.8 344.4,229.3 344.8,229.4 345.1,229.4 345.5,229.4 345.8,229.4 346.2,229.4 346.5,229.4 346.9,229.4 347.2,229.4 347.6,229.3 348.0,228.9 348.3,228.7 348.7,228.6 349.0,228.5 349.4,228.5 349.7,228.6 350.1,228.8 350.4,229.1 350.8,229.4 351.2,229.4 351.5,229.4 351.9,229.4 352.2,229.4 352.6,229.4 352.9,229.4 353.3,229.4 353.6,229.4 354.0,229.4 354.0,230.9 353.6,230.9 353.3,230.9 352.9,230.9 352.6,230.9 352.2,230.9 351.9,230.9 351.5,230.9 351.2,230.9 350.8,230.9 350.4,231.3 350.1,231.6 349.7,231.8 349.4,231.9 349.0,231.9 348.7,231.8 348.3,231.7 348.0,231.5 347.6,231.1 347.2,230.9 346.9,230.9 346.5,230.9 346.2,230.9 345.8,230.9 345.5,230.9 345.1,230.9 344.8,230.9 344.4,231.1 344.0,231.6 343.7,232.1 343.3,232.4 343.0,232.7 342.6,233.0 342.3,233.2 341.9,233.4 341.5,233.5 341.2,233.5 340.8,233.3 340.5,233.2 340.1,232.9 339.8,232.7 339.4,232.4 339.1,232.0 338.7,231.5 338.3,231.0 338.0,230.9 337.6,230.9 337.3,230.9 336.9,230.9 336.6,230.9 336.2,230.9 335.9,230.9 335.5,230.9 335.1,230.9 334.8,230.9 334.4,230.9 334.1,230.9 333.7,230.9 333.4,230.9 333.0,230.9 332.7,230.9 332.3,230.9Z" fill="#d21a30"/>
<line x1="327.30" y1="239.30" x2="354.90" y2="239.30" stroke="#1c1a1b" stroke-width="1.35"/>
<path d="M330.8,238.6 331.1,238.2 331.5,237.9 331.8,237.6 332.2,237.4 332.5,237.1 332.9,236.9 333.2,236.8 333.6,236.6 333.9,236.4 334.3,236.3 334.6,236.2 335.0,236.1 335.3,236.0 335.7,235.9 336.0,235.9 336.4,235.9 336.7,236.0 337.1,236.1 337.4,236.2 337.8,236.3 338.1,236.5 338.5,236.6 338.8,236.8 339.2,237.0 339.5,237.2 339.9,237.4 340.2,237.6 340.6,237.9 340.9,238.2 341.3,238.6 341.3,240.0 340.9,240.4 340.6,240.7 340.2,241.0 339.9,241.2 339.5,241.4 339.2,241.6 338.8,241.8 338.5,242.0 338.1,242.1 337.8,242.3 337.4,242.4 337.1,242.5 336.7,242.6 336.4,242.7 336.0,242.7 335.7,242.7 335.3,242.6 335.0,242.5 334.6,242.4 334.3,242.3 333.9,242.2 333.6,242.0 333.2,241.8 332.9,241.7 332.5,241.5 332.2,241.2 331.8,241.0 331.5,240.7 331.1,240.4 330.8,240.0Z" fill="#0f5799"/>
<path d="M345.1,239.0 345.5,238.5 345.8,238.3 346.2,238.1 346.5,238.0 346.9,237.9 347.2,237.9 347.6,237.9 347.9,237.9 348.3,238.0 348.6,238.1 349.0,238.3 349.3,238.6 349.3,240.0 349.0,240.3 348.6,240.5 348.3,240.6 347.9,240.7 347.6,240.7 347.2,240.7 346.9,240.7 346.5,240.6 346.2,240.5 345.8,240.3 345.5,240.1 345.1,239.6Z" fill="#0f5799"/>
<line x1="336.00" y1="236.20" x2="336.00" y2="242.40" stroke="#231f20" stroke-width="1.1"/>
<path d="M338.4,246.4 338.8,245.7 339.1,245.3 339.5,245.2 339.9,245.3 340.2,245.7 340.6,246.4 340.6,250.8 340.2,251.5 339.9,251.9 339.5,252.0 339.1,251.9 338.8,251.5 338.4,250.8Z" fill="#d21a30"/>
<line x1="333.90" y1="257.50" x2="349.80" y2="257.50" stroke="#1c1a1b" stroke-width="1.35"/>
<path d="M336.9,256.4 337.2,255.8 337.6,255.4 337.9,255.0 338.3,254.7 338.6,254.4 339.0,254.2 339.3,254.0 339.7,254.0 340.0,254.2 340.4,254.4 340.7,254.6 341.1,255.0 341.4,255.3 341.8,255.8 342.1,256.4 342.5,257.3 342.8,257.2 343.2,256.5 343.5,256.2 343.9,256.0 344.2,255.8 344.6,255.7 344.9,255.7 345.3,255.7 345.6,255.8 346.0,255.8 346.3,256.0 346.7,256.2 347.0,256.5 347.0,258.5 346.7,258.8 346.3,259.0 346.0,259.2 345.6,259.2 345.3,259.3 344.9,259.3 344.6,259.3 344.2,259.2 343.9,259.0 343.5,258.8 343.2,258.5 342.8,257.8 342.5,257.7 342.1,258.6 341.8,259.2 341.4,259.7 341.1,260.0 340.7,260.4 340.4,260.6 340.0,260.8 339.7,261.0 339.3,261.0 339.0,260.8 338.6,260.6 338.3,260.3 337.9,260.0 337.6,259.6 337.2,259.2 336.9,258.6Z" fill="#0f5799"/>
<line x1="339.50" y1="254.30" x2="339.50" y2="260.70" stroke="#231f20" stroke-width="1.1"/>
<line x1="324.70" y1="196.00" x2="324.70" y2="264.10" stroke="#2a2a2a" stroke-width="1.3"/>
<line x1="324.10" y1="263.50" x2="365.00" y2="263.50" stroke="#2a2a2a" stroke-width="1.3"/>
<rect x="325.20" y="264.10" width="39.80" height="1.8" fill="#555" fill-opacity="0.55"/>
<line x1="332.60" y1="263.50" x2="332.60" y2="266.90" stroke="#2a2a2a" stroke-width="1.0"/>
<text x="332.60" y="275.80" font-size="9.3" fill="#2b2b2b" text-anchor="middle">0</text>
<line x1="348.90" y1="263.50" x2="348.90" y2="266.90" stroke="#2a2a2a" stroke-width="1.0"/>
<text x="348.90" y="275.80" font-size="9.3" fill="#2b2b2b" text-anchor="middle">1</text>
<line x1="365.20" y1="263.50" x2="365.20" y2="266.90" stroke="#2a2a2a" stroke-width="1.0"/>
<text x="365.20" y="275.80" font-size="9.3" fill="#2b2b2b" text-anchor="middle">2</text>
<text x="390.60" y="191.20" font-size="9.9" fill="#2b2b2b" textLength="49.70" lengthAdjust="spacingAndGlyphs">CD8 GLUT1</text>
<line x1="401.20" y1="202.50" x2="409.80" y2="202.50" stroke="#1c1a1b" stroke-width="1.35"/>
<path d="M402.9,200.0 403.2,199.4 403.6,199.2 404.0,199.4 404.3,200.0 404.3,205.0 404.0,205.6 403.6,205.8 403.2,205.6 402.9,205.0Z" fill="#3cb44b"/>
<ellipse cx="408.30" cy="202.50" rx="1.60" ry="1.20" fill="#231f20"/>
<path d="M407.1,210.8 407.5,210.8 407.8,210.8 408.2,210.8 408.5,210.8 408.9,210.8 409.2,210.5 409.6,210.3 409.9,210.2 410.3,210.2 410.6,210.3 411.0,210.4 411.3,210.6 411.7,210.8 412.0,210.8 412.4,210.8 412.8,210.8 413.1,210.8 413.5,210.4 413.8,209.9 414.2,209.4 414.5,209.1 414.9,208.8 415.2,208.5 415.6,208.4 415.9,208.2 416.3,208.2 416.6,208.4 417.0,208.6 417.3,208.8 417.7,209.1 418.1,209.5 418.4,209.9 418.8,210.4 419.1,210.8 419.5,210.8 419.8,210.8 420.2,210.8 420.5,210.8 420.9,210.8 421.2,210.8 421.6,210.8 421.9,210.8 422.3,210.8 422.6,210.8 423.0,210.8 423.0,212.3 422.6,212.3 422.3,212.3 421.9,212.3 421.6,212.3 421.2,212.3 420.9,212.3 420.5,212.3 420.2,212.3 419.8,212.3 419.5,212.3 419.1,212.3 418.8,212.8 418.4,213.3 418.1,213.7 417.7,214.1 417.3,214.4 417.0,214.6 416.6,214.8 416.3,215.0 415.9,215.0 415.6,214.8 415.2,214.7 414.9,214.4 414.5,214.1 414.2,213.8 413.8,213.3 413.5,212.8 413.1,212.3 412.8,212.3 412.4,212.3 412.0,212.3 411.7,212.3 411.3,212.6 411.0,212.8 410.6,212.9 410.3,213.0 409.9,213.0 409.6,212.9 409.2,212.7 408.9,212.4 408.5,212.3 408.2,212.3 407.8,212.3 407.5,212.3 407.1,212.3Z" fill="#d21a30"/>
<line x1="416.10" y1="208.50" x2="416.10" y2="214.70" stroke="#231f20" stroke-width="1.1"/>
<line x1="405.70" y1="220.95" x2="420.60" y2="220.95" stroke="#1c1a1b" stroke-width="1.35"/>
<path d="M407.6,220.2 407.9,219.7 408.2,219.4 408.6,219.1 408.9,218.8 409.3,218.6 409.6,218.5 410.0,218.4 410.4,218.4 410.7,218.5 411.1,218.6 411.4,218.8 411.8,219.0 412.1,219.2 412.4,218.9 412.8,218.6 413.1,218.4 413.5,218.2 413.9,218.1 414.2,218.1 414.6,218.2 414.9,218.3 415.2,218.5 415.6,218.8 415.9,219.1 416.3,219.4 416.7,219.9 417.0,220.0 417.4,219.8 417.7,219.8 418.1,220.0 418.4,220.4 418.8,220.6 419.1,220.8 419.1,221.1 418.8,221.3 418.4,221.5 418.1,221.9 417.7,222.1 417.4,222.1 417.0,221.9 416.7,222.0 416.3,222.5 415.9,222.8 415.6,223.1 415.2,223.4 414.9,223.6 414.6,223.7 414.2,223.8 413.9,223.8 413.5,223.7 413.1,223.5 412.8,223.3 412.4,223.0 412.1,222.7 411.8,222.9 411.4,223.1 411.1,223.3 410.7,223.4 410.4,223.5 410.0,223.5 409.6,223.4 409.3,223.3 408.9,223.1 408.6,222.8 408.2,222.5 407.9,222.2 407.6,221.7Z" fill="#0f5799"/>
<line x1="414.10" y1="218.35" x2="414.10" y2="223.55" stroke="#231f20" stroke-width="1.1"/>
<path d="M406.3,229.4 406.7,229.4 407.0,229.4 407.4,229.4 407.7,229.4 408.1,229.4 408.4,229.4 408.8,229.4 409.1,228.8 409.5,228.3 409.8,227.9 410.2,227.6 410.5,227.3 410.9,227.1 411.3,226.9 411.6,226.9 412.0,227.1 412.3,227.3 412.7,227.6 413.0,228.0 413.4,228.4 413.7,228.9 414.1,229.4 414.4,229.4 414.8,229.4 415.1,229.4 415.5,228.8 415.9,228.4 416.2,228.1 416.6,227.9 416.9,228.0 417.3,228.2 417.6,228.5 418.0,228.9 418.3,229.4 418.7,229.4 419.0,229.4 419.4,229.4 419.7,229.4 420.1,229.4 420.1,230.9 419.7,230.9 419.4,230.9 419.0,230.9 418.7,230.9 418.3,230.9 418.0,231.5 417.6,231.9 417.3,232.2 416.9,232.4 416.6,232.5 416.2,232.3 415.9,232.0 415.5,231.6 415.1,231.0 414.8,230.9 414.4,230.9 414.1,230.9 413.7,231.5 413.4,232.0 413.0,232.4 412.7,232.8 412.3,233.1 412.0,233.3 411.6,233.5 411.3,233.5 410.9,233.3 410.5,233.1 410.2,232.8 409.8,232.5 409.5,232.1 409.1,231.6 408.8,230.9 408.4,230.9 408.1,230.9 407.7,230.9 407.4,230.9 407.0,230.9 406.7,230.9 406.3,230.9Z" fill="#d21a30"/>
<line x1="411.40" y1="227.20" x2="411.40" y2="233.20" stroke="#231f20" stroke-width="1.1"/>
<line x1="402.10" y1="239.30" x2="419.40" y2="239.30" stroke="#1c1a1b" stroke-width="1.35"/>
<path d="M404.9,238.6 405.2,238.2 405.6,237.8 405.9,237.6 406.3,237.3 406.6,237.2 407.0,237.0 407.3,236.8 407.7,236.7 408.0,236.7 408.4,236.8 408.7,236.9 409.1,237.0 409.4,237.2 409.8,237.4 410.1,237.6 410.5,237.9 410.9,238.2 411.2,238.7 411.2,239.9 410.9,240.4 410.5,240.7 410.1,241.0 409.8,241.2 409.4,241.4 409.1,241.6 408.7,241.7 408.4,241.8 408.0,241.9 407.7,241.9 407.3,241.8 407.0,241.6 406.6,241.4 406.3,241.3 405.9,241.0 405.6,240.8 405.2,240.4 404.9,240.0Z" fill="#0f5799"/>
<path d="M413.0,238.9 413.3,238.3 413.7,238.1 414.0,237.9 414.4,237.8 414.7,237.8 415.1,237.8 415.4,237.9 415.8,238.1 416.1,238.4 416.1,240.2 415.8,240.5 415.4,240.7 415.1,240.8 414.7,240.8 414.4,240.8 414.0,240.7 413.7,240.5 413.3,240.3 413.0,239.7Z" fill="#0f5799"/>
<line x1="408.00" y1="237.00" x2="408.00" y2="241.60" stroke="#231f20" stroke-width="1.1"/>
<path d="M406.1,247.8 406.5,247.8 406.8,247.8 407.2,247.8 407.5,247.8 407.9,246.8 408.2,246.1 408.6,245.8 409.0,245.7 409.3,245.9 409.7,246.3 410.0,247.2 410.4,247.8 410.8,247.8 411.1,247.8 411.5,247.6 411.8,247.6 412.2,247.6 412.6,247.7 412.9,247.8 413.3,247.8 413.6,247.8 414.0,247.8 414.3,247.8 414.7,247.8 414.7,249.3 414.3,249.3 414.0,249.3 413.6,249.3 413.3,249.3 412.9,249.3 412.6,249.5 412.2,249.6 411.8,249.6 411.5,249.6 411.1,249.4 410.8,249.3 410.4,249.3 410.0,250.0 409.7,250.9 409.3,251.3 409.0,251.5 408.6,251.4 408.2,251.1 407.9,250.4 407.5,249.3 407.2,249.3 406.8,249.3 406.5,249.3 406.1,249.3Z" fill="#d21a30"/>
<line x1="408.90" y1="246.00" x2="408.90" y2="251.20" stroke="#231f20" stroke-width="1.1"/>
<line x1="404.90" y1="257.50" x2="415.80" y2="257.50" stroke="#1c1a1b" stroke-width="1.35"/>
<path d="M406.9,256.6 407.2,256.3 407.6,256.1 407.9,256.0 408.3,256.0 408.6,256.1 409.0,256.2 409.3,256.5 409.7,257.3 410.0,256.8 410.4,255.9 410.8,255.2 411.1,254.7 411.5,254.4 411.8,254.1 412.2,254.0 412.5,254.2 412.9,254.5 413.2,254.9 413.6,255.5 413.9,256.2 413.9,258.8 413.6,259.5 413.2,260.1 412.9,260.5 412.5,260.8 412.2,261.0 411.8,260.9 411.5,260.6 411.1,260.3 410.8,259.8 410.4,259.1 410.0,258.2 409.7,257.7 409.3,258.5 409.0,258.8 408.6,258.9 408.3,259.0 407.9,259.0 407.6,258.9 407.2,258.7 406.9,258.4Z" fill="#0f5799"/>
<line x1="412.10" y1="254.30" x2="412.10" y2="260.70" stroke="#231f20" stroke-width="1.1"/>
<line x1="395.50" y1="196.00" x2="395.50" y2="264.10" stroke="#2a2a2a" stroke-width="1.3"/>
<line x1="394.90" y1="263.50" x2="436.00" y2="263.50" stroke="#2a2a2a" stroke-width="1.3"/>
<rect x="396.00" y="264.10" width="40.00" height="1.8" fill="#555" fill-opacity="0.55"/>
<line x1="403.50" y1="263.50" x2="403.50" y2="266.90" stroke="#2a2a2a" stroke-width="1.0"/>
<text x="403.50" y="275.80" font-size="9.3" fill="#2b2b2b" text-anchor="middle">0</text>
<line x1="419.70" y1="263.50" x2="419.70" y2="266.90" stroke="#2a2a2a" stroke-width="1.0"/>
<text x="419.70" y="275.80" font-size="9.3" fill="#2b2b2b" text-anchor="middle">1</text>
<line x1="435.90" y1="263.50" x2="435.90" y2="266.90" stroke="#2a2a2a" stroke-width="1.0"/>
<text x="435.90" y="275.80" font-size="9.3" fill="#2b2b2b" text-anchor="middle">2</text>
<path d="M425.10,211.60 L428.10,211.60 L428.10,220.95 L425.10,220.95" fill="none" stroke="#333" stroke-width="1.25" stroke-linejoin="round"/>
<path d="M432.40,214.22 L432.96,215.51 L434.35,215.64 L433.30,216.57 L433.60,217.93 L432.40,217.22 L431.20,217.93 L431.50,216.57 L430.45,215.64 L431.84,215.51Z" fill="#2a2a2a"/>
<path d="M425.10,230.20 L428.10,230.20 L428.10,239.30 L425.10,239.30" fill="none" stroke="#333" stroke-width="1.25" stroke-linejoin="round"/>
<path d="M432.40,232.70 L432.96,233.98 L434.35,234.12 L433.30,235.04 L433.60,236.41 L432.40,235.70 L431.20,236.41 L431.50,235.04 L430.45,234.12 L431.84,233.98Z" fill="#2a2a2a"/>
<text x="461.50" y="191.20" font-size="9.9" fill="#2b2b2b" textLength="49.80" lengthAdjust="spacingAndGlyphs">Treg GLUT1</text>
<line x1="471.90" y1="202.50" x2="480.50" y2="202.50" stroke="#1c1a1b" stroke-width="1.35"/>
<path d="M473.6,200.0 473.9,199.4 474.3,199.2 474.7,199.4 475.0,200.0 475.0,205.0 474.7,205.6 474.3,205.8 473.9,205.6 473.6,205.0Z" fill="#3cb44b"/>
<ellipse cx="479.00" cy="202.50" rx="1.60" ry="1.20" fill="#231f20"/>
<path d="M476.0,210.8 476.4,210.8 476.7,210.8 477.1,210.8 477.4,210.8 477.8,210.8 478.1,210.8 478.5,210.8 478.8,210.8 479.2,210.8 479.5,210.8 479.9,210.5 480.2,210.0 480.6,209.5 480.9,209.2 481.3,208.9 481.6,208.6 482.0,208.4 482.4,208.3 482.7,208.2 483.1,208.3 483.4,208.5 483.8,208.7 484.1,209.0 484.5,209.4 484.8,209.8 485.2,210.3 485.5,210.8 485.9,210.6 486.2,210.4 486.6,210.2 486.9,210.1 487.3,210.1 487.6,210.1 488.0,210.1 488.3,210.1 488.7,210.1 489.1,210.1 489.4,210.1 489.8,210.1 490.1,209.9 490.5,209.8 490.8,209.8 491.2,209.9 491.5,210.2 491.9,210.7 492.2,210.8 492.6,210.8 492.9,210.8 493.3,210.8 493.6,210.8 494.0,210.8 494.3,210.8 494.7,210.8 494.7,212.3 494.3,212.3 494.0,212.3 493.6,212.3 493.3,212.3 492.9,212.3 492.6,212.3 492.2,212.3 491.9,212.5 491.5,213.0 491.2,213.3 490.8,213.4 490.5,213.4 490.1,213.3 489.8,213.1 489.4,213.1 489.1,213.1 488.7,213.1 488.3,213.1 488.0,213.1 487.6,213.1 487.3,213.1 486.9,213.1 486.6,213.0 486.2,212.8 485.9,212.6 485.5,212.3 485.2,212.9 484.8,213.4 484.5,213.8 484.1,214.2 483.8,214.5 483.4,214.7 483.1,214.9 482.7,215.0 482.4,214.9 482.0,214.8 481.6,214.6 481.3,214.3 480.9,214.0 480.6,213.7 480.2,213.2 479.9,212.7 479.5,212.3 479.2,212.3 478.8,212.3 478.5,212.3 478.1,212.3 477.8,212.3 477.4,212.3 477.1,212.3 476.7,212.3 476.4,212.3 476.0,212.3Z" fill="#d21a30"/>
<line x1="482.90" y1="208.57" x2="482.90" y2="214.63" stroke="#231f20" stroke-width="1.1"/>
<line x1="472.90" y1="220.95" x2="492.70" y2="220.95" stroke="#1c1a1b" stroke-width="1.35"/>
<path d="M475.9,220.2 476.2,219.9 476.6,219.7 476.9,219.6 477.3,219.5 477.6,219.4 478.0,219.4 478.3,219.4 478.7,219.4 479.1,219.4 479.4,219.4 479.8,219.5 480.1,219.6 480.5,219.7 480.8,219.9 481.2,219.5 481.5,219.2 481.9,218.9 482.3,218.6 482.6,218.4 483.0,218.3 483.3,218.1 483.7,218.1 484.0,218.1 484.4,218.2 484.7,218.4 485.1,218.6 485.5,218.9 485.8,219.2 486.2,219.3 486.5,219.0 486.9,218.8 487.2,218.6 487.6,218.5 487.9,218.4 488.3,218.4 488.7,218.4 489.0,218.6 489.4,218.7 489.7,218.9 490.1,219.2 490.4,219.4 490.8,219.8 491.1,220.2 491.1,221.7 490.8,222.1 490.4,222.5 490.1,222.7 489.7,223.0 489.4,223.2 489.0,223.3 488.7,223.5 488.3,223.5 487.9,223.5 487.6,223.4 487.2,223.3 486.9,223.1 486.5,222.9 486.2,222.6 485.8,222.7 485.5,223.0 485.1,223.3 484.7,223.5 484.4,223.7 484.0,223.8 483.7,223.8 483.3,223.8 483.0,223.6 482.6,223.5 482.3,223.3 481.9,223.0 481.5,222.7 481.2,222.4 480.8,222.0 480.5,222.2 480.1,222.3 479.8,222.4 479.4,222.5 479.1,222.5 478.7,222.5 478.3,222.5 478.0,222.5 477.6,222.5 477.3,222.4 476.9,222.3 476.6,222.2 476.2,222.0 475.9,221.7Z" fill="#0f5799"/>
<line x1="484.00" y1="218.40" x2="484.00" y2="223.50" stroke="#231f20" stroke-width="1.1"/>
<path d="M476.7,229.2 477.1,229.2 477.4,229.2 477.8,229.2 478.1,229.2 478.5,229.2 478.8,228.8 479.2,228.3 479.5,227.9 479.9,227.5 480.3,227.3 480.6,227.1 481.0,226.9 481.3,227.0 481.7,227.1 482.0,227.3 482.4,227.6 482.8,228.0 483.1,228.4 483.5,229.0 483.8,229.2 484.2,229.0 484.5,228.5 484.9,228.2 485.2,228.0 485.6,227.9 486.0,228.0 486.3,228.2 486.7,228.5 487.0,229.0 487.4,229.2 487.7,229.2 488.1,229.2 488.4,229.2 488.8,229.2 489.2,229.2 489.5,229.2 489.9,229.2 490.2,229.2 490.6,229.2 490.9,229.2 491.3,229.2 491.7,229.2 492.0,229.2 492.4,229.2 492.7,229.2 493.1,229.2 493.4,229.2 493.8,229.2 494.1,229.2 494.5,229.2 494.5,231.1 494.1,231.1 493.8,231.1 493.4,231.1 493.1,231.1 492.7,231.1 492.4,231.1 492.0,231.1 491.7,231.1 491.3,231.1 490.9,231.1 490.6,231.1 490.2,231.1 489.9,231.1 489.5,231.1 489.2,231.1 488.8,231.1 488.4,231.1 488.1,231.1 487.7,231.1 487.4,231.1 487.0,231.4 486.7,231.9 486.3,232.2 486.0,232.4 485.6,232.5 485.2,232.4 484.9,232.2 484.5,231.9 484.2,231.4 483.8,231.1 483.5,231.4 483.1,232.0 482.8,232.4 482.4,232.8 482.0,233.1 481.7,233.3 481.3,233.4 481.0,233.5 480.6,233.3 480.3,233.1 479.9,232.9 479.5,232.5 479.2,232.1 478.8,231.6 478.5,231.1 478.1,231.1 477.8,231.1 477.4,231.1 477.1,231.1 476.7,231.1Z" fill="#d21a30"/>
<line x1="481.10" y1="227.20" x2="481.10" y2="233.20" stroke="#231f20" stroke-width="1.1"/>
<line x1="472.70" y1="239.30" x2="485.60" y2="239.30" stroke="#1c1a1b" stroke-width="1.35"/>
<path d="M474.8,238.3 475.1,237.7 475.5,237.3 475.8,236.9 476.2,236.6 476.5,236.3 476.9,236.1 477.3,236.0 477.6,236.0 478.0,236.2 478.3,236.4 478.7,236.7 479.0,237.0 479.4,237.4 479.8,237.8 480.1,237.6 480.5,237.5 480.8,237.4 481.2,237.3 481.6,237.3 481.9,237.4 482.3,237.4 482.6,237.6 483.0,237.9 483.3,238.2 483.3,240.4 483.0,240.7 482.6,241.0 482.3,241.2 481.9,241.2 481.6,241.3 481.2,241.3 480.8,241.2 480.5,241.1 480.1,241.0 479.8,240.8 479.4,241.2 479.0,241.6 478.7,241.9 478.3,242.2 478.0,242.4 477.6,242.6 477.3,242.6 476.9,242.5 476.5,242.3 476.2,242.0 475.8,241.7 475.5,241.3 475.1,240.9 474.8,240.3Z" fill="#0f5799"/>
<line x1="477.40" y1="236.30" x2="477.40" y2="242.30" stroke="#231f20" stroke-width="1.1"/>
<path d="M472.1,247.8 472.5,247.8 472.8,247.8 473.2,247.8 473.5,247.8 473.9,247.8 474.2,247.5 474.6,247.2 475.0,247.0 475.3,246.8 475.7,246.7 476.0,246.6 476.4,246.6 476.8,246.5 477.1,246.5 477.5,246.5 477.8,246.5 478.2,246.6 478.5,246.7 478.9,246.8 479.3,246.9 479.6,247.1 480.0,247.3 480.3,247.7 480.7,247.3 481.1,246.7 481.4,246.2 481.8,245.8 482.1,245.5 482.5,245.3 482.8,245.2 483.2,245.3 483.6,245.6 483.9,245.9 484.3,246.3 484.6,246.8 485.0,247.5 485.4,247.8 485.7,247.8 486.1,247.8 486.4,247.8 486.8,247.8 487.1,247.8 487.5,247.8 487.5,249.3 487.1,249.3 486.8,249.3 486.4,249.3 486.1,249.3 485.7,249.3 485.4,249.3 485.0,249.7 484.6,250.4 484.3,250.9 483.9,251.3 483.6,251.6 483.2,251.9 482.8,252.0 482.5,251.9 482.1,251.7 481.8,251.4 481.4,251.0 481.1,250.5 480.7,249.9 480.3,249.5 480.0,249.9 479.6,250.1 479.3,250.3 478.9,250.4 478.5,250.5 478.2,250.6 477.8,250.7 477.5,250.7 477.1,250.7 476.8,250.7 476.4,250.6 476.0,250.6 475.7,250.5 475.3,250.4 475.0,250.2 474.6,250.0 474.2,249.7 473.9,249.3 473.5,249.3 473.2,249.3 472.8,249.3 472.5,249.3 472.1,249.3Z" fill="#d21a30"/>
<line x1="480.80" y1="247.30" x2="480.80" y2="249.90" stroke="#231f20" stroke-width="1.1"/>
<line x1="474.20" y1="257.50" x2="487.00" y2="257.50" stroke="#1c1a1b" stroke-width="1.35"/>
<path d="M476.9,256.5 477.2,255.9 477.6,255.5 477.9,255.2 478.3,254.9 478.6,254.6 479.0,254.5 479.3,254.4 479.7,254.5 480.1,254.7 480.4,254.9 480.8,255.2 481.1,255.6 481.5,256.1 481.8,256.4 482.2,255.9 482.5,255.7 482.9,255.5 483.3,255.4 483.6,255.3 484.0,255.3 484.3,255.4 484.7,255.5 485.0,255.6 485.4,255.9 485.7,256.3 485.7,258.7 485.4,259.1 485.0,259.4 484.7,259.5 484.3,259.6 484.0,259.7 483.6,259.7 483.3,259.6 482.9,259.5 482.5,259.3 482.2,259.1 481.8,258.6 481.5,258.9 481.1,259.4 480.8,259.8 480.4,260.1 480.1,260.3 479.7,260.5 479.3,260.6 479.0,260.5 478.6,260.4 478.3,260.1 477.9,259.8 477.6,259.5 477.2,259.1 476.9,258.5Z" fill="#0f5799"/>
<line x1="479.30" y1="254.70" x2="479.30" y2="260.30" stroke="#231f20" stroke-width="1.1"/>
<line x1="466.10" y1="196.00" x2="466.10" y2="264.10" stroke="#2a2a2a" stroke-width="1.3"/>
<line x1="465.50" y1="263.50" x2="506.60" y2="263.50" stroke="#2a2a2a" stroke-width="1.3"/>
<rect x="466.60" y="264.10" width="40.00" height="1.8" fill="#555" fill-opacity="0.55"/>
<line x1="474.20" y1="263.50" x2="474.20" y2="266.90" stroke="#2a2a2a" stroke-width="1.0"/>
<text x="474.20" y="275.80" font-size="9.3" fill="#2b2b2b" text-anchor="middle">0</text>
<line x1="490.30" y1="263.50" x2="490.30" y2="266.90" stroke="#2a2a2a" stroke-width="1.0"/>
<text x="490.30" y="275.80" font-size="9.3" fill="#2b2b2b" text-anchor="middle">1</text>
<line x1="506.40" y1="263.50" x2="506.40" y2="266.90" stroke="#2a2a2a" stroke-width="1.0"/>
<text x="506.40" y="275.80" font-size="9.3" fill="#2b2b2b" text-anchor="middle">2</text>
<path d="M497.80,211.60 L500.80,211.60 L500.80,220.95 L497.80,220.95" fill="none" stroke="#333" stroke-width="1.25" stroke-linejoin="round"/>
<path d="M505.10,214.22 L505.66,215.51 L507.05,215.64 L506.00,216.57 L506.30,217.93 L505.10,217.22 L503.90,217.93 L504.20,216.57 L503.15,215.64 L504.54,215.51Z" fill="#2a2a2a"/>
<text x="322.00" y="293.00" font-size="9.9" fill="#2b2b2b" textLength="44.60" lengthAdjust="spacingAndGlyphs">Tconv HK2</text>
<line x1="327.90" y1="305.00" x2="349.80" y2="305.00" stroke="#1c1a1b" stroke-width="1.35"/>
<path d="M331.4,304.9 331.7,304.8 332.1,304.7 332.4,304.5 332.8,304.4 333.1,304.2 333.5,303.9 333.8,303.6 334.2,303.4 334.5,303.2 334.9,303.1 335.3,302.9 335.6,302.8 336.0,302.6 336.3,302.5 336.7,302.4 337.0,302.3 337.4,302.2 337.7,302.1 338.1,302.1 338.4,302.1 338.8,302.1 339.1,302.1 339.5,302.2 339.9,302.3 340.2,302.4 340.6,302.5 340.9,302.6 341.3,302.7 341.6,302.8 342.0,303.0 342.3,303.2 342.7,303.4 343.0,303.5 343.4,303.5 343.8,303.5 344.1,303.5 344.5,303.5 344.8,303.5 345.2,303.5 345.5,303.5 345.9,303.6 346.2,303.7 346.6,303.9 346.9,304.1 347.3,304.4 347.3,305.6 346.9,305.9 346.6,306.1 346.2,306.3 345.9,306.4 345.5,306.5 345.2,306.5 344.8,306.5 344.5,306.5 344.1,306.5 343.8,306.5 343.4,306.5 343.0,306.5 342.7,306.6 342.3,306.8 342.0,307.0 341.6,307.2 341.3,307.3 340.9,307.4 340.6,307.5 340.2,307.6 339.9,307.7 339.5,307.8 339.1,307.9 338.8,307.9 338.4,307.9 338.1,307.9 337.7,307.9 337.4,307.8 337.0,307.7 336.7,307.6 336.3,307.5 336.0,307.4 335.6,307.2 335.3,307.1 334.9,306.9 334.5,306.8 334.2,306.6 333.8,306.4 333.5,306.1 333.1,305.8 332.8,305.6 332.4,305.5 332.1,305.3 331.7,305.2 331.4,305.1Z" fill="#3cb44b"/>
<line x1="338.50" y1="302.35" x2="338.50" y2="307.65" stroke="#231f20" stroke-width="1.1"/>
<path d="M337.1,313.3 337.5,313.3 337.8,313.3 338.2,313.3 338.5,313.3 338.9,313.3 339.2,313.3 339.6,313.3 339.9,313.3 340.3,313.3 340.6,312.8 341.0,312.3 341.4,312.0 341.7,311.7 342.1,311.4 342.4,311.3 342.8,311.4 343.1,311.6 343.5,311.8 343.8,312.1 344.2,312.6 344.5,313.1 344.9,313.3 345.2,313.3 345.6,313.3 346.0,313.3 346.3,313.2 346.7,312.6 347.0,312.2 347.4,311.8 347.7,311.5 348.1,311.3 348.4,311.2 348.8,311.3 349.1,311.5 349.5,311.7 349.9,312.0 350.2,312.4 350.6,313.0 350.9,313.3 351.3,313.3 351.6,313.3 352.0,313.3 352.3,313.3 352.7,313.3 353.0,313.3 353.4,313.3 353.4,314.9 353.0,314.9 352.7,314.9 352.3,314.9 352.0,314.9 351.6,314.9 351.3,314.9 350.9,314.9 350.6,315.2 350.2,315.8 349.9,316.2 349.5,316.5 349.1,316.7 348.8,316.9 348.4,317.0 348.1,316.9 347.7,316.7 347.4,316.4 347.0,316.0 346.7,315.6 346.3,315.0 346.0,314.9 345.6,314.9 345.2,314.9 344.9,314.9 344.5,315.1 344.2,315.6 343.8,316.1 343.5,316.4 343.1,316.6 342.8,316.8 342.4,316.9 342.1,316.8 341.7,316.5 341.4,316.2 341.0,315.9 340.6,315.4 340.3,314.9 339.9,314.9 339.6,314.9 339.2,314.9 338.9,314.9 338.5,314.9 338.2,314.9 337.8,314.9 337.5,314.9 337.1,314.9Z" fill="#d21a30"/>
<line x1="326.50" y1="323.45" x2="355.80" y2="323.45" stroke="#1c1a1b" stroke-width="1.35"/>
<path d="M330.0,322.8 330.4,322.5 330.7,322.3 331.1,322.1 331.4,321.9 331.8,321.8 332.1,321.7 332.5,321.7 332.8,321.7 333.2,321.7 333.5,321.7 333.9,321.7 334.2,321.7 334.6,321.7 334.9,321.7 335.3,321.7 335.6,321.7 336.0,321.7 336.3,321.7 336.7,321.7 337.0,321.7 337.4,321.7 337.7,321.7 338.1,321.7 338.4,321.7 338.8,321.8 339.1,321.8 339.5,322.0 339.8,322.1 340.2,321.5 340.5,321.1 340.9,320.9 341.2,320.6 341.6,320.5 341.9,320.3 342.3,320.2 342.6,320.2 343.0,320.2 343.3,320.2 343.7,320.2 344.0,320.3 344.4,320.4 344.7,320.5 345.1,320.7 345.4,320.9 345.8,321.3 346.1,321.7 346.5,322.3 346.8,322.1 347.2,321.9 347.5,321.8 347.9,321.7 348.2,321.7 348.6,321.7 348.9,321.7 349.3,321.7 349.6,321.7 350.0,321.8 350.3,321.8 350.7,322.0 351.0,322.1 351.4,322.3 351.7,322.6 351.7,324.3 351.4,324.6 351.0,324.8 350.7,324.9 350.3,325.1 350.0,325.1 349.6,325.2 349.3,325.2 348.9,325.2 348.6,325.2 348.2,325.2 347.9,325.2 347.5,325.1 347.2,325.0 346.8,324.8 346.5,324.6 346.1,325.2 345.8,325.6 345.4,326.0 345.1,326.2 344.7,326.4 344.4,326.5 344.0,326.6 343.7,326.7 343.3,326.7 343.0,326.7 342.6,326.7 342.3,326.7 341.9,326.6 341.6,326.4 341.2,326.3 340.9,326.0 340.5,325.8 340.2,325.4 339.8,324.8 339.5,324.9 339.1,325.1 338.8,325.1 338.4,325.2 338.1,325.2 337.7,325.2 337.4,325.2 337.0,325.2 336.7,325.2 336.3,325.2 336.0,325.2 335.6,325.2 335.3,325.2 334.9,325.2 334.6,325.2 334.2,325.2 333.9,325.2 333.5,325.2 333.2,325.2 332.8,325.2 332.5,325.2 332.1,325.2 331.8,325.1 331.4,325.0 331.1,324.8 330.7,324.6 330.4,324.4 330.0,324.1Z" fill="#0f5799"/>
<line x1="343.10" y1="320.45" x2="343.10" y2="326.45" stroke="#231f20" stroke-width="1.1"/>
<path d="M334.8,332.0 335.2,332.0 335.5,332.0 335.9,332.0 336.2,332.0 336.6,332.0 336.9,332.0 337.3,331.3 337.6,330.8 338.0,330.4 338.3,330.0 338.7,329.8 339.0,329.7 339.4,329.9 339.7,330.1 340.1,330.5 340.5,330.9 340.8,331.5 341.2,331.3 341.5,330.8 341.9,330.4 342.2,330.2 342.6,330.0 342.9,329.9 343.3,330.1 343.6,330.4 344.0,330.7 344.3,331.1 344.7,331.7 345.0,332.0 345.4,331.8 345.8,331.4 346.1,331.2 346.5,331.1 346.8,331.1 347.2,331.2 347.5,331.3 347.9,331.6 348.2,332.0 348.6,332.0 348.9,332.0 349.3,332.0 349.6,332.0 350.0,332.0 350.3,332.0 350.7,332.0 350.7,333.4 350.3,333.4 350.0,333.4 349.6,333.4 349.3,333.4 348.9,333.4 348.6,333.4 348.2,333.4 347.9,333.8 347.5,334.1 347.2,334.2 346.8,334.3 346.5,334.3 346.1,334.2 345.8,334.0 345.4,333.6 345.0,333.4 344.7,333.7 344.3,334.3 344.0,334.7 343.6,335.0 343.3,335.3 342.9,335.5 342.6,335.4 342.2,335.2 341.9,335.0 341.5,334.6 341.2,334.1 340.8,333.9 340.5,334.5 340.1,334.9 339.7,335.3 339.4,335.5 339.0,335.7 338.7,335.6 338.3,335.4 338.0,335.0 337.6,334.6 337.3,334.1 336.9,333.4 336.6,333.4 336.2,333.4 335.9,333.4 335.5,333.4 335.2,333.4 334.8,333.4Z" fill="#d21a30"/>
<line x1="341.40" y1="331.25" x2="341.40" y2="334.15" stroke="#231f20" stroke-width="1.1"/>
<line x1="329.70" y1="341.80" x2="344.60" y2="341.80" stroke="#1c1a1b" stroke-width="1.35"/>
<path d="M332.3,340.9 332.6,340.6 333.0,340.4 333.3,340.3 333.7,340.2 334.0,340.2 334.4,340.2 334.7,340.3 335.1,340.5 335.4,340.2 335.8,339.8 336.2,339.5 336.5,339.3 336.9,339.0 337.2,338.9 337.6,338.8 337.9,338.9 338.3,339.0 338.6,339.2 339.0,339.5 339.4,339.8 339.7,340.1 340.1,340.3 340.4,340.2 340.8,340.2 341.1,340.2 341.5,340.3 341.8,340.4 342.2,340.6 342.5,340.9 342.5,342.7 342.2,343.0 341.8,343.2 341.5,343.3 341.1,343.4 340.8,343.4 340.4,343.4 340.1,343.3 339.7,343.5 339.4,343.8 339.0,344.1 338.6,344.4 338.3,344.6 337.9,344.7 337.6,344.8 337.2,344.7 336.9,344.6 336.5,344.3 336.2,344.1 335.8,343.8 335.4,343.4 335.1,343.1 334.7,343.3 334.4,343.4 334.0,343.4 333.7,343.4 333.3,343.3 333.0,343.2 332.6,343.0 332.3,342.7Z" fill="#0f5799"/>
<line x1="337.60" y1="339.10" x2="337.60" y2="344.50" stroke="#231f20" stroke-width="1.1"/>
<path d="M334.2,350.4 334.6,350.4 334.9,350.4 335.3,350.4 335.6,350.4 336.0,350.4 336.3,350.2 336.7,349.7 337.0,349.3 337.4,349.0 337.7,348.7 338.1,348.5 338.4,348.3 338.8,348.1 339.1,348.1 339.5,348.2 339.8,348.4 340.2,348.6 340.5,348.9 340.9,349.2 341.3,349.6 341.6,350.1 342.0,350.4 342.3,350.4 342.7,350.4 343.0,350.2 343.4,349.9 343.7,349.8 344.1,349.7 344.4,349.7 344.8,349.8 345.1,350.0 345.5,350.3 345.8,350.4 346.2,350.4 346.5,350.4 346.9,350.4 347.2,350.4 347.6,350.4 347.6,351.8 347.2,351.8 346.9,351.8 346.5,351.8 346.2,351.8 345.8,351.8 345.5,351.9 345.1,352.2 344.8,352.4 344.4,352.5 344.1,352.5 343.7,352.4 343.4,352.3 343.0,352.0 342.7,351.8 342.3,351.8 342.0,351.8 341.6,352.1 341.3,352.6 340.9,353.0 340.5,353.3 340.2,353.6 339.8,353.8 339.5,354.0 339.1,354.1 338.8,354.1 338.4,353.9 338.1,353.7 337.7,353.5 337.4,353.2 337.0,352.9 336.7,352.5 336.3,352.0 336.0,351.8 335.6,351.8 335.3,351.8 334.9,351.8 334.6,351.8 334.2,351.8Z" fill="#d21a30"/>
<line x1="339.00" y1="348.40" x2="339.00" y2="353.80" stroke="#231f20" stroke-width="1.1"/>
<line x1="335.30" y1="360.00" x2="351.60" y2="360.00" stroke="#1c1a1b" stroke-width="1.35"/>
<path d="M338.5,359.0 338.8,358.5 339.2,358.1 339.5,357.7 339.9,357.4 340.3,357.2 340.6,357.0 341.0,356.8 341.3,356.7 341.7,356.8 342.1,356.9 342.4,357.1 342.8,357.3 343.1,357.6 343.5,357.9 343.9,358.3 344.2,358.8 344.6,359.5 344.6,360.5 344.2,361.2 343.9,361.7 343.5,362.1 343.1,362.4 342.8,362.7 342.4,362.9 342.1,363.1 341.7,363.2 341.3,363.3 341.0,363.2 340.6,363.0 340.3,362.8 339.9,362.6 339.5,362.3 339.2,361.9 338.8,361.5 338.5,361.0Z" fill="#0f5799"/>
<path d="M345.7,359.3 346.0,358.8 346.4,358.6 346.7,358.5 347.1,358.4 347.5,358.4 347.8,358.5 348.2,358.7 348.5,359.0 348.5,361.0 348.2,361.3 347.8,361.5 347.5,361.6 347.1,361.6 346.7,361.5 346.4,361.4 346.0,361.2 345.7,360.7Z" fill="#0f5799"/>
<line x1="341.40" y1="357.00" x2="341.40" y2="363.00" stroke="#d21a30" stroke-width="1.1"/>
<line x1="324.80" y1="298.50" x2="324.80" y2="366.60" stroke="#2a2a2a" stroke-width="1.3"/>
<line x1="324.20" y1="366.00" x2="365.00" y2="366.00" stroke="#2a2a2a" stroke-width="1.3"/>
<rect x="325.30" y="366.60" width="39.70" height="1.8" fill="#555" fill-opacity="0.55"/>
<line x1="332.70" y1="366.00" x2="332.70" y2="369.40" stroke="#2a2a2a" stroke-width="1.0"/>
<text x="332.70" y="378.30" font-size="9.3" fill="#2b2b2b" text-anchor="middle">0</text>
<line x1="348.70" y1="366.00" x2="348.70" y2="369.40" stroke="#2a2a2a" stroke-width="1.0"/>
<text x="348.70" y="378.30" font-size="9.3" fill="#2b2b2b" text-anchor="middle">1</text>
<line x1="364.70" y1="366.00" x2="364.70" y2="369.40" stroke="#2a2a2a" stroke-width="1.0"/>
<text x="364.70" y="378.30" font-size="9.3" fill="#2b2b2b" text-anchor="middle">2</text>
<path d="M354.30,332.70 L357.30,332.70 L357.30,341.80 L354.30,341.80" fill="none" stroke="#333" stroke-width="1.25" stroke-linejoin="round"/>
<path d="M361.60,335.20 L362.16,336.48 L363.55,336.62 L362.50,337.54 L362.80,338.91 L361.60,338.20 L360.40,338.91 L360.70,337.54 L359.65,336.62 L361.04,336.48Z" fill="#2a2a2a"/>
<text x="396.20" y="293.00" font-size="9.9" fill="#2b2b2b" textLength="38.90" lengthAdjust="spacingAndGlyphs">CD8 HK2</text>
<line x1="397.00" y1="305.00" x2="423.70" y2="305.00" stroke="#1c1a1b" stroke-width="1.35"/>
<path d="M401.0,304.0 401.4,303.5 401.7,303.0 402.1,302.7 402.4,302.4 402.8,302.2 403.1,302.0 403.5,301.9 403.9,302.0 404.2,302.2 404.6,302.4 404.9,302.7 405.3,303.0 405.6,303.5 406.0,304.0 406.3,304.9 406.7,304.6 407.1,304.4 407.4,304.2 407.8,304.1 408.1,304.0 408.5,303.9 408.8,303.8 409.2,303.8 409.5,303.7 409.9,303.7 410.3,303.7 410.6,303.6 411.0,303.6 411.3,303.6 411.7,303.6 412.0,303.6 412.4,303.6 412.8,303.6 413.1,303.6 413.5,303.6 413.8,303.6 414.2,303.6 414.5,303.6 414.9,303.7 415.2,303.7 415.6,303.7 416.0,303.8 416.3,303.8 416.7,303.9 417.0,304.0 417.4,304.1 417.7,304.2 418.1,304.3 418.4,304.5 418.4,305.5 418.1,305.7 417.7,305.8 417.4,305.9 417.0,306.0 416.7,306.1 416.3,306.2 416.0,306.2 415.6,306.3 415.2,306.3 414.9,306.3 414.5,306.4 414.2,306.4 413.8,306.4 413.5,306.4 413.1,306.4 412.8,306.4 412.4,306.4 412.0,306.4 411.7,306.4 411.3,306.4 411.0,306.4 410.6,306.4 410.3,306.3 409.9,306.3 409.5,306.3 409.2,306.2 408.8,306.2 408.5,306.1 408.1,306.0 407.8,305.9 407.4,305.8 407.1,305.6 406.7,305.4 406.3,305.1 406.0,306.0 405.6,306.5 405.3,307.0 404.9,307.3 404.6,307.6 404.2,307.8 403.9,308.0 403.5,308.1 403.1,308.0 402.8,307.8 402.4,307.6 402.1,307.3 401.7,307.0 401.4,306.5 401.0,306.0Z" fill="#3cb44b"/>
<path d="M407.8,313.3 408.2,313.3 408.5,313.3 408.9,313.3 409.2,313.3 409.6,313.3 409.9,313.3 410.3,313.3 410.6,313.3 411.0,313.3 411.3,313.2 411.7,312.6 412.0,312.2 412.4,311.8 412.7,311.6 413.1,311.4 413.4,311.5 413.8,311.6 414.1,311.9 414.5,312.3 414.8,312.7 415.2,313.3 415.5,313.3 415.9,313.3 416.2,313.3 416.6,313.0 416.9,312.5 417.3,312.1 417.6,311.8 418.0,311.5 418.3,311.3 418.7,311.3 419.0,311.5 419.4,311.8 419.7,312.1 420.1,312.5 420.4,313.1 420.8,313.3 421.1,313.3 421.5,313.3 421.8,313.3 422.2,313.3 422.5,313.3 422.9,313.3 423.2,313.3 423.6,313.3 423.6,314.9 423.2,314.9 422.9,314.9 422.5,314.9 422.2,314.9 421.8,314.9 421.5,314.9 421.1,314.9 420.8,314.9 420.4,315.1 420.1,315.7 419.7,316.1 419.4,316.4 419.0,316.7 418.7,316.9 418.3,316.9 418.0,316.7 417.6,316.4 417.3,316.1 416.9,315.7 416.6,315.2 416.2,314.9 415.9,314.9 415.5,314.9 415.2,314.9 414.8,315.5 414.5,315.9 414.1,316.3 413.8,316.6 413.4,316.7 413.1,316.8 412.7,316.6 412.4,316.4 412.0,316.0 411.7,315.6 411.3,315.0 411.0,314.9 410.6,314.9 410.3,314.9 409.9,314.9 409.6,314.9 409.2,314.9 408.9,314.9 408.5,314.9 408.2,314.9 407.8,314.9Z" fill="#d21a30"/>
<ellipse cx="415.90" cy="314.10" rx="0.80" ry="0.90" fill="#231f20"/>
<line x1="397.00" y1="323.45" x2="427.20" y2="323.45" stroke="#1c1a1b" stroke-width="1.35"/>
<path d="M401.8,322.4 402.1,322.0 402.5,321.7 402.8,321.5 403.2,321.4 403.5,321.3 403.9,321.2 404.2,321.2 404.6,321.2 404.9,321.2 405.3,321.3 405.6,321.4 406.0,321.5 406.3,321.7 406.7,322.0 407.0,322.3 407.4,323.1 407.4,323.8 407.0,324.6 406.7,324.9 406.3,325.2 406.0,325.4 405.6,325.5 405.3,325.6 404.9,325.7 404.6,325.7 404.2,325.7 403.9,325.7 403.5,325.6 403.2,325.5 402.8,325.4 402.5,325.2 402.1,324.9 401.8,324.5Z" fill="#0f5799"/>
<path d="M409.5,322.7 409.8,322.2 410.2,321.9 410.5,321.6 410.9,321.4 411.2,321.2 411.6,321.1 411.9,321.0 412.3,320.9 412.6,320.8 413.0,320.7 413.3,320.6 413.7,320.6 414.0,320.5 414.4,320.5 414.7,320.5 415.1,320.5 415.4,320.5 415.8,320.5 416.1,320.6 416.5,320.6 416.8,320.7 417.2,320.7 417.5,320.8 417.9,320.9 418.2,321.0 418.6,321.2 418.9,321.3 419.3,321.5 419.6,321.7 420.0,322.0 420.3,322.4 420.3,324.5 420.0,324.9 419.6,325.2 419.3,325.4 418.9,325.6 418.6,325.7 418.2,325.9 417.9,326.0 417.5,326.1 417.2,326.2 416.8,326.2 416.5,326.3 416.1,326.3 415.8,326.4 415.4,326.4 415.1,326.4 414.7,326.4 414.4,326.4 414.0,326.4 413.7,326.3 413.3,326.3 413.0,326.2 412.6,326.1 412.3,326.0 411.9,325.9 411.6,325.8 411.2,325.7 410.9,325.5 410.5,325.3 410.2,325.0 409.8,324.7 409.5,324.2Z" fill="#0f5799"/>
<line x1="414.60" y1="320.81" x2="414.60" y2="326.09" stroke="#231f20" stroke-width="1.1"/>
<path d="M404.2,331.9 404.6,331.9 404.9,331.9 405.2,331.9 405.6,331.9 405.9,331.9 406.3,331.9 406.6,331.9 407.0,331.2 407.3,330.5 407.7,330.1 408.1,329.8 408.4,329.6 408.8,329.5 409.1,329.5 409.4,329.5 409.8,329.6 410.1,329.8 410.5,330.1 410.8,330.5 411.2,330.7 411.6,330.3 411.9,330.1 412.2,329.9 412.6,329.8 412.9,329.8 413.3,329.9 413.6,330.0 414.0,330.3 414.3,330.6 414.7,331.2 415.1,331.9 415.4,331.9 415.8,331.9 416.1,331.8 416.4,331.4 416.8,331.1 417.1,330.9 417.5,330.8 417.8,330.9 418.2,331.1 418.6,331.4 418.9,331.8 419.2,331.9 419.6,331.9 419.9,331.9 420.3,331.9 420.6,331.9 421.0,331.9 421.3,331.9 421.7,331.9 421.7,333.4 421.3,333.4 421.0,333.4 420.6,333.4 420.3,333.4 419.9,333.4 419.6,333.4 419.2,333.4 418.9,333.6 418.6,334.0 418.2,334.3 417.8,334.5 417.5,334.6 417.1,334.5 416.8,334.3 416.4,334.0 416.1,333.6 415.8,333.4 415.4,333.4 415.1,333.4 414.7,334.2 414.3,334.8 414.0,335.1 413.6,335.4 413.3,335.5 412.9,335.6 412.6,335.6 412.2,335.5 411.9,335.3 411.6,335.1 411.2,334.7 410.8,334.9 410.5,335.3 410.1,335.6 409.8,335.8 409.4,335.9 409.1,335.9 408.8,335.9 408.4,335.8 408.1,335.6 407.7,335.3 407.3,334.9 407.0,334.2 406.6,333.4 406.3,333.4 405.9,333.4 405.6,333.4 405.2,333.4 404.9,333.4 404.6,333.4 404.2,333.4Z" fill="#d21a30"/>
<line x1="411.40" y1="330.76" x2="411.40" y2="334.64" stroke="#231f20" stroke-width="1.1"/>
<line x1="399.00" y1="341.80" x2="415.60" y2="341.80" stroke="#1c1a1b" stroke-width="1.35"/>
<path d="M402.4,340.7 402.8,340.2 403.1,339.7 403.5,339.3 403.8,339.0 404.2,338.8 404.5,338.6 404.9,338.5 405.2,338.6 405.6,338.8 405.9,339.0 406.3,339.3 406.6,339.7 407.0,340.2 407.3,340.7 407.3,342.9 407.0,343.4 406.6,343.9 406.3,344.3 405.9,344.6 405.6,344.8 405.2,345.0 404.9,345.1 404.5,345.0 404.2,344.8 403.8,344.6 403.5,344.3 403.1,343.9 402.8,343.4 402.4,342.9Z" fill="#0f5799"/>
<path d="M408.1,340.8 408.4,340.5 408.8,340.2 409.1,340.1 409.4,339.9 409.8,339.9 410.1,339.8 410.5,339.8 410.9,339.8 411.2,339.9 411.6,339.9 411.9,340.1 412.2,340.2 412.6,340.5 412.9,340.8 412.9,342.8 412.6,343.1 412.2,343.4 411.9,343.5 411.6,343.7 411.2,343.7 410.9,343.8 410.5,343.8 410.1,343.8 409.8,343.7 409.4,343.7 409.1,343.5 408.8,343.4 408.4,343.1 408.1,342.8Z" fill="#0f5799"/>
<line x1="404.90" y1="338.80" x2="404.90" y2="344.80" stroke="#231f20" stroke-width="1.1"/>
<path d="M401.1,350.4 401.5,350.4 401.8,350.4 402.2,350.4 402.5,350.4 402.9,350.4 403.2,350.4 403.6,350.4 403.9,350.4 404.3,350.4 404.6,350.4 405.0,350.0 405.3,349.5 405.7,349.0 406.0,348.6 406.4,348.3 406.7,348.0 407.1,347.8 407.4,347.6 407.8,347.5 408.1,347.4 408.5,347.5 408.8,347.6 409.2,347.8 409.5,348.1 409.9,348.4 410.2,348.7 410.6,349.1 411.0,349.6 411.3,350.2 411.7,350.4 412.0,350.4 412.4,350.4 412.7,350.4 413.1,350.4 413.4,350.2 413.8,349.9 414.1,349.7 414.5,349.6 414.8,349.6 415.2,349.7 415.5,349.8 415.9,350.1 416.2,350.4 416.6,350.4 416.9,350.4 417.3,350.4 417.6,350.4 418.0,350.4 418.3,350.4 418.7,350.4 419.0,350.4 419.4,350.4 419.7,350.4 420.1,350.4 420.1,351.9 419.7,351.9 419.4,351.9 419.0,351.9 418.7,351.9 418.3,351.9 418.0,351.9 417.6,351.9 417.3,351.9 416.9,351.9 416.6,351.9 416.2,351.9 415.9,352.1 415.5,352.4 415.2,352.5 414.8,352.6 414.5,352.6 414.1,352.5 413.8,352.3 413.4,352.0 413.1,351.9 412.7,351.9 412.4,351.9 412.0,351.9 411.7,351.9 411.3,352.0 411.0,352.6 410.6,353.1 410.2,353.5 409.9,353.8 409.5,354.1 409.2,354.4 408.8,354.6 408.5,354.7 408.1,354.8 407.8,354.7 407.4,354.6 407.1,354.4 406.7,354.2 406.4,353.9 406.0,353.6 405.7,353.2 405.3,352.7 405.0,352.2 404.6,351.9 404.3,351.9 403.9,351.9 403.6,351.9 403.2,351.9 402.9,351.9 402.5,351.9 402.2,351.9 401.8,351.9 401.5,351.9 401.1,351.9Z" fill="#d21a30"/>
<line x1="408.10" y1="347.70" x2="408.10" y2="354.50" stroke="#231f20" stroke-width="1.1"/>
<line x1="404.20" y1="360.00" x2="421.00" y2="360.00" stroke="#1c1a1b" stroke-width="1.35"/>
<path d="M407.6,358.8 407.9,358.2 408.3,357.7 408.6,357.2 409.0,356.9 409.4,356.6 409.7,356.3 410.1,356.1 410.4,356.0 410.8,356.1 411.2,356.2 411.5,356.5 411.9,356.8 412.2,357.1 412.6,357.5 413.0,358.0 413.3,358.6 413.7,359.4 414.0,359.0 414.4,358.7 414.7,358.5 415.1,358.4 415.5,358.4 415.8,358.3 416.2,358.3 416.5,358.3 416.9,358.4 417.3,358.5 417.6,358.6 418.0,358.8 418.3,359.1 418.3,360.9 418.0,361.2 417.6,361.4 417.3,361.5 416.9,361.6 416.5,361.7 416.2,361.7 415.8,361.7 415.5,361.6 415.1,361.6 414.7,361.5 414.4,361.3 414.0,361.0 413.7,360.6 413.3,361.4 413.0,362.0 412.6,362.5 412.2,362.9 411.9,363.2 411.5,363.5 411.2,363.8 410.8,363.9 410.4,364.0 410.1,363.9 409.7,363.7 409.4,363.4 409.0,363.1 408.6,362.8 408.3,362.3 407.9,361.8 407.6,361.2Z" fill="#0f5799"/>
<line x1="410.50" y1="356.30" x2="410.50" y2="363.70" stroke="#231f20" stroke-width="1.1"/>
<line x1="395.50" y1="298.50" x2="395.50" y2="366.60" stroke="#2a2a2a" stroke-width="1.3"/>
<line x1="394.90" y1="366.00" x2="435.80" y2="366.00" stroke="#2a2a2a" stroke-width="1.3"/>
<rect x="396.00" y="366.60" width="39.80" height="1.8" fill="#555" fill-opacity="0.55"/>
<line x1="403.50" y1="366.00" x2="403.50" y2="369.40" stroke="#2a2a2a" stroke-width="1.0"/>
<text x="403.50" y="378.30" font-size="9.3" fill="#2b2b2b" text-anchor="middle">0</text>
<line x1="419.70" y1="366.00" x2="419.70" y2="369.40" stroke="#2a2a2a" stroke-width="1.0"/>
<text x="419.70" y="378.30" font-size="9.3" fill="#2b2b2b" text-anchor="middle">1</text>
<line x1="435.90" y1="366.00" x2="435.90" y2="369.40" stroke="#2a2a2a" stroke-width="1.0"/>
<text x="435.90" y="378.30" font-size="9.3" fill="#2b2b2b" text-anchor="middle">2</text>
<path d="M426.50,332.70 L429.50,332.70 L429.50,341.80 L426.50,341.80" fill="none" stroke="#333" stroke-width="1.25" stroke-linejoin="round"/>
<path d="M433.80,335.20 L434.36,336.48 L435.75,336.62 L434.70,337.54 L435.00,338.91 L433.80,338.20 L432.60,338.91 L432.90,337.54 L431.85,336.62 L433.24,336.48Z" fill="#2a2a2a"/>
<text x="466.70" y="293.00" font-size="9.9" fill="#2b2b2b" textLength="39.70" lengthAdjust="spacingAndGlyphs">Treg HK2</text>
<line x1="468.40" y1="305.00" x2="491.80" y2="305.00" stroke="#1c1a1b" stroke-width="1.35"/>
<path d="M471.5,304.0 471.8,303.6 472.2,303.4 472.5,303.1 472.9,303.0 473.2,302.8 473.6,302.7 473.9,302.5 474.3,302.4 474.6,302.4 475.0,302.3 475.3,302.2 475.7,302.2 476.0,302.1 476.4,302.1 476.7,302.1 477.1,302.1 477.5,302.1 477.8,302.1 478.2,302.1 478.5,302.1 478.9,302.1 479.2,302.2 479.6,302.2 479.9,302.3 480.3,302.4 480.6,302.5 481.0,302.6 481.3,302.7 481.7,302.8 482.0,303.0 482.4,303.2 482.7,303.4 483.1,303.7 483.4,304.2 483.4,305.8 483.1,306.3 482.7,306.6 482.4,306.8 482.0,307.0 481.7,307.2 481.3,307.3 481.0,307.4 480.6,307.5 480.3,307.6 479.9,307.7 479.6,307.8 479.2,307.8 478.9,307.9 478.5,307.9 478.2,307.9 477.8,307.9 477.5,307.9 477.1,307.9 476.7,307.9 476.4,307.9 476.0,307.9 475.7,307.8 475.3,307.8 475.0,307.7 474.6,307.6 474.3,307.6 473.9,307.5 473.6,307.3 473.2,307.2 472.9,307.0 472.5,306.9 472.2,306.6 471.8,306.4 471.5,306.0Z" fill="#3cb44b"/>
<path d="M484.2,304.4 484.5,304.2 484.9,304.0 485.2,303.9 485.6,303.8 485.9,303.8 486.3,303.7 486.6,303.7 487.0,303.7 487.3,303.7 487.7,303.8 488.0,303.8 488.4,303.9 488.7,304.0 489.1,304.2 489.4,304.4 489.4,305.6 489.1,305.8 488.7,306.0 488.4,306.1 488.0,306.2 487.7,306.2 487.3,306.3 487.0,306.3 486.6,306.3 486.3,306.3 485.9,306.2 485.6,306.2 485.2,306.1 484.9,306.0 484.5,305.8 484.2,305.6Z" fill="#3cb44b"/>
<line x1="478.50" y1="302.40" x2="478.50" y2="307.60" stroke="#231f20" stroke-width="1.1"/>
<path d="M480.2,313.4 480.6,313.4 480.9,313.3 481.3,312.8 481.6,312.4 482.0,312.0 482.3,311.7 482.7,311.5 483.0,311.3 483.4,311.1 483.7,311.0 484.1,310.9 484.4,311.0 484.8,311.1 485.2,311.3 485.5,311.5 485.9,311.7 486.2,312.0 486.6,312.3 486.9,312.7 487.3,312.5 487.6,312.1 488.0,311.8 488.3,311.6 488.7,311.3 489.0,311.2 489.4,311.0 489.8,310.9 490.1,310.9 490.5,311.0 490.8,311.2 491.2,311.4 491.5,311.6 491.9,311.9 492.2,312.2 492.6,312.6 492.9,313.0 493.3,313.4 493.6,313.4 494.0,313.4 494.0,314.8 493.6,314.8 493.3,314.8 492.9,315.2 492.6,315.6 492.2,316.0 491.9,316.3 491.5,316.6 491.2,316.8 490.8,317.0 490.5,317.2 490.1,317.3 489.8,317.3 489.4,317.2 489.0,317.0 488.7,316.9 488.3,316.6 488.0,316.4 487.6,316.1 487.3,315.7 486.9,315.5 486.6,315.9 486.2,316.2 485.9,316.5 485.5,316.7 485.2,316.9 484.8,317.1 484.4,317.2 484.1,317.3 483.7,317.2 483.4,317.1 483.0,316.9 482.7,316.7 482.3,316.5 482.0,316.2 481.6,315.8 481.3,315.4 480.9,314.9 480.6,314.8 480.2,314.8Z" fill="#d21a30"/>
<ellipse cx="487.10" cy="314.10" rx="0.90" ry="1.00" fill="#231f20"/>
<line x1="468.10" y1="323.45" x2="497.90" y2="323.45" stroke="#1c1a1b" stroke-width="1.35"/>
<path d="M471.6,322.6 471.9,322.3 472.3,322.1 472.6,321.9 473.0,321.8 473.3,321.7 473.7,321.6 474.0,321.6 474.4,321.6 474.7,321.6 475.1,321.6 475.4,321.6 475.8,321.6 476.1,321.7 476.5,321.8 476.8,321.9 477.2,322.1 477.5,322.3 477.9,322.7 477.9,324.2 477.5,324.6 477.2,324.8 476.8,325.0 476.5,325.1 476.1,325.2 475.8,325.3 475.4,325.3 475.1,325.3 474.7,325.3 474.4,325.3 474.0,325.3 473.7,325.3 473.3,325.2 473.0,325.1 472.6,325.0 472.3,324.8 471.9,324.6 471.6,324.3Z" fill="#0f5799"/>
<path d="M478.6,322.4 479.0,321.8 479.3,321.4 479.7,321.1 480.0,320.9 480.4,320.7 480.7,320.5 481.1,320.4 481.4,320.3 481.8,320.2 482.1,320.2 482.5,320.2 482.8,320.2 483.2,320.2 483.5,320.2 483.9,320.3 484.2,320.4 484.6,320.5 484.9,320.7 485.3,320.9 485.6,321.2 486.0,321.5 486.3,322.0 486.7,322.7 486.7,324.2 486.3,324.9 486.0,325.4 485.6,325.7 485.3,326.0 484.9,326.2 484.6,326.4 484.2,326.5 483.9,326.6 483.5,326.7 483.2,326.7 482.8,326.7 482.5,326.7 482.1,326.7 481.8,326.7 481.4,326.6 481.1,326.5 480.7,326.4 480.4,326.2 480.0,326.0 479.7,325.8 479.3,325.5 479.0,325.1 478.6,324.5Z" fill="#0f5799"/>
<path d="M487.4,322.8 487.8,322.5 488.1,322.3 488.5,322.1 488.8,322.0 489.2,321.9 489.5,321.8 489.9,321.8 490.2,321.8 490.6,321.8 490.9,321.8 491.3,321.8 491.6,321.8 492.0,321.9 492.3,322.0 492.7,322.1 493.0,322.2 493.4,322.4 493.7,322.7 493.7,324.2 493.4,324.5 493.0,324.7 492.7,324.8 492.3,324.9 492.0,325.0 491.6,325.1 491.3,325.1 490.9,325.1 490.6,325.1 490.2,325.1 489.9,325.1 489.5,325.1 489.2,325.0 488.8,324.9 488.5,324.8 488.1,324.6 487.8,324.4 487.4,324.1Z" fill="#0f5799"/>
<line x1="482.30" y1="320.46" x2="482.30" y2="326.44" stroke="#231f20" stroke-width="1.1"/>
<path d="M474.4,331.9 474.8,331.9 475.1,331.9 475.5,331.9 475.8,331.9 476.2,331.9 476.5,331.9 476.9,331.9 477.2,331.9 477.6,331.9 478.0,331.9 478.3,331.9 478.7,331.9 479.0,331.9 479.4,331.9 479.7,331.4 480.1,330.9 480.4,330.4 480.8,330.1 481.2,329.8 481.5,329.5 481.9,329.4 482.2,329.3 482.6,329.5 482.9,329.7 483.3,330.0 483.6,330.3 484.0,330.7 484.4,331.3 484.7,331.9 485.1,331.3 485.4,331.0 485.8,330.7 486.1,330.6 486.5,330.5 486.9,330.4 487.2,330.4 487.6,330.5 487.9,330.6 488.3,330.8 488.6,331.0 489.0,331.4 489.3,331.9 489.7,331.9 490.1,331.9 490.4,331.9 490.8,331.9 491.1,331.9 491.5,331.9 491.8,331.9 492.2,331.9 492.5,331.9 492.9,331.9 492.9,333.4 492.5,333.4 492.2,333.4 491.8,333.4 491.5,333.4 491.1,333.4 490.8,333.4 490.4,333.4 490.1,333.4 489.7,333.4 489.3,333.4 489.0,334.0 488.6,334.4 488.3,334.6 487.9,334.8 487.6,334.9 487.2,335.0 486.9,335.0 486.5,334.9 486.1,334.8 485.8,334.7 485.4,334.4 485.1,334.1 484.7,333.4 484.4,334.1 484.0,334.7 483.6,335.1 483.3,335.4 482.9,335.7 482.6,335.9 482.2,336.1 481.9,336.0 481.5,335.9 481.2,335.6 480.8,335.3 480.4,335.0 480.1,334.5 479.7,334.0 479.4,333.4 479.0,333.4 478.7,333.4 478.3,333.4 478.0,333.4 477.6,333.4 477.2,333.4 476.9,333.4 476.5,333.4 476.2,333.4 475.8,333.4 475.5,333.4 475.1,333.4 474.8,333.4 474.4,333.4Z" fill="#d21a30"/>
<line x1="482.10" y1="329.60" x2="482.10" y2="335.80" stroke="#231f20" stroke-width="1.1"/>
<line x1="471.10" y1="341.80" x2="485.80" y2="341.80" stroke="#1c1a1b" stroke-width="1.35"/>
<path d="M473.4,340.8 473.7,340.4 474.1,340.1 474.4,339.9 474.8,339.7 475.2,339.6 475.5,339.4 475.9,339.3 476.2,339.2 476.6,339.2 477.0,339.1 477.3,339.1 477.7,339.0 478.0,339.0 478.4,339.0 478.8,339.0 479.1,339.0 479.5,339.1 479.8,339.1 480.2,339.2 480.6,339.2 480.9,339.3 481.3,339.4 481.6,339.6 482.0,339.7 482.4,339.9 482.7,340.1 483.1,340.4 483.4,340.8 483.4,342.8 483.1,343.2 482.7,343.5 482.4,343.7 482.0,343.9 481.6,344.0 481.3,344.2 480.9,344.3 480.6,344.4 480.2,344.4 479.8,344.5 479.5,344.5 479.1,344.6 478.8,344.6 478.4,344.6 478.0,344.6 477.7,344.6 477.3,344.5 477.0,344.5 476.6,344.4 476.2,344.4 475.9,344.3 475.5,344.2 475.2,344.0 474.8,343.9 474.4,343.7 474.1,343.5 473.7,343.2 473.4,342.8Z" fill="#0f5799"/>
<line x1="477.40" y1="339.35" x2="477.40" y2="344.25" stroke="#231f20" stroke-width="1.1"/>
<path d="M474.0,350.4 474.4,350.4 474.7,350.4 475.1,350.4 475.4,350.4 475.8,350.4 476.1,349.7 476.5,349.2 476.8,348.8 477.2,348.5 477.5,348.2 477.9,348.0 478.3,347.8 478.6,347.7 479.0,347.8 479.3,348.0 479.7,348.2 480.0,348.5 480.4,348.8 480.7,349.3 481.1,349.8 481.4,350.4 481.8,350.4 482.2,350.1 482.5,349.8 482.9,349.6 483.2,349.4 483.6,349.4 483.9,349.3 484.3,349.3 484.6,349.3 485.0,349.4 485.3,349.5 485.7,349.7 486.1,349.9 486.4,350.3 486.8,350.4 487.1,350.4 487.5,350.4 487.8,350.4 488.2,350.4 488.5,350.4 488.9,350.4 489.2,350.4 489.6,350.4 489.6,351.9 489.2,351.9 488.9,351.9 488.5,351.9 488.2,351.9 487.8,351.9 487.5,351.9 487.1,351.9 486.8,351.9 486.4,351.9 486.1,352.3 485.7,352.5 485.3,352.7 485.0,352.8 484.6,352.9 484.3,352.9 483.9,352.9 483.6,352.8 483.2,352.8 482.9,352.6 482.5,352.4 482.2,352.1 481.8,351.9 481.4,351.9 481.1,352.4 480.7,352.9 480.4,353.4 480.0,353.7 479.7,354.0 479.3,354.2 479.0,354.4 478.6,354.5 478.3,354.4 477.9,354.2 477.5,354.0 477.2,353.7 476.8,353.4 476.5,353.0 476.1,352.5 475.8,351.9 475.4,351.9 475.1,351.9 474.7,351.9 474.4,351.9 474.0,351.9Z" fill="#d21a30"/>
<line x1="481.90" y1="349.80" x2="481.90" y2="352.40" stroke="#231f20" stroke-width="1.6"/>
<line x1="477.20" y1="360.00" x2="491.70" y2="360.00" stroke="#1c1a1b" stroke-width="1.35"/>
<path d="M479.2,359.0 479.5,358.4 479.9,358.0 480.2,357.6 480.6,357.3 480.9,357.0 481.3,356.8 481.7,356.6 482.0,356.5 482.4,356.6 482.7,356.7 483.1,356.9 483.4,357.1 483.8,357.4 484.1,357.8 484.5,358.2 484.9,358.7 485.2,358.9 485.6,358.7 485.9,358.6 486.3,358.5 486.6,358.4 487.0,358.4 487.4,358.4 487.7,358.5 488.1,358.6 488.4,358.7 488.8,358.9 489.1,359.2 489.1,360.8 488.8,361.1 488.4,361.3 488.1,361.4 487.7,361.5 487.4,361.6 487.0,361.6 486.6,361.6 486.3,361.5 485.9,361.4 485.6,361.3 485.2,361.1 484.9,361.3 484.5,361.8 484.1,362.2 483.8,362.6 483.4,362.9 483.1,363.1 482.7,363.3 482.4,363.4 482.0,363.5 481.7,363.4 481.3,363.2 480.9,363.0 480.6,362.7 480.2,362.4 479.9,362.0 479.5,361.6 479.2,361.0Z" fill="#0f5799"/>
<line x1="482.10" y1="356.80" x2="482.10" y2="363.20" stroke="#231f20" stroke-width="1.1"/>
<line x1="466.00" y1="298.50" x2="466.00" y2="366.60" stroke="#2a2a2a" stroke-width="1.3"/>
<line x1="465.40" y1="366.00" x2="506.60" y2="366.00" stroke="#2a2a2a" stroke-width="1.3"/>
<rect x="466.50" y="366.60" width="40.10" height="1.8" fill="#555" fill-opacity="0.55"/>
<line x1="473.90" y1="366.00" x2="473.90" y2="369.40" stroke="#2a2a2a" stroke-width="1.0"/>
<text x="473.90" y="378.30" font-size="9.3" fill="#2b2b2b" text-anchor="middle">0</text>
<line x1="490.20" y1="366.00" x2="490.20" y2="369.40" stroke="#2a2a2a" stroke-width="1.0"/>
<text x="490.20" y="378.30" font-size="9.3" fill="#2b2b2b" text-anchor="middle">1</text>
<line x1="506.50" y1="366.00" x2="506.50" y2="369.40" stroke="#2a2a2a" stroke-width="1.0"/>
<text x="506.50" y="378.30" font-size="9.3" fill="#2b2b2b" text-anchor="middle">2</text>
<path d="M500.40,314.10 L503.40,314.10 L503.40,323.45 L500.40,323.45" fill="none" stroke="#333" stroke-width="1.25" stroke-linejoin="round"/>
<path d="M507.70,316.72 L508.26,318.01 L509.65,318.14 L508.60,319.07 L508.90,320.43 L507.70,319.72 L506.50,320.43 L506.80,319.07 L505.75,318.14 L507.14,318.01Z" fill="#2a2a2a"/>
<path d="M500.40,332.70 L503.40,332.70 L503.40,341.80 L500.40,341.80" fill="none" stroke="#333" stroke-width="1.25" stroke-linejoin="round"/>
<path d="M507.70,335.20 L508.26,336.48 L509.65,336.62 L508.60,337.54 L508.90,338.91 L507.70,338.20 L506.50,338.91 L506.80,337.54 L505.75,336.62 L507.14,336.48Z" fill="#2a2a2a"/>
<rect x="62.30" y="383.5" width="182.80" height="15.3" fill="#e6e7e8"/>
<text x="130.50" y="393.90" font-size="9.6" fill="#2b2b2b" textLength="46.60" lengthAdjust="spacingAndGlyphs">Scaled MFI</text>
<rect x="57.20" y="409.6" width="8.2" height="8.2" fill="#c8102e"/>
<text x="69.40" y="416.50" font-size="9.5" fill="#2b2b2b" textLength="24.80" lengthAdjust="spacingAndGlyphs">GVHD</text>
<rect x="107.80" y="409.6" width="8.2" height="8.2" fill="#0e4d8c"/>
<text x="119.80" y="416.50" font-size="9.5" fill="#2b2b2b" textLength="40.20" lengthAdjust="spacingAndGlyphs">No GVHD</text>
<rect x="171.00" y="409.6" width="8.2" height="8.2" fill="#39aa49"/>
<text x="183.20" y="416.50" font-size="9.5" fill="#2b2b2b" textLength="60.40" lengthAdjust="spacingAndGlyphs">Healthy control</text>
<rect x="323.80" y="383.5" width="182.80" height="15.3" fill="#e6e7e8"/>
<text x="392.00" y="393.90" font-size="9.6" fill="#2b2b2b" textLength="46.60" lengthAdjust="spacingAndGlyphs">Scaled MFI</text>
<rect x="318.70" y="409.6" width="8.2" height="8.2" fill="#c8102e"/>
<text x="330.90" y="416.50" font-size="9.5" fill="#2b2b2b" textLength="24.80" lengthAdjust="spacingAndGlyphs">GVHD</text>
<rect x="369.30" y="409.6" width="8.2" height="8.2" fill="#0e4d8c"/>
<text x="381.30" y="416.50" font-size="9.5" fill="#2b2b2b" textLength="40.20" lengthAdjust="spacingAndGlyphs">No GVHD</text>
<rect x="432.50" y="409.6" width="8.2" height="8.2" fill="#39aa49"/>
<text x="444.70" y="416.50" font-size="9.5" fill="#2b2b2b" textLength="60.40" lengthAdjust="spacingAndGlyphs">Healthy control</text>
<rect x="0.75" y="0.75" width="518.5" height="426.5" fill="none" stroke="#000" stroke-width="1.5"/></svg>
</body></html>
